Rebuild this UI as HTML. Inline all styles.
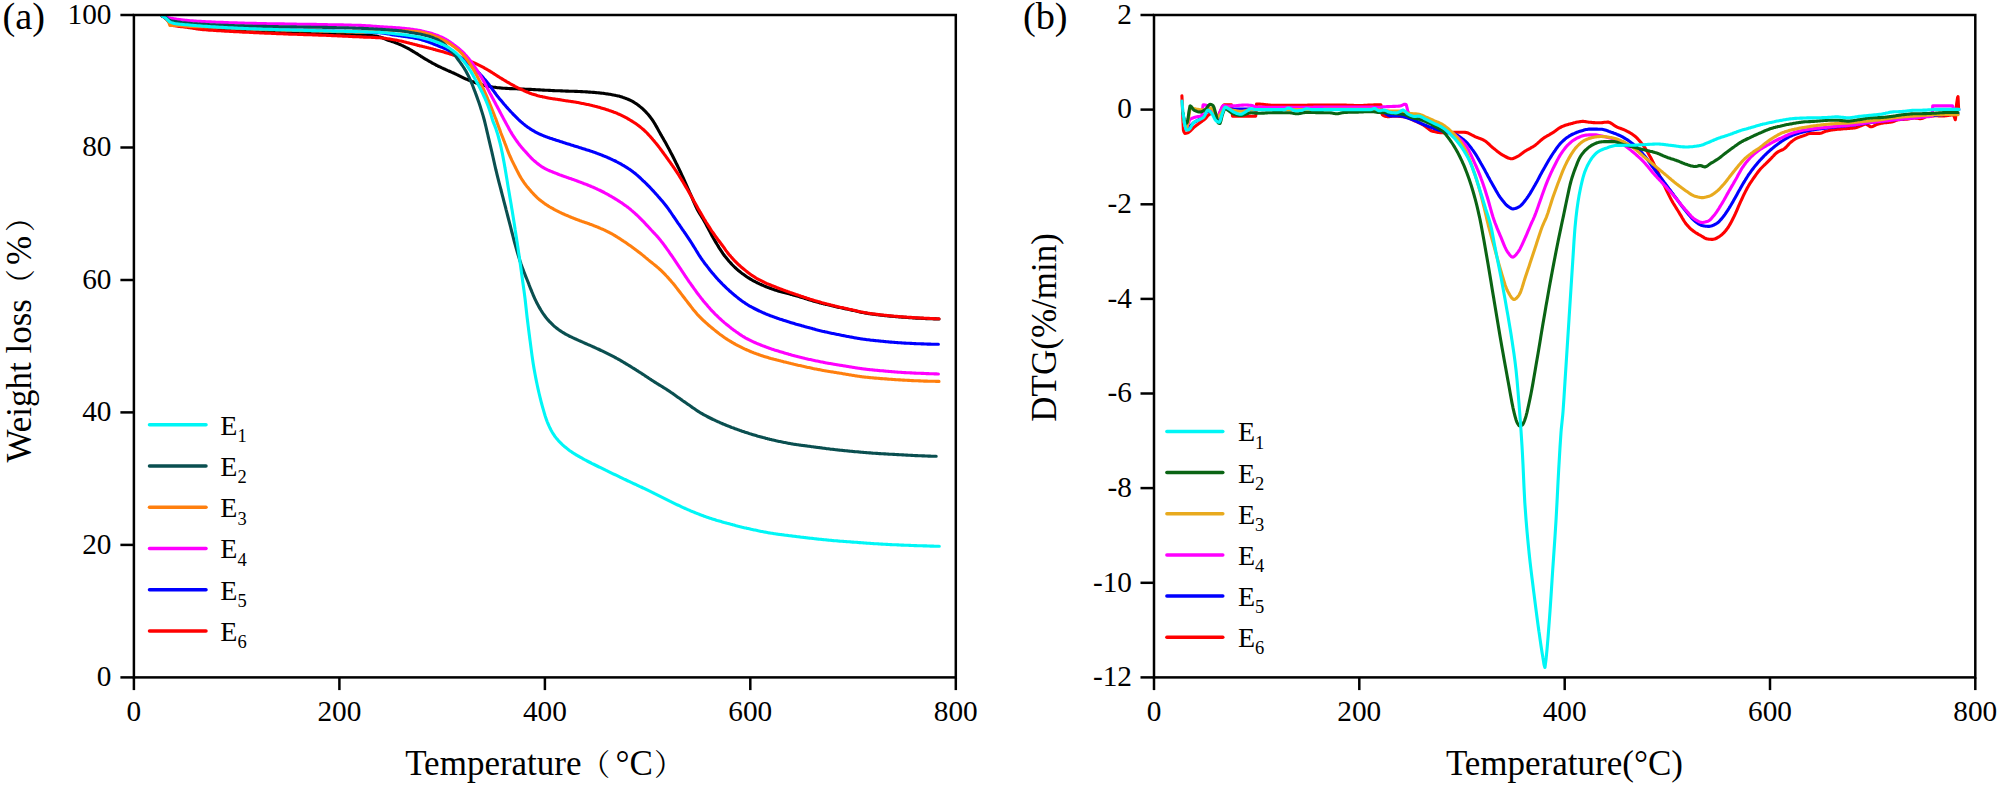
<!DOCTYPE html>
<html><head><meta charset="utf-8"><title>TG and DTG curves</title>
<style>
html,body{margin:0;padding:0;background:#fff;}
body{width:2000px;height:788px;overflow:hidden;}
svg{display:block}
text{font-family:"Liberation Serif","Noto Serif CJK SC",serif;fill:#000;}
.tk{font-size:29.3px}
.ax{font-size:35px}
.pl{font-size:38.3px}
.fw{font-size:30px}
.lg{font-size:28px}
.sub{font-size:18.5px}
</style></head><body>
<svg width="2000" height="788" viewBox="0 0 2000 788">
<rect width="2000" height="788" fill="#fff"/>
<g id="panel-a">
<path d="M161.9 15.8 L162.9 16.4 L163.9 17.0 L164.9 17.7 L165.9 18.5 L166.3 18.8 L166.9 19.4 L167.9 20.5 L168.9 21.6 L169.9 22.4 L170.0 22.5 L170.9 23.0 L171.9 23.5 L172.9 23.9 L173.9 24.3 L174.9 24.6 L175.0 24.6 L175.9 24.8 L176.9 25.0 L177.9 25.2 L178.9 25.4 L179.9 25.6 L180.9 25.7 L181.9 25.9 L182.9 26.0 L183.9 26.2 L184.9 26.3 L185.9 26.4 L186.9 26.5 L187.5 26.6 L187.9 26.6 L188.9 26.8 L189.9 26.9 L190.9 27.0 L191.9 27.1 L192.9 27.2 L193.9 27.3 L194.9 27.5 L195.9 27.6 L196.9 27.7 L197.9 27.8 L198.9 27.9 L199.9 28.0 L200.9 28.1 L201.9 28.1 L202.9 28.2 L203.9 28.3 L204.9 28.4 L205.9 28.5 L206.9 28.6 L207.9 28.7 L208.9 28.7 L209.9 28.8 L210.9 28.9 L211.9 29.0 L212.5 29.0 L212.9 29.0 L213.9 29.1 L214.9 29.2 L215.9 29.2 L216.9 29.3 L217.9 29.4 L218.9 29.4 L219.9 29.5 L220.9 29.5 L221.9 29.6 L222.9 29.7 L223.9 29.7 L224.9 29.8 L225.9 29.8 L226.9 29.9 L227.9 29.9 L228.9 30.0 L229.9 30.0 L230.9 30.1 L231.9 30.1 L232.9 30.2 L233.9 30.2 L234.9 30.3 L235.9 30.3 L236.9 30.4 L237.9 30.4 L238.9 30.5 L239.9 30.5 L240.9 30.6 L241.9 30.6 L242.9 30.7 L243.9 30.7 L244.9 30.8 L245.9 30.8 L246.9 30.9 L247.9 30.9 L248.9 31.0 L249.9 31.0 L250.0 31.0 L250.9 31.0 L251.9 31.1 L252.9 31.1 L253.9 31.2 L254.9 31.2 L255.9 31.3 L256.9 31.3 L257.9 31.4 L258.9 31.4 L259.9 31.4 L260.9 31.5 L261.9 31.5 L262.9 31.6 L263.9 31.6 L264.9 31.6 L265.9 31.7 L266.9 31.7 L267.9 31.8 L268.9 31.8 L269.9 31.9 L270.9 31.9 L271.9 31.9 L272.9 32.0 L273.9 32.0 L274.9 32.0 L275.9 32.1 L276.9 32.1 L277.9 32.2 L278.9 32.2 L279.9 32.2 L280.9 32.3 L281.9 32.3 L282.9 32.3 L283.9 32.4 L284.9 32.4 L285.9 32.4 L286.9 32.5 L287.5 32.5 L287.9 32.5 L288.9 32.5 L289.9 32.6 L290.9 32.6 L291.9 32.6 L292.9 32.7 L293.9 32.7 L294.9 32.7 L295.9 32.8 L296.9 32.8 L297.9 32.8 L298.9 32.9 L299.9 32.9 L300.9 32.9 L301.9 33.0 L302.9 33.0 L303.9 33.0 L304.9 33.0 L305.9 33.1 L306.9 33.1 L307.9 33.1 L308.9 33.1 L309.9 33.2 L310.9 33.2 L311.9 33.2 L312.9 33.3 L313.9 33.3 L314.9 33.3 L315.9 33.3 L316.9 33.4 L317.9 33.4 L318.9 33.4 L319.9 33.5 L320.9 33.5 L321.9 33.5 L322.9 33.5 L323.9 33.6 L324.9 33.6 L325.0 33.6 L325.9 33.6 L326.9 33.7 L327.9 33.7 L328.9 33.7 L329.9 33.7 L330.9 33.8 L331.9 33.8 L332.9 33.8 L333.9 33.8 L334.9 33.9 L335.9 33.9 L336.9 33.9 L337.9 33.9 L338.9 34.0 L339.9 34.0 L340.9 34.0 L341.9 34.0 L342.9 34.1 L343.9 34.1 L344.9 34.1 L345.9 34.2 L346.9 34.2 L347.9 34.2 L348.9 34.3 L349.9 34.3 L350.0 34.3 L350.9 34.3 L351.9 34.4 L352.9 34.4 L353.9 34.4 L354.9 34.5 L355.9 34.5 L356.9 34.6 L357.9 34.6 L358.9 34.6 L359.9 34.7 L360.9 34.7 L361.9 34.8 L362.9 34.8 L363.9 34.9 L364.9 34.9 L365.9 35.0 L366.9 35.1 L367.9 35.1 L368.8 35.2 L368.9 35.2 L369.9 35.3 L370.9 35.4 L371.9 35.5 L372.9 35.7 L373.9 35.8 L374.9 36.0 L375.9 36.1 L376.9 36.3 L377.9 36.5 L378.9 36.8 L379.9 37.0 L380.0 37.0 L380.9 37.3 L381.9 37.6 L382.9 38.0 L383.9 38.5 L384.9 38.9 L385.9 39.4 L386.9 39.8 L387.5 40.0 L387.9 40.2 L388.9 40.5 L389.9 40.8 L390.9 41.1 L391.9 41.5 L392.9 41.8 L393.9 42.1 L394.9 42.5 L395.0 42.5 L395.9 42.9 L396.9 43.2 L397.9 43.6 L398.9 44.1 L399.9 44.5 L400.9 44.9 L401.9 45.4 L402.9 45.8 L403.9 46.3 L404.9 46.8 L405.0 46.8 L405.9 47.3 L406.9 47.8 L407.9 48.3 L408.9 48.9 L409.9 49.5 L410.9 50.1 L411.9 50.7 L412.9 51.3 L413.9 51.9 L414.9 52.5 L415.0 52.5 L415.9 53.1 L416.9 53.7 L417.9 54.3 L418.9 55.0 L419.9 55.6 L420.9 56.3 L421.9 56.9 L422.9 57.5 L423.9 58.2 L424.9 58.8 L425.0 58.8 L425.9 59.4 L426.9 59.9 L427.9 60.5 L428.9 61.1 L429.9 61.7 L430.9 62.2 L431.9 62.8 L432.9 63.4 L433.9 63.9 L434.9 64.4 L435.9 65.0 L436.9 65.5 L437.0 65.5 L437.9 66.0 L438.9 66.5 L439.9 66.9 L440.9 67.4 L441.9 67.9 L442.9 68.3 L443.9 68.8 L444.9 69.2 L445.9 69.7 L446.9 70.1 L447.9 70.6 L448.9 71.0 L449.9 71.5 L450.0 71.5 L450.9 71.9 L451.9 72.4 L452.9 72.8 L453.9 73.2 L454.9 73.7 L455.9 74.1 L456.9 74.6 L457.6 74.9 L457.9 75.1 L458.9 75.6 L459.9 76.1 L460.9 76.6 L461.9 77.1 L462.9 77.6 L463.9 78.1 L464.9 78.6 L465.2 78.7 L465.9 79.0 L466.9 79.4 L467.9 79.8 L468.9 80.2 L469.9 80.6 L470.9 81.0 L471.9 81.4 L472.8 81.7 L472.9 81.8 L473.9 82.1 L474.9 82.5 L475.9 82.9 L476.9 83.2 L477.9 83.6 L478.9 83.9 L479.9 84.2 L480.5 84.4 L480.9 84.5 L481.9 84.8 L482.9 85.1 L483.9 85.4 L484.9 85.6 L485.9 85.9 L486.9 86.1 L487.9 86.3 L488.1 86.3 L488.9 86.4 L489.9 86.6 L490.9 86.8 L491.9 86.9 L492.9 87.1 L493.9 87.2 L494.9 87.3 L495.7 87.4 L495.9 87.4 L496.9 87.6 L497.9 87.7 L498.9 87.8 L499.9 87.9 L500.9 88.0 L501.9 88.1 L502.9 88.2 L503.3 88.2 L503.9 88.2 L504.9 88.3 L505.9 88.4 L506.9 88.4 L507.9 88.5 L508.9 88.5 L509.9 88.6 L510.9 88.6 L510.9 88.6 L511.9 88.6 L512.9 88.7 L513.9 88.7 L514.9 88.8 L515.9 88.8 L516.9 88.8 L517.9 88.9 L518.5 88.9 L518.9 88.9 L519.9 89.0 L520.9 89.0 L521.9 89.0 L522.9 89.1 L523.9 89.1 L524.9 89.2 L525.9 89.2 L526.9 89.3 L527.9 89.3 L528.9 89.4 L529.9 89.4 L530.0 89.4 L530.9 89.4 L531.9 89.5 L532.9 89.5 L533.9 89.6 L534.9 89.6 L535.9 89.7 L536.9 89.8 L537.9 89.8 L538.9 89.9 L539.9 89.9 L540.9 90.0 L541.9 90.0 L542.9 90.1 L543.9 90.1 L544.9 90.2 L545.9 90.2 L546.9 90.3 L547.9 90.3 L548.9 90.4 L549.9 90.4 L551.0 90.5 L551.3 90.5 L552.0 90.5 L553.0 90.6 L554.0 90.6 L555.0 90.7 L556.0 90.7 L557.0 90.7 L558.0 90.8 L559.0 90.8 L560.0 90.8 L561.0 90.9 L562.0 90.9 L563.0 91.0 L564.0 91.0 L565.0 91.0 L566.0 91.1 L567.0 91.1 L568.0 91.1 L569.0 91.2 L570.0 91.2 L570.0 91.2 L571.0 91.2 L572.0 91.3 L573.0 91.3 L574.0 91.3 L575.0 91.4 L576.0 91.4 L577.0 91.4 L578.0 91.5 L579.0 91.5 L579.0 91.5 L580.0 91.5 L581.0 91.6 L582.0 91.6 L583.0 91.7 L584.0 91.7 L585.0 91.8 L586.0 91.9 L587.0 91.9 L588.0 92.0 L589.0 92.1 L590.0 92.1 L591.0 92.2 L592.0 92.3 L593.0 92.4 L594.0 92.4 L595.0 92.5 L596.0 92.6 L597.0 92.7 L598.0 92.8 L598.1 92.8 L599.0 92.9 L600.0 93.0 L601.0 93.1 L602.0 93.2 L603.0 93.3 L604.0 93.4 L605.0 93.6 L606.0 93.7 L607.0 93.9 L608.0 94.0 L609.0 94.2 L610.0 94.3 L611.0 94.5 L612.0 94.7 L613.0 94.9 L614.0 95.1 L615.0 95.2 L616.0 95.5 L617.0 95.7 L617.1 95.7 L618.0 95.9 L619.0 96.1 L620.0 96.4 L621.0 96.7 L622.0 97.0 L623.0 97.4 L624.0 97.7 L625.0 98.1 L626.0 98.5 L627.0 98.9 L628.0 99.3 L629.0 99.7 L630.0 100.2 L630.4 100.4 L631.0 100.7 L632.0 101.2 L633.0 101.7 L634.0 102.3 L635.0 103.0 L636.0 103.6 L637.0 104.3 L638.0 105.0 L639.0 105.8 L640.0 106.6 L641.0 107.4 L641.8 108.1 L642.0 108.2 L643.0 109.1 L644.0 110.1 L645.0 111.0 L646.0 112.1 L647.0 113.2 L648.0 114.3 L649.0 115.5 L650.0 116.8 L651.0 118.1 L651.3 118.5 L652.0 119.4 L653.0 120.9 L654.0 122.5 L655.0 124.1 L656.0 125.9 L657.0 127.6 L658.0 129.4 L659.0 131.3 L660.0 133.0 L660.9 134.7 L661.0 134.8 L662.0 136.6 L663.0 138.3 L664.0 140.1 L665.0 141.8 L666.0 143.6 L667.0 145.4 L668.0 147.3 L669.0 149.1 L670.0 151.0 L670.4 151.8 L671.0 152.9 L672.0 154.8 L673.0 156.8 L674.0 158.7 L675.0 160.7 L676.0 162.8 L677.0 164.8 L678.0 166.9 L679.0 168.9 L679.9 170.9 L680.0 171.0 L681.0 173.2 L682.0 175.3 L683.0 177.5 L684.0 179.7 L685.0 181.9 L686.0 184.1 L687.0 186.4 L688.0 188.6 L689.0 190.8 L689.4 191.8 L690.0 193.1 L691.0 195.4 L692.0 197.7 L693.0 200.1 L694.0 202.4 L695.0 204.7 L696.0 206.8 L697.0 208.8 L697.0 208.9 L698.0 210.7 L699.0 212.5 L700.0 214.2 L701.0 215.8 L702.0 217.4 L703.0 219.0 L704.0 220.7 L704.7 222.0 L705.0 222.5 L706.0 224.3 L707.0 226.2 L708.0 228.1 L709.0 230.0 L710.0 231.9 L711.0 233.8 L712.0 235.7 L713.0 237.4 L713.3 238.0 L714.0 239.2 L715.0 240.9 L716.0 242.6 L717.0 244.3 L718.0 245.9 L719.0 247.6 L720.0 249.2 L721.0 250.7 L722.0 252.2 L723.0 253.7 L724.0 255.0 L724.7 256.0 L725.0 256.3 L726.0 257.6 L727.0 258.8 L728.0 260.0 L729.0 261.2 L730.0 262.3 L731.0 263.4 L732.0 264.5 L733.0 265.5 L734.0 266.5 L735.0 267.5 L736.0 268.4 L737.0 269.3 L738.0 270.2 L738.0 270.2 L739.0 271.0 L740.0 271.8 L741.0 272.6 L742.0 273.4 L743.0 274.1 L744.0 274.8 L745.0 275.5 L746.0 276.2 L747.0 276.9 L748.0 277.6 L749.0 278.2 L750.0 278.8 L751.0 279.4 L752.0 280.0 L753.0 280.6 L754.0 281.1 L755.0 281.6 L755.1 281.7 L756.0 282.1 L757.0 282.7 L758.0 283.1 L759.0 283.6 L760.0 284.1 L761.0 284.5 L762.0 285.0 L763.0 285.4 L764.0 285.9 L765.0 286.3 L766.0 286.7 L767.0 287.1 L768.0 287.5 L769.0 287.8 L770.0 288.2 L771.0 288.6 L772.0 288.9 L773.0 289.3 L774.0 289.6 L774.2 289.7 L775.0 290.0 L776.0 290.3 L777.0 290.6 L778.0 290.9 L779.0 291.2 L780.0 291.5 L781.0 291.7 L782.0 292.0 L783.0 292.3 L784.0 292.6 L785.0 292.8 L786.0 293.1 L787.0 293.3 L788.0 293.6 L789.0 293.8 L790.0 294.1 L791.0 294.4 L792.0 294.6 L793.0 294.9 L794.0 295.2 L795.0 295.4 L796.0 295.7 L797.0 296.0 L797.0 296.0 L798.0 296.3 L799.0 296.6 L800.0 296.9 L801.0 297.2 L802.0 297.5 L803.0 297.8 L804.0 298.1 L805.0 298.5 L806.0 298.8 L807.0 299.1 L808.0 299.4 L809.0 299.7 L810.0 300.0 L811.0 300.3 L812.0 300.6 L813.0 300.9 L814.0 301.2 L815.0 301.5 L816.0 301.8 L816.0 301.8 L817.0 302.1 L818.0 302.3 L819.0 302.6 L820.0 302.9 L821.0 303.1 L822.0 303.4 L823.0 303.6 L824.0 303.9 L825.0 304.1 L826.0 304.4 L827.0 304.6 L828.0 304.8 L829.0 305.1 L830.0 305.3 L831.0 305.5 L832.0 305.8 L833.0 306.0 L834.0 306.2 L835.0 306.5 L835.1 306.5 L836.0 306.7 L837.0 306.9 L838.0 307.2 L839.0 307.4 L840.0 307.6 L841.0 307.8 L842.0 308.0 L843.0 308.2 L844.0 308.5 L845.0 308.7 L846.0 308.9 L847.0 309.1 L848.0 309.3 L849.0 309.5 L850.0 309.7 L851.0 309.9 L852.0 310.2 L853.0 310.4 L854.0 310.6 L855.0 310.8 L855.0 310.8 L856.0 311.0 L857.0 311.2 L858.0 311.5 L859.0 311.7 L860.0 311.9 L861.0 312.2 L862.0 312.4 L863.0 312.6 L864.0 312.8 L865.0 313.0 L865.1 313.0 L866.0 313.1 L867.0 313.3 L868.0 313.5 L869.0 313.6 L870.0 313.8 L871.0 313.9 L872.0 314.0 L873.0 314.2 L874.0 314.3 L875.0 314.4 L876.0 314.6 L877.0 314.7 L878.0 314.8 L879.0 314.9 L880.0 315.0 L881.0 315.2 L882.0 315.3 L883.0 315.4 L884.0 315.5 L884.2 315.5 L885.0 315.6 L886.0 315.7 L887.0 315.8 L888.0 315.9 L889.0 316.0 L890.0 316.1 L891.0 316.2 L892.0 316.3 L893.0 316.4 L894.0 316.5 L895.0 316.5 L896.0 316.6 L897.0 316.7 L898.0 316.8 L899.0 316.9 L900.0 317.0 L901.0 317.0 L902.0 317.1 L903.0 317.2 L903.2 317.2 L904.0 317.3 L905.0 317.3 L906.0 317.4 L907.0 317.5 L908.0 317.5 L909.0 317.6 L910.0 317.7 L911.0 317.8 L912.0 317.8 L913.0 317.9 L914.0 318.0 L915.0 318.0 L916.0 318.1 L917.0 318.1 L918.0 318.2 L919.0 318.2 L920.0 318.3 L921.0 318.3 L922.0 318.4 L922.2 318.4 L923.0 318.4 L924.0 318.5 L925.0 318.5 L926.0 318.6 L927.0 318.6 L928.0 318.6 L929.0 318.7 L930.0 318.7 L931.0 318.8 L932.0 318.8 L933.0 318.8 L934.0 318.9 L935.0 318.9 L936.0 318.9 L937.0 319.0 L938.0 319.0 L939.0 319.0" fill="none" stroke="#000000" stroke-width="3.1" stroke-linejoin="round" stroke-linecap="round"/>
<path d="M161.9 15.8 L162.9 16.3 L163.9 16.9 L164.9 17.6 L165.9 18.5 L166.3 18.8 L166.9 19.4 L167.9 20.5 L168.9 21.8 L169.3 22.3 L169.9 23.4 L170.9 24.9 L171.0 25.0 L171.9 25.3 L172.9 25.5 L173.9 25.6 L174.9 25.8 L175.0 25.8 L175.9 25.9 L176.9 26.1 L177.9 26.2 L178.9 26.4 L179.9 26.5 L180.9 26.6 L181.9 26.7 L182.9 26.8 L183.9 26.9 L184.9 27.1 L185.9 27.2 L186.9 27.3 L187.5 27.4 L187.9 27.5 L188.9 27.6 L189.9 27.8 L190.9 27.9 L191.9 28.1 L192.9 28.3 L193.9 28.4 L194.9 28.6 L195.9 28.8 L196.9 28.9 L197.9 29.0 L198.9 29.2 L199.9 29.3 L200.0 29.3 L200.9 29.4 L201.9 29.5 L202.9 29.6 L203.9 29.7 L204.9 29.8 L205.9 29.8 L206.9 29.9 L207.9 30.0 L208.9 30.1 L209.9 30.1 L210.9 30.2 L211.9 30.3 L212.5 30.3 L212.9 30.3 L213.9 30.4 L214.9 30.5 L215.9 30.5 L216.9 30.6 L217.9 30.7 L218.9 30.7 L219.9 30.8 L220.9 30.8 L221.9 30.9 L222.9 31.0 L223.9 31.0 L224.9 31.1 L225.9 31.1 L226.9 31.2 L227.9 31.3 L228.9 31.3 L229.9 31.4 L230.9 31.4 L231.9 31.5 L232.9 31.5 L233.9 31.6 L234.9 31.6 L235.9 31.7 L236.9 31.7 L237.9 31.8 L238.9 31.8 L239.9 31.9 L240.9 32.0 L241.9 32.0 L242.9 32.1 L243.9 32.1 L244.9 32.2 L245.9 32.2 L246.9 32.2 L247.9 32.3 L248.9 32.3 L249.9 32.4 L250.0 32.4 L250.9 32.4 L251.9 32.5 L252.9 32.5 L253.9 32.6 L254.9 32.6 L255.9 32.7 L256.9 32.7 L257.9 32.8 L258.9 32.8 L259.9 32.9 L260.9 32.9 L261.9 33.0 L262.9 33.0 L263.9 33.0 L264.9 33.1 L265.9 33.1 L266.9 33.2 L267.9 33.2 L268.9 33.3 L269.9 33.3 L270.9 33.3 L271.9 33.4 L272.9 33.4 L273.9 33.5 L274.9 33.5 L275.9 33.5 L276.9 33.6 L277.9 33.6 L278.9 33.7 L279.9 33.7 L280.9 33.7 L281.9 33.8 L282.9 33.8 L283.9 33.9 L284.9 33.9 L285.9 33.9 L286.9 34.0 L287.5 34.0 L287.9 34.0 L288.9 34.1 L289.9 34.1 L290.9 34.1 L291.9 34.2 L292.9 34.2 L293.9 34.2 L294.9 34.3 L295.9 34.3 L296.9 34.3 L297.9 34.4 L298.9 34.4 L299.9 34.4 L300.9 34.5 L301.9 34.5 L302.9 34.5 L303.9 34.6 L304.9 34.6 L305.9 34.6 L306.9 34.7 L307.9 34.7 L308.9 34.7 L309.9 34.8 L310.9 34.8 L311.9 34.8 L312.9 34.9 L313.9 34.9 L314.9 34.9 L315.9 35.0 L316.9 35.0 L317.9 35.0 L318.9 35.1 L319.9 35.1 L320.9 35.1 L321.9 35.2 L322.9 35.2 L323.9 35.3 L324.9 35.3 L325.0 35.3 L325.9 35.3 L326.9 35.4 L327.9 35.4 L328.9 35.5 L329.9 35.5 L330.9 35.5 L331.9 35.6 L332.9 35.6 L333.9 35.7 L334.9 35.7 L335.9 35.8 L336.9 35.8 L337.9 35.9 L338.9 35.9 L339.9 35.9 L340.9 36.0 L341.9 36.0 L342.9 36.1 L343.9 36.1 L344.9 36.2 L345.9 36.2 L346.9 36.3 L347.9 36.3 L348.9 36.4 L349.9 36.4 L350.9 36.5 L351.9 36.5 L352.9 36.6 L353.9 36.6 L354.9 36.6 L355.9 36.7 L356.9 36.7 L357.9 36.8 L358.9 36.8 L359.9 36.9 L360.9 36.9 L361.9 37.0 L362.5 37.0 L362.9 37.0 L363.9 37.1 L364.9 37.1 L365.9 37.1 L366.9 37.2 L367.9 37.2 L368.9 37.3 L369.9 37.3 L370.9 37.3 L371.9 37.4 L372.9 37.4 L373.9 37.5 L374.9 37.5 L375.9 37.6 L376.9 37.6 L377.9 37.7 L378.9 37.7 L379.9 37.8 L380.0 37.8 L380.9 37.9 L381.9 38.0 L382.9 38.1 L383.9 38.2 L384.9 38.3 L385.9 38.4 L386.9 38.6 L387.9 38.7 L388.9 38.9 L389.9 39.0 L390.9 39.2 L391.9 39.4 L392.9 39.6 L393.9 39.7 L394.9 39.9 L395.9 40.1 L396.9 40.3 L397.9 40.5 L398.9 40.7 L399.0 40.7 L399.9 40.9 L400.9 41.1 L401.9 41.3 L402.9 41.5 L403.9 41.8 L404.9 42.0 L405.9 42.2 L406.9 42.5 L407.9 42.7 L408.9 43.0 L409.9 43.3 L410.9 43.5 L411.9 43.8 L412.9 44.1 L413.9 44.3 L414.9 44.6 L415.9 44.8 L416.9 45.1 L417.9 45.4 L418.1 45.4 L418.9 45.6 L419.9 45.9 L420.9 46.1 L421.9 46.3 L422.9 46.6 L423.9 46.8 L424.9 47.1 L425.9 47.3 L426.9 47.6 L427.9 47.8 L428.9 48.1 L429.9 48.3 L430.9 48.6 L431.9 48.8 L432.9 49.1 L433.9 49.4 L434.9 49.6 L435.9 49.9 L436.9 50.2 L437.1 50.2 L437.9 50.4 L438.9 50.7 L439.9 51.0 L440.9 51.3 L441.9 51.5 L442.9 51.8 L443.9 52.1 L444.9 52.4 L445.9 52.7 L446.9 53.0 L447.9 53.3 L448.9 53.6 L449.9 53.9 L450.9 54.2 L451.9 54.5 L452.9 54.9 L453.9 55.2 L454.9 55.5 L455.9 55.8 L456.1 55.9 L456.9 56.2 L457.9 56.5 L458.9 56.9 L459.9 57.2 L460.9 57.6 L461.9 57.9 L462.9 58.3 L463.9 58.7 L464.9 59.0 L465.9 59.4 L466.9 59.8 L467.9 60.2 L468.9 60.6 L469.9 61.0 L470.9 61.4 L471.3 61.6 L471.9 61.9 L472.9 62.3 L473.9 62.8 L474.9 63.2 L475.9 63.7 L476.9 64.2 L477.9 64.7 L478.9 65.2 L479.9 65.7 L480.9 66.2 L481.9 66.7 L482.9 67.2 L483.9 67.7 L484.9 68.3 L485.9 68.8 L486.6 69.2 L486.9 69.4 L487.9 70.0 L488.9 70.6 L489.9 71.2 L490.9 71.8 L491.9 72.4 L492.9 73.1 L493.9 73.7 L494.9 74.4 L495.9 75.0 L496.9 75.7 L497.9 76.3 L498.9 76.9 L499.9 77.6 L500.9 78.2 L501.8 78.7 L501.9 78.8 L502.9 79.4 L503.9 80.0 L504.9 80.6 L505.9 81.2 L506.9 81.8 L507.9 82.3 L508.9 82.9 L509.9 83.5 L510.9 84.1 L511.9 84.6 L512.9 85.2 L513.9 85.7 L514.9 86.3 L515.9 86.8 L516.9 87.3 L517.0 87.3 L517.9 87.8 L518.9 88.3 L519.9 88.8 L520.9 89.3 L521.9 89.7 L522.9 90.2 L523.9 90.7 L524.9 91.1 L525.9 91.6 L526.9 92.0 L527.9 92.4 L528.9 92.8 L529.9 93.2 L530.9 93.6 L531.9 93.9 L532.2 94.0 L532.9 94.2 L533.9 94.5 L534.9 94.8 L535.9 95.1 L536.9 95.4 L537.9 95.7 L538.9 95.9 L539.9 96.2 L540.9 96.4 L541.9 96.6 L542.9 96.9 L543.9 97.1 L544.9 97.3 L545.9 97.5 L546.9 97.7 L547.5 97.8 L547.9 97.9 L548.9 98.1 L549.9 98.2 L551.0 98.4 L552.0 98.6 L553.0 98.7 L554.0 98.9 L555.0 99.0 L556.0 99.2 L557.0 99.3 L558.0 99.5 L559.0 99.6 L560.0 99.8 L561.0 99.9 L562.0 100.1 L562.7 100.2 L563.0 100.2 L564.0 100.4 L565.0 100.6 L566.0 100.7 L567.0 100.9 L568.0 101.0 L569.0 101.2 L570.0 101.3 L571.0 101.5 L572.0 101.6 L573.0 101.8 L574.0 101.9 L575.0 102.1 L576.0 102.3 L577.0 102.4 L578.0 102.6 L579.0 102.8 L579.0 102.8 L580.0 103.0 L581.0 103.2 L582.0 103.4 L583.0 103.6 L584.0 103.8 L585.0 104.0 L586.0 104.2 L587.0 104.4 L588.0 104.6 L589.0 104.8 L590.0 105.1 L591.0 105.3 L592.0 105.5 L593.0 105.8 L594.0 106.0 L595.0 106.3 L596.0 106.5 L597.0 106.8 L598.0 107.1 L598.1 107.1 L599.0 107.3 L600.0 107.6 L601.0 107.9 L602.0 108.2 L603.0 108.5 L604.0 108.8 L605.0 109.1 L606.0 109.4 L607.0 109.7 L608.0 110.0 L609.0 110.4 L610.0 110.7 L611.0 111.1 L612.0 111.4 L613.0 111.8 L614.0 112.2 L615.0 112.5 L616.0 112.9 L617.0 113.3 L617.1 113.4 L618.0 113.8 L619.0 114.2 L620.0 114.6 L621.0 115.1 L622.0 115.6 L623.0 116.1 L624.0 116.6 L625.0 117.1 L626.0 117.7 L627.0 118.2 L628.0 118.8 L629.0 119.4 L630.0 120.0 L631.0 120.6 L632.0 121.2 L632.3 121.4 L633.0 121.8 L634.0 122.5 L635.0 123.1 L636.0 123.8 L637.0 124.5 L638.0 125.2 L639.0 126.0 L640.0 126.8 L641.0 127.6 L642.0 128.4 L643.0 129.3 L643.7 129.9 L644.0 130.1 L645.0 131.1 L646.0 132.0 L647.0 133.0 L648.0 134.1 L649.0 135.2 L650.0 136.3 L651.0 137.4 L652.0 138.6 L653.0 139.8 L654.0 140.9 L655.0 142.1 L655.1 142.3 L656.0 143.3 L657.0 144.6 L658.0 145.8 L659.0 147.1 L660.0 148.4 L661.0 149.8 L662.0 151.1 L663.0 152.5 L664.0 153.9 L665.0 155.2 L666.0 156.6 L666.6 157.5 L667.0 158.0 L668.0 159.4 L669.0 160.8 L670.0 162.2 L671.0 163.6 L672.0 165.0 L673.0 166.5 L674.0 167.9 L675.0 169.4 L676.0 170.9 L677.0 172.4 L678.0 173.9 L678.0 174.0 L679.0 175.5 L680.0 177.1 L681.0 178.7 L682.0 180.4 L683.0 182.0 L684.0 183.7 L685.0 185.4 L686.0 187.1 L687.0 188.8 L688.0 190.5 L689.0 192.3 L689.4 193.0 L690.0 194.0 L691.0 195.8 L692.0 197.5 L693.0 199.3 L694.0 201.2 L695.0 203.0 L696.0 204.8 L697.0 206.6 L698.0 208.4 L698.9 210.0 L699.0 210.1 L700.0 211.9 L701.0 213.6 L702.0 215.3 L703.0 217.0 L704.0 218.7 L705.0 220.3 L706.0 222.0 L706.0 222.0 L707.0 223.5 L708.0 225.1 L709.0 226.7 L710.0 228.2 L711.0 229.8 L712.0 231.3 L713.0 232.7 L714.0 234.2 L714.2 234.5 L715.0 235.6 L716.0 237.0 L717.0 238.3 L718.0 239.7 L719.0 241.0 L720.0 242.3 L721.0 243.6 L722.0 245.0 L722.0 245.0 L723.0 246.3 L724.0 247.7 L725.0 249.2 L726.0 250.6 L727.0 251.9 L728.0 253.2 L729.0 254.5 L729.0 254.5 L730.0 255.6 L731.0 256.8 L732.0 257.9 L733.0 259.0 L734.0 260.1 L735.0 261.1 L736.0 262.1 L737.0 263.1 L738.0 264.1 L739.0 265.0 L740.0 265.9 L741.0 266.8 L741.8 267.5 L742.0 267.6 L743.0 268.5 L744.0 269.3 L745.0 270.1 L746.0 270.9 L747.0 271.7 L748.0 272.5 L749.0 273.2 L750.0 273.9 L751.0 274.7 L752.0 275.4 L753.0 276.0 L754.0 276.7 L755.0 277.3 L756.0 278.0 L757.0 278.6 L758.0 279.1 L759.0 279.7 L759.0 279.7 L760.0 280.2 L761.0 280.7 L762.0 281.2 L763.0 281.7 L764.0 282.2 L765.0 282.7 L766.0 283.1 L767.0 283.6 L768.0 284.0 L769.0 284.4 L770.0 284.8 L771.0 285.2 L772.0 285.6 L773.0 286.0 L774.0 286.4 L775.0 286.8 L776.0 287.2 L777.0 287.6 L778.0 288.0 L778.0 288.0 L779.0 288.4 L780.0 288.8 L781.0 289.1 L782.0 289.5 L783.0 289.9 L784.0 290.3 L785.0 290.6 L786.0 291.0 L787.0 291.3 L788.0 291.7 L789.0 292.0 L790.0 292.4 L791.0 292.7 L792.0 293.1 L793.0 293.4 L794.0 293.8 L795.0 294.1 L796.0 294.5 L797.0 294.8 L797.0 294.8 L798.0 295.1 L799.0 295.5 L800.0 295.8 L801.0 296.2 L802.0 296.5 L803.0 296.8 L804.0 297.2 L805.0 297.5 L806.0 297.8 L807.0 298.2 L808.0 298.5 L809.0 298.8 L810.0 299.2 L811.0 299.5 L812.0 299.8 L813.0 300.1 L814.0 300.4 L815.0 300.7 L816.0 301.0 L816.0 301.0 L817.0 301.3 L818.0 301.6 L819.0 301.8 L820.0 302.1 L821.0 302.4 L822.0 302.7 L823.0 302.9 L824.0 303.2 L825.0 303.5 L826.0 303.7 L827.0 304.0 L828.0 304.2 L829.0 304.5 L830.0 304.7 L831.0 305.0 L832.0 305.2 L833.0 305.5 L834.0 305.7 L835.0 306.0 L835.1 306.0 L836.0 306.2 L837.0 306.5 L838.0 306.7 L839.0 306.9 L840.0 307.2 L841.0 307.4 L842.0 307.6 L843.0 307.8 L844.0 308.1 L845.0 308.3 L846.0 308.5 L847.0 308.7 L848.0 309.0 L849.0 309.2 L850.0 309.4 L851.0 309.6 L852.0 309.8 L853.0 310.1 L854.0 310.3 L855.0 310.5 L855.0 310.5 L856.0 310.7 L857.0 311.0 L858.0 311.2 L859.0 311.4 L860.0 311.7 L861.0 311.9 L862.0 312.1 L863.0 312.3 L864.0 312.5 L865.0 312.7 L865.1 312.7 L866.0 312.8 L867.0 313.0 L868.0 313.2 L869.0 313.3 L870.0 313.5 L871.0 313.6 L872.0 313.7 L873.0 313.9 L874.0 314.0 L875.0 314.1 L876.0 314.3 L877.0 314.4 L878.0 314.5 L879.0 314.6 L880.0 314.7 L881.0 314.9 L882.0 315.0 L883.0 315.1 L884.0 315.2 L884.2 315.2 L885.0 315.3 L886.0 315.4 L887.0 315.5 L888.0 315.6 L889.0 315.7 L890.0 315.8 L891.0 315.9 L892.0 316.0 L893.0 316.1 L894.0 316.2 L895.0 316.2 L896.0 316.3 L897.0 316.4 L898.0 316.5 L899.0 316.6 L900.0 316.7 L901.0 316.7 L902.0 316.8 L903.0 316.9 L903.2 316.9 L904.0 317.0 L905.0 317.0 L906.0 317.1 L907.0 317.2 L908.0 317.2 L909.0 317.3 L910.0 317.4 L911.0 317.4 L912.0 317.5 L913.0 317.6 L914.0 317.6 L915.0 317.7 L916.0 317.8 L917.0 317.8 L918.0 317.9 L919.0 317.9 L920.0 318.0 L921.0 318.0 L922.0 318.1 L922.2 318.1 L923.0 318.1 L924.0 318.2 L925.0 318.2 L926.0 318.3 L927.0 318.3 L928.0 318.4 L929.0 318.4 L930.0 318.5 L931.0 318.5 L932.0 318.5 L933.0 318.6 L934.0 318.6 L935.0 318.7 L936.0 318.7 L937.0 318.7 L938.0 318.8 L939.0 318.8" fill="none" stroke="#ff0000" stroke-width="3.1" stroke-linejoin="round" stroke-linecap="round"/>
<path d="M161.9 15.8 L162.9 16.3 L163.9 16.9 L164.9 17.6 L165.9 18.3 L166.3 18.6 L166.9 19.1 L167.9 20.2 L168.9 21.2 L169.9 22.0 L170.0 22.0 L170.9 22.4 L171.9 22.8 L172.9 23.1 L173.9 23.4 L174.9 23.6 L175.0 23.6 L175.9 23.7 L176.9 23.9 L177.9 24.0 L178.9 24.1 L179.9 24.2 L180.9 24.3 L181.9 24.4 L182.9 24.5 L183.9 24.6 L184.9 24.7 L185.9 24.8 L186.9 24.8 L187.5 24.9 L187.9 24.9 L188.9 25.0 L189.9 25.1 L190.9 25.2 L191.9 25.3 L192.9 25.4 L193.9 25.5 L194.9 25.5 L195.9 25.6 L196.9 25.7 L197.9 25.8 L198.9 25.9 L199.9 25.9 L200.9 26.0 L201.9 26.1 L202.9 26.2 L203.9 26.2 L204.9 26.3 L205.9 26.4 L206.9 26.4 L207.9 26.5 L208.9 26.6 L209.9 26.6 L210.9 26.7 L211.9 26.8 L212.5 26.8 L212.9 26.8 L213.9 26.9 L214.9 26.9 L215.9 27.0 L216.9 27.1 L217.9 27.1 L218.9 27.2 L219.9 27.2 L220.9 27.3 L221.9 27.4 L222.9 27.4 L223.9 27.5 L224.9 27.5 L225.9 27.6 L226.9 27.6 L227.9 27.7 L228.9 27.7 L229.9 27.8 L230.9 27.8 L231.9 27.9 L232.9 27.9 L233.9 28.0 L234.9 28.0 L235.9 28.1 L236.9 28.1 L237.9 28.2 L238.9 28.2 L240.0 28.3 L241.0 28.3 L242.0 28.4 L243.0 28.4 L244.0 28.5 L245.0 28.5 L246.0 28.5 L247.0 28.6 L248.0 28.6 L249.0 28.7 L250.0 28.7 L250.0 28.7 L251.0 28.7 L252.0 28.8 L253.0 28.8 L254.0 28.9 L255.0 28.9 L256.0 28.9 L257.0 29.0 L258.0 29.0 L259.0 29.0 L260.0 29.1 L261.0 29.1 L262.0 29.1 L263.0 29.2 L264.0 29.2 L265.0 29.2 L266.0 29.3 L267.0 29.3 L268.0 29.3 L269.0 29.4 L270.0 29.4 L271.0 29.4 L272.0 29.4 L273.0 29.5 L274.0 29.5 L275.0 29.5 L276.0 29.6 L277.0 29.6 L278.0 29.6 L279.0 29.7 L280.0 29.7 L281.0 29.7 L282.0 29.7 L283.0 29.8 L284.0 29.8 L285.0 29.8 L286.0 29.9 L287.0 29.9 L287.5 29.9 L288.0 29.9 L289.0 29.9 L290.0 30.0 L291.0 30.0 L292.0 30.0 L293.0 30.1 L294.0 30.1 L295.0 30.1 L296.0 30.1 L297.0 30.2 L298.0 30.2 L299.0 30.2 L300.0 30.2 L301.0 30.3 L302.0 30.3 L303.0 30.3 L304.0 30.3 L305.0 30.4 L306.0 30.4 L307.0 30.4 L308.0 30.5 L309.0 30.5 L310.0 30.5 L311.0 30.5 L312.0 30.6 L313.0 30.6 L314.0 30.6 L315.0 30.6 L316.0 30.7 L317.0 30.7 L318.0 30.7 L319.0 30.7 L320.0 30.8 L321.0 30.8 L322.0 30.8 L323.0 30.8 L324.0 30.9 L325.0 30.9 L325.0 30.9 L326.0 30.9 L327.0 31.0 L328.0 31.0 L329.0 31.0 L330.0 31.0 L331.0 31.1 L332.0 31.1 L333.0 31.1 L334.0 31.1 L335.0 31.2 L336.0 31.2 L337.0 31.2 L338.0 31.3 L339.0 31.3 L340.0 31.3 L341.0 31.3 L342.0 31.4 L343.0 31.4 L344.0 31.4 L345.0 31.4 L346.0 31.5 L347.0 31.5 L348.0 31.5 L349.0 31.6 L350.0 31.6 L351.0 31.6 L352.0 31.6 L353.0 31.7 L354.0 31.7 L355.0 31.7 L356.0 31.8 L357.0 31.8 L358.0 31.8 L359.0 31.9 L360.0 31.9 L361.0 31.9 L362.0 32.0 L362.5 32.0 L363.0 32.0 L364.0 32.1 L365.0 32.1 L366.0 32.1 L367.0 32.2 L368.0 32.2 L369.0 32.2 L370.0 32.3 L371.0 32.3 L372.0 32.4 L373.0 32.4 L374.0 32.5 L375.0 32.5 L376.0 32.6 L377.0 32.6 L378.0 32.7 L379.0 32.7 L380.0 32.8 L381.0 32.9 L381.3 32.9 L382.0 33.0 L383.0 33.1 L384.0 33.2 L385.0 33.4 L386.0 33.6 L387.0 33.7 L388.0 33.9 L389.0 34.1 L390.0 34.3 L391.0 34.5 L392.0 34.7 L393.0 34.9 L393.8 35.0 L394.0 35.0 L395.1 35.2 L396.1 35.3 L397.1 35.4 L398.1 35.6 L399.1 35.7 L400.1 35.8 L401.1 36.0 L402.1 36.1 L403.1 36.2 L404.1 36.4 L405.0 36.5 L405.1 36.5 L406.1 36.7 L407.1 36.8 L408.1 37.0 L409.1 37.1 L410.1 37.3 L411.1 37.4 L412.1 37.6 L413.1 37.8 L414.1 38.0 L415.1 38.2 L416.1 38.4 L417.1 38.6 L418.1 38.8 L418.1 38.8 L419.1 39.0 L420.1 39.3 L421.1 39.6 L422.1 39.9 L423.1 40.2 L424.1 40.5 L425.1 40.8 L426.1 41.2 L427.1 41.5 L428.1 41.9 L429.1 42.3 L430.1 42.6 L431.1 43.0 L432.1 43.4 L433.1 43.8 L434.1 44.2 L435.1 44.6 L436.1 45.0 L437.1 45.4 L437.1 45.4 L438.1 45.8 L439.1 46.2 L440.1 46.6 L441.1 47.0 L442.1 47.4 L443.1 47.8 L444.1 48.2 L445.1 48.6 L446.1 49.1 L447.1 49.5 L448.1 50.0 L449.1 50.5 L450.1 51.0 L451.1 51.5 L452.1 52.0 L452.3 52.1 L453.1 52.5 L454.1 53.1 L455.1 53.7 L456.1 54.3 L457.1 55.0 L458.1 55.7 L459.1 56.4 L460.1 57.1 L461.1 57.8 L462.1 58.5 L463.1 59.3 L463.7 59.7 L464.1 60.0 L465.1 60.7 L466.1 61.5 L467.1 62.3 L468.1 63.1 L469.1 63.9 L470.1 64.8 L471.1 65.6 L472.1 66.5 L473.1 67.4 L474.1 68.3 L475.1 69.2 L475.1 69.2 L476.1 70.2 L477.1 71.1 L478.1 72.1 L479.1 73.2 L480.1 74.2 L481.1 75.3 L482.1 76.4 L483.1 77.5 L484.1 78.7 L485.1 79.8 L486.1 81.0 L486.6 81.6 L487.1 82.2 L488.1 83.5 L489.1 84.8 L490.1 86.1 L491.1 87.5 L492.1 88.9 L493.1 90.3 L494.1 91.6 L495.1 93.0 L496.1 94.4 L497.1 95.7 L498.0 96.8 L498.1 96.9 L499.1 98.2 L500.1 99.4 L501.1 100.6 L502.1 101.8 L503.1 103.0 L504.1 104.2 L505.1 105.3 L506.1 106.5 L507.1 107.6 L508.1 108.7 L509.1 109.8 L509.4 110.1 L510.1 110.9 L511.1 112.0 L512.1 113.0 L513.1 114.1 L514.1 115.2 L515.1 116.2 L516.1 117.2 L517.1 118.2 L518.1 119.2 L519.1 120.1 L520.1 121.0 L520.8 121.6 L521.1 121.9 L522.1 122.7 L523.1 123.6 L524.1 124.4 L525.1 125.2 L526.1 125.9 L527.1 126.7 L528.1 127.4 L529.1 128.1 L530.1 128.8 L531.1 129.4 L532.1 130.1 L532.2 130.1 L533.1 130.7 L534.1 131.2 L535.1 131.8 L536.1 132.3 L537.1 132.8 L538.1 133.3 L539.1 133.8 L540.1 134.3 L541.1 134.7 L542.1 135.1 L543.1 135.6 L543.7 135.8 L544.1 136.0 L545.1 136.4 L546.1 136.8 L547.1 137.1 L548.1 137.5 L549.1 137.8 L550.1 138.2 L551.2 138.5 L552.2 138.8 L553.2 139.2 L554.2 139.5 L555.1 139.8 L555.2 139.8 L556.2 140.2 L557.2 140.5 L558.2 140.8 L559.2 141.1 L560.2 141.5 L561.2 141.8 L562.2 142.1 L563.2 142.4 L564.2 142.8 L565.2 143.1 L566.2 143.4 L566.5 143.5 L567.2 143.7 L568.2 144.0 L569.2 144.3 L570.2 144.6 L571.2 145.0 L572.2 145.3 L573.2 145.6 L574.2 145.9 L575.2 146.2 L576.2 146.5 L577.2 146.8 L578.2 147.1 L579.0 147.4 L579.2 147.5 L580.2 147.8 L581.2 148.1 L582.2 148.4 L583.2 148.7 L584.2 149.0 L585.2 149.3 L586.2 149.7 L587.2 150.0 L588.2 150.3 L589.2 150.6 L590.2 150.9 L591.2 151.3 L592.2 151.6 L593.2 151.9 L594.2 152.3 L595.2 152.6 L596.2 153.0 L597.2 153.4 L598.1 153.7 L598.2 153.7 L599.2 154.1 L600.2 154.5 L601.2 154.9 L602.2 155.3 L603.2 155.7 L604.2 156.1 L605.2 156.5 L606.2 156.9 L607.2 157.3 L608.2 157.8 L609.2 158.2 L610.2 158.7 L611.2 159.1 L612.2 159.6 L613.2 160.1 L614.2 160.5 L615.2 161.0 L616.2 161.5 L617.1 162.0 L617.2 162.0 L618.2 162.6 L619.2 163.1 L620.2 163.6 L621.2 164.2 L622.2 164.8 L623.2 165.3 L624.2 165.9 L625.2 166.6 L626.2 167.2 L627.2 167.8 L628.2 168.5 L629.2 169.1 L630.2 169.8 L631.2 170.5 L632.2 171.2 L632.3 171.3 L633.2 172.0 L634.2 172.7 L635.2 173.5 L636.2 174.4 L637.2 175.2 L638.2 176.1 L639.2 177.0 L640.2 177.9 L641.2 178.9 L642.2 179.8 L643.2 180.8 L644.0 181.5 L644.2 181.7 L645.2 182.7 L646.2 183.6 L647.2 184.6 L648.2 185.7 L649.2 186.7 L650.2 187.7 L651.2 188.8 L652.2 189.9 L653.2 190.9 L654.2 192.0 L655.1 193.0 L655.2 193.1 L656.2 194.2 L657.2 195.3 L658.2 196.5 L659.2 197.6 L660.2 198.7 L661.2 199.9 L662.2 201.1 L663.2 202.3 L664.2 203.5 L665.2 204.7 L666.2 206.0 L666.6 206.5 L667.2 207.3 L668.2 208.7 L669.2 210.1 L670.2 211.5 L671.2 213.0 L672.2 214.5 L673.2 216.0 L674.2 217.4 L675.2 218.9 L676.1 220.2 L676.2 220.4 L677.2 221.8 L678.2 223.3 L679.2 224.7 L680.2 226.2 L681.2 227.6 L682.2 229.1 L683.2 230.5 L684.2 232.0 L685.2 233.4 L686.2 234.9 L687.2 236.4 L688.2 237.9 L689.2 239.4 L690.2 240.9 L691.2 242.4 L691.3 242.5 L692.2 244.0 L693.2 245.6 L694.2 247.2 L695.2 248.8 L696.2 250.5 L697.2 252.1 L698.2 253.8 L699.2 255.4 L700.2 256.9 L701.2 258.4 L702.0 259.5 L702.2 259.8 L703.2 261.2 L704.2 262.6 L705.2 264.0 L706.3 265.3 L707.3 266.6 L708.3 267.9 L709.3 269.2 L710.3 270.5 L711.3 271.7 L712.3 272.9 L713.3 274.1 L714.3 275.3 L715.3 276.4 L716.3 277.6 L717.1 278.5 L717.3 278.7 L718.3 279.8 L719.3 280.8 L720.3 281.9 L721.3 282.9 L722.3 284.0 L723.3 285.0 L724.3 285.9 L725.3 286.9 L726.3 287.9 L727.3 288.8 L728.3 289.7 L729.3 290.7 L730.3 291.5 L731.3 292.4 L732.3 293.3 L732.3 293.3 L733.3 294.1 L734.3 295.0 L735.3 295.8 L736.3 296.6 L737.3 297.4 L738.3 298.2 L739.3 299.0 L740.3 299.7 L741.3 300.5 L742.3 301.2 L743.3 301.9 L744.3 302.6 L745.3 303.3 L746.3 303.9 L747.3 304.6 L747.5 304.7 L748.3 305.2 L749.3 305.8 L750.3 306.3 L751.3 306.9 L752.3 307.4 L753.3 308.0 L754.3 308.5 L755.3 309.0 L756.3 309.5 L757.3 310.0 L758.3 310.5 L759.3 311.0 L760.3 311.4 L761.3 311.9 L762.3 312.4 L763.3 312.8 L764.3 313.2 L765.3 313.7 L766.3 314.1 L766.6 314.2 L767.3 314.5 L768.3 314.9 L769.3 315.3 L770.3 315.7 L771.3 316.0 L772.3 316.4 L773.3 316.8 L774.3 317.1 L775.3 317.5 L776.3 317.8 L777.3 318.2 L778.3 318.5 L779.3 318.9 L780.3 319.2 L781.3 319.5 L782.3 319.8 L783.3 320.2 L784.3 320.5 L785.3 320.8 L785.6 320.9 L786.3 321.1 L787.3 321.4 L788.3 321.8 L789.3 322.1 L790.3 322.4 L791.3 322.7 L792.3 323.0 L793.3 323.3 L794.3 323.6 L795.3 323.9 L796.3 324.2 L797.3 324.4 L798.3 324.7 L799.3 325.0 L800.3 325.3 L801.3 325.6 L802.3 325.9 L803.3 326.1 L804.3 326.4 L804.6 326.5 L805.3 326.7 L806.3 327.0 L807.3 327.3 L808.3 327.5 L809.3 327.8 L810.3 328.1 L811.3 328.3 L812.3 328.6 L813.3 328.9 L814.3 329.1 L815.3 329.4 L816.3 329.7 L817.3 329.9 L818.3 330.2 L819.3 330.4 L820.3 330.7 L821.3 330.9 L822.3 331.2 L823.3 331.4 L823.7 331.5 L824.3 331.6 L825.3 331.9 L826.3 332.1 L827.3 332.3 L828.3 332.6 L829.3 332.8 L830.3 333.0 L831.3 333.2 L832.3 333.4 L833.3 333.6 L834.3 333.8 L835.3 334.0 L836.3 334.2 L837.3 334.4 L838.3 334.6 L839.3 334.8 L840.3 335.0 L841.3 335.2 L842.3 335.4 L842.7 335.5 L843.3 335.6 L844.3 335.8 L845.3 336.0 L846.3 336.2 L847.3 336.4 L848.3 336.6 L849.3 336.8 L850.3 337.0 L851.3 337.1 L852.3 337.3 L853.3 337.5 L854.3 337.7 L855.3 337.9 L856.3 338.0 L857.3 338.2 L858.3 338.4 L859.3 338.5 L860.3 338.7 L861.4 338.9 L862.4 339.0 L863.4 339.2 L864.4 339.3 L865.1 339.4 L865.4 339.4 L866.4 339.6 L867.4 339.7 L868.4 339.8 L869.4 339.9 L870.4 340.1 L871.4 340.2 L872.4 340.3 L873.4 340.4 L874.4 340.5 L875.4 340.6 L876.4 340.7 L877.4 340.8 L878.4 340.9 L879.4 341.0 L880.4 341.1 L881.4 341.2 L882.4 341.3 L883.4 341.4 L884.2 341.5 L884.4 341.5 L885.4 341.6 L886.4 341.7 L887.4 341.8 L888.4 341.9 L889.4 342.0 L890.4 342.1 L891.4 342.1 L892.4 342.2 L893.4 342.3 L894.4 342.4 L895.4 342.5 L896.4 342.5 L897.4 342.6 L898.4 342.7 L899.4 342.8 L900.4 342.8 L901.4 342.9 L902.4 343.0 L903.2 343.0 L903.4 343.0 L904.4 343.1 L905.4 343.1 L906.4 343.2 L907.4 343.2 L908.4 343.3 L909.4 343.3 L910.4 343.4 L911.4 343.4 L912.4 343.5 L913.4 343.5 L914.4 343.6 L915.4 343.6 L916.4 343.7 L917.4 343.7 L918.4 343.8 L919.4 343.8 L920.4 343.8 L921.4 343.9 L922.2 343.9 L922.4 343.9 L923.4 343.9 L924.4 344.0 L925.4 344.0 L926.4 344.0 L927.4 344.1 L928.4 344.1 L929.4 344.1 L930.4 344.1 L931.4 344.2 L932.4 344.2 L933.4 344.2 L934.4 344.2 L935.4 344.3 L936.4 344.3 L937.4 344.3 L938.4 344.3" fill="none" stroke="#0000ff" stroke-width="3.1" stroke-linejoin="round" stroke-linecap="round"/>
<path d="M161.9 15.8 L162.9 16.1 L163.9 16.4 L164.9 16.7 L165.9 17.0 L166.0 17.0 L166.9 17.2 L167.9 17.5 L168.9 17.8 L169.9 18.0 L170.0 18.0 L170.9 18.2 L171.9 18.4 L172.9 18.5 L173.9 18.7 L174.9 18.9 L175.9 19.0 L176.9 19.2 L177.9 19.4 L178.9 19.5 L179.9 19.6 L180.9 19.8 L181.9 19.9 L182.9 20.0 L183.9 20.1 L184.9 20.3 L185.9 20.4 L186.9 20.4 L187.5 20.5 L187.9 20.5 L188.9 20.6 L189.9 20.7 L190.9 20.8 L191.9 20.9 L192.9 20.9 L193.9 21.0 L194.9 21.1 L195.9 21.1 L196.9 21.2 L197.9 21.3 L198.9 21.3 L199.9 21.4 L200.9 21.4 L201.9 21.5 L202.9 21.5 L203.9 21.6 L204.9 21.6 L205.9 21.7 L206.9 21.7 L207.9 21.8 L208.9 21.8 L209.9 21.9 L210.9 21.9 L211.9 22.0 L212.5 22.0 L212.9 22.0 L213.9 22.1 L214.9 22.1 L215.9 22.2 L216.9 22.2 L217.9 22.2 L218.9 22.3 L219.9 22.3 L220.9 22.4 L221.9 22.4 L222.9 22.4 L223.9 22.5 L224.9 22.5 L225.9 22.6 L226.9 22.6 L227.9 22.6 L228.9 22.7 L229.9 22.7 L230.9 22.7 L231.9 22.8 L232.9 22.8 L233.9 22.8 L234.9 22.9 L235.9 22.9 L236.9 22.9 L237.9 23.0 L238.9 23.0 L240.0 23.0 L241.0 23.1 L242.0 23.1 L243.0 23.1 L244.0 23.1 L245.0 23.2 L246.0 23.2 L247.0 23.2 L248.0 23.2 L249.0 23.3 L250.0 23.3 L250.0 23.3 L251.0 23.3 L252.0 23.3 L253.0 23.4 L254.0 23.4 L255.0 23.4 L256.0 23.4 L257.0 23.5 L258.0 23.5 L259.0 23.5 L260.0 23.5 L261.0 23.5 L262.0 23.6 L263.0 23.6 L264.0 23.6 L265.0 23.6 L266.0 23.6 L267.0 23.7 L268.0 23.7 L269.0 23.7 L270.0 23.7 L271.0 23.7 L272.0 23.7 L273.0 23.8 L274.0 23.8 L275.0 23.8 L276.0 23.8 L277.0 23.8 L278.0 23.8 L279.0 23.9 L280.0 23.9 L281.0 23.9 L282.0 23.9 L283.0 23.9 L284.0 23.9 L285.0 24.0 L286.0 24.0 L287.0 24.0 L287.5 24.0 L288.0 24.0 L289.0 24.0 L290.0 24.0 L291.0 24.1 L292.0 24.1 L293.0 24.1 L294.0 24.1 L295.0 24.1 L296.0 24.1 L297.0 24.2 L298.0 24.2 L299.0 24.2 L300.0 24.2 L301.0 24.2 L302.0 24.2 L303.0 24.2 L304.0 24.3 L305.0 24.3 L306.0 24.3 L307.0 24.3 L308.0 24.3 L309.0 24.3 L310.0 24.3 L311.0 24.4 L312.0 24.4 L313.0 24.4 L314.0 24.4 L315.0 24.4 L316.0 24.4 L317.0 24.5 L318.0 24.5 L319.0 24.5 L320.0 24.5 L321.0 24.5 L322.0 24.5 L323.0 24.6 L324.0 24.6 L325.0 24.6 L325.0 24.6 L326.0 24.6 L327.0 24.6 L328.0 24.7 L329.0 24.7 L330.0 24.7 L331.0 24.7 L332.0 24.7 L333.0 24.8 L334.0 24.8 L335.0 24.8 L336.0 24.8 L337.0 24.8 L338.0 24.8 L339.0 24.9 L340.0 24.9 L341.0 24.9 L342.0 24.9 L343.0 24.9 L344.0 25.0 L345.0 25.0 L346.0 25.0 L347.0 25.0 L348.0 25.1 L349.0 25.1 L350.0 25.1 L351.0 25.1 L352.0 25.2 L353.0 25.2 L354.0 25.2 L355.0 25.2 L356.0 25.3 L357.0 25.3 L358.0 25.3 L359.0 25.4 L360.0 25.4 L361.0 25.4 L362.0 25.5 L362.5 25.5 L363.0 25.5 L364.0 25.6 L365.0 25.6 L366.0 25.7 L367.0 25.7 L368.0 25.8 L369.0 25.9 L370.0 25.9 L371.0 26.0 L372.0 26.1 L373.0 26.2 L374.0 26.3 L375.0 26.3 L376.0 26.4 L377.0 26.5 L378.0 26.6 L379.0 26.6 L380.0 26.7 L381.0 26.8 L381.3 26.8 L382.0 26.8 L383.0 26.9 L384.0 27.0 L385.0 27.0 L386.0 27.1 L387.0 27.1 L388.0 27.2 L389.0 27.3 L390.0 27.3 L391.0 27.4 L392.0 27.4 L393.0 27.5 L394.0 27.5 L395.1 27.6 L396.1 27.7 L397.1 27.7 L398.1 27.8 L399.0 27.9 L399.1 27.9 L400.1 28.0 L401.1 28.1 L402.1 28.2 L403.1 28.3 L404.1 28.4 L405.1 28.5 L406.1 28.6 L407.1 28.7 L408.1 28.8 L409.1 28.9 L410.1 29.0 L411.1 29.2 L412.1 29.3 L413.1 29.4 L414.1 29.6 L415.1 29.7 L416.1 29.9 L417.1 30.0 L418.1 30.2 L418.1 30.2 L419.1 30.4 L420.1 30.5 L421.1 30.7 L422.1 31.0 L423.1 31.2 L424.1 31.4 L425.1 31.7 L426.1 31.9 L427.1 32.2 L428.1 32.4 L429.1 32.7 L430.1 33.0 L431.1 33.3 L432.1 33.6 L433.1 33.9 L433.3 34.0 L434.1 34.3 L435.1 34.6 L436.1 35.0 L437.1 35.3 L438.1 35.7 L439.1 36.2 L440.1 36.6 L441.1 37.0 L442.1 37.5 L443.1 38.0 L444.1 38.5 L444.7 38.8 L445.1 39.0 L446.1 39.5 L447.1 40.1 L448.1 40.7 L449.1 41.4 L450.1 42.0 L451.1 42.7 L452.1 43.4 L453.1 44.1 L454.1 44.9 L455.1 45.6 L456.1 46.4 L456.1 46.4 L457.1 47.2 L458.1 48.0 L459.1 48.8 L460.1 49.7 L461.1 50.6 L462.1 51.5 L463.1 52.4 L464.1 53.4 L465.1 54.5 L465.6 55.0 L466.1 55.5 L467.1 56.7 L468.1 57.9 L469.1 59.1 L470.1 60.4 L471.1 61.7 L472.1 63.1 L473.1 64.5 L474.1 65.9 L475.1 67.3 L475.1 67.3 L476.1 68.8 L477.1 70.3 L478.1 71.9 L479.1 73.5 L480.1 75.1 L481.1 76.8 L482.1 78.5 L482.8 79.7 L483.1 80.2 L484.1 82.0 L485.1 83.9 L486.1 85.8 L487.1 87.7 L488.1 89.6 L489.1 91.6 L490.1 93.5 L490.4 94.0 L491.1 95.3 L492.1 97.2 L493.1 99.1 L494.1 100.9 L495.1 102.8 L496.1 104.7 L497.1 106.5 L498.0 108.2 L498.1 108.4 L499.1 110.3 L500.1 112.2 L501.1 114.1 L502.1 116.0 L503.1 117.9 L504.1 119.8 L505.1 121.6 L505.6 122.5 L506.1 123.4 L507.1 125.3 L508.1 127.1 L509.1 128.9 L510.1 130.7 L511.1 132.4 L512.1 134.1 L513.1 135.7 L513.2 135.8 L514.1 137.2 L515.1 138.7 L516.1 140.1 L517.1 141.5 L518.1 142.9 L519.1 144.2 L520.1 145.5 L520.8 146.3 L521.1 146.7 L522.1 147.9 L523.1 149.1 L524.1 150.2 L525.1 151.3 L526.1 152.4 L527.1 153.5 L528.1 154.6 L528.4 154.9 L529.1 155.7 L530.1 156.8 L531.1 157.9 L532.1 158.9 L532.3 159.0 L533.1 159.8 L534.1 160.7 L535.1 161.5 L536.1 162.4 L537.1 163.2 L538.1 164.0 L539.1 164.8 L540.1 165.5 L541.1 166.2 L542.1 166.9 L543.1 167.5 L543.7 167.8 L544.1 168.0 L545.1 168.6 L546.1 169.1 L547.1 169.6 L548.1 170.1 L549.1 170.5 L550.1 171.0 L551.2 171.4 L552.2 171.8 L553.2 172.2 L554.2 172.6 L555.2 173.0 L556.2 173.4 L557.2 173.8 L558.2 174.2 L559.0 174.5 L559.2 174.6 L560.2 175.0 L561.2 175.3 L562.2 175.7 L563.2 176.1 L564.2 176.4 L565.2 176.8 L566.2 177.1 L567.2 177.5 L568.2 177.8 L569.2 178.2 L570.2 178.5 L571.2 178.8 L572.2 179.2 L573.2 179.5 L574.2 179.9 L575.2 180.3 L576.2 180.6 L577.2 181.0 L578.0 181.3 L578.2 181.4 L579.2 181.7 L580.2 182.1 L581.2 182.5 L582.2 182.9 L583.2 183.3 L584.2 183.7 L585.2 184.0 L586.2 184.4 L587.2 184.8 L588.2 185.2 L589.2 185.6 L590.2 186.0 L591.2 186.5 L592.2 186.9 L593.2 187.3 L594.2 187.7 L595.2 188.2 L596.2 188.6 L597.0 189.0 L597.2 189.1 L598.2 189.6 L599.2 190.0 L600.2 190.5 L601.2 191.0 L602.2 191.5 L603.2 192.0 L604.2 192.5 L605.2 193.1 L606.2 193.6 L607.2 194.2 L608.2 194.7 L609.2 195.3 L610.2 195.8 L611.2 196.4 L612.2 197.0 L612.2 197.0 L613.2 197.6 L614.2 198.2 L615.2 198.8 L616.2 199.4 L617.2 200.0 L618.2 200.7 L619.2 201.3 L620.2 202.0 L621.2 202.6 L622.2 203.3 L623.2 204.0 L624.2 204.7 L625.2 205.4 L626.2 206.1 L627.2 206.9 L627.5 207.1 L628.2 207.6 L629.2 208.4 L630.2 209.2 L631.2 210.1 L632.2 210.9 L633.2 211.8 L634.2 212.7 L635.2 213.6 L636.2 214.5 L637.2 215.4 L638.2 216.3 L638.9 217.0 L639.2 217.3 L640.2 218.3 L641.2 219.3 L642.2 220.3 L643.2 221.3 L644.2 222.4 L645.2 223.5 L646.2 224.6 L647.2 225.7 L648.2 226.7 L649.2 227.8 L650.2 228.9 L650.3 229.0 L651.2 230.0 L652.2 231.0 L653.2 232.1 L654.2 233.1 L655.2 234.2 L656.2 235.3 L657.2 236.4 L658.2 237.5 L659.2 238.7 L659.8 239.4 L660.2 239.9 L661.2 241.2 L662.2 242.4 L663.2 243.8 L664.2 245.1 L665.2 246.5 L666.2 247.9 L667.2 249.3 L668.2 250.7 L669.2 252.1 L670.2 253.6 L671.2 255.0 L672.2 256.4 L673.2 257.9 L674.0 259.0 L674.2 259.3 L675.2 260.8 L676.2 262.3 L677.2 263.8 L678.2 265.3 L679.2 266.8 L680.2 268.3 L681.2 269.9 L682.2 271.4 L683.2 272.9 L684.2 274.4 L685.2 276.0 L686.2 277.4 L687.2 278.9 L688.0 280.0 L688.2 280.3 L689.2 281.8 L690.2 283.2 L691.2 284.6 L692.2 286.0 L693.2 287.4 L694.2 288.8 L695.2 290.2 L696.2 291.6 L697.2 293.0 L698.2 294.3 L699.2 295.6 L700.2 296.9 L701.2 298.2 L701.9 299.0 L702.2 299.4 L703.2 300.7 L704.2 301.9 L705.2 303.1 L706.3 304.3 L707.3 305.5 L708.3 306.7 L709.3 307.8 L710.3 309.0 L711.3 310.1 L712.3 311.2 L713.3 312.2 L714.3 313.2 L715.2 314.2 L715.3 314.3 L716.3 315.2 L717.3 316.2 L718.3 317.2 L719.3 318.1 L720.3 319.0 L721.3 319.9 L722.3 320.8 L723.3 321.7 L724.3 322.6 L725.3 323.4 L726.3 324.2 L727.3 325.0 L728.3 325.8 L729.3 326.6 L730.3 327.4 L730.4 327.5 L731.3 328.2 L732.3 328.9 L733.3 329.7 L734.3 330.4 L735.3 331.1 L736.3 331.9 L737.3 332.6 L738.3 333.3 L739.3 334.0 L740.3 334.7 L741.3 335.3 L742.3 336.0 L743.3 336.6 L744.3 337.2 L745.3 337.8 L746.3 338.3 L747.3 338.9 L747.5 339.0 L748.3 339.4 L749.3 339.9 L750.3 340.4 L751.3 340.9 L752.3 341.4 L753.3 341.8 L754.3 342.3 L755.3 342.7 L756.3 343.2 L757.3 343.6 L758.3 344.0 L759.3 344.4 L760.3 344.8 L761.3 345.2 L762.3 345.6 L763.3 346.0 L764.3 346.3 L765.3 346.7 L766.3 347.1 L766.6 347.2 L767.3 347.5 L768.3 347.8 L769.3 348.2 L770.3 348.5 L771.3 348.9 L772.3 349.2 L773.3 349.5 L774.3 349.9 L775.3 350.2 L776.3 350.5 L777.3 350.8 L778.3 351.1 L779.3 351.4 L780.3 351.7 L781.3 352.0 L782.3 352.3 L783.3 352.6 L784.3 352.9 L785.3 353.2 L785.6 353.3 L786.3 353.5 L787.3 353.8 L788.3 354.1 L789.3 354.4 L790.3 354.6 L791.3 354.9 L792.3 355.2 L793.3 355.4 L794.3 355.7 L795.3 356.0 L796.3 356.2 L797.3 356.5 L798.3 356.8 L799.3 357.0 L800.3 357.3 L801.3 357.5 L802.3 357.8 L803.3 358.0 L804.3 358.2 L804.6 358.3 L805.3 358.5 L806.3 358.7 L807.3 358.9 L808.3 359.2 L809.3 359.4 L810.3 359.6 L811.3 359.8 L812.3 360.1 L813.3 360.3 L814.3 360.5 L815.3 360.7 L816.3 360.9 L817.3 361.1 L818.3 361.3 L819.3 361.5 L820.3 361.7 L821.3 361.9 L822.3 362.1 L823.3 362.3 L823.7 362.4 L824.3 362.5 L825.3 362.7 L826.3 362.9 L827.3 363.1 L828.3 363.2 L829.3 363.4 L830.3 363.6 L831.3 363.8 L832.3 363.9 L833.3 364.1 L834.3 364.2 L835.3 364.4 L836.3 364.6 L837.3 364.7 L838.3 364.9 L839.3 365.1 L840.3 365.2 L841.3 365.4 L842.3 365.5 L842.7 365.6 L843.3 365.7 L844.3 365.9 L845.3 366.0 L846.3 366.2 L847.3 366.4 L848.3 366.5 L849.3 366.7 L850.3 366.9 L851.3 367.0 L852.3 367.2 L853.3 367.4 L854.3 367.5 L855.3 367.7 L856.3 367.9 L857.3 368.0 L858.3 368.2 L859.3 368.3 L860.3 368.5 L861.4 368.6 L862.4 368.7 L863.4 368.9 L864.4 369.0 L865.1 369.1 L865.4 369.1 L866.4 369.2 L867.4 369.4 L868.4 369.5 L869.4 369.6 L870.4 369.7 L871.4 369.8 L872.4 369.9 L873.4 370.0 L874.4 370.1 L875.4 370.2 L876.4 370.3 L877.4 370.4 L878.4 370.5 L879.4 370.6 L880.4 370.7 L881.4 370.7 L882.4 370.8 L883.4 370.9 L884.2 371.0 L884.4 371.0 L885.4 371.1 L886.4 371.2 L887.4 371.3 L888.4 371.4 L889.4 371.5 L890.4 371.5 L891.4 371.6 L892.4 371.7 L893.4 371.8 L894.4 371.9 L895.4 372.0 L896.4 372.0 L897.4 372.1 L898.4 372.2 L899.4 372.3 L900.4 372.3 L901.4 372.4 L902.4 372.5 L903.2 372.5 L903.4 372.5 L904.4 372.6 L905.4 372.6 L906.4 372.7 L907.4 372.7 L908.4 372.8 L909.4 372.8 L910.4 372.9 L911.4 372.9 L912.4 373.0 L913.4 373.0 L914.4 373.1 L915.4 373.1 L916.4 373.2 L917.4 373.2 L918.4 373.2 L919.4 373.3 L920.4 373.3 L921.4 373.4 L922.2 373.4 L922.4 373.4 L923.4 373.4 L924.4 373.5 L925.4 373.5 L926.4 373.6 L927.4 373.6 L928.4 373.6 L929.4 373.7 L930.4 373.7 L931.4 373.8 L932.4 373.8 L933.4 373.8 L934.4 373.9 L935.4 373.9 L936.4 373.9 L937.4 374.0 L938.4 374.0" fill="none" stroke="#ff00ff" stroke-width="3.1" stroke-linejoin="round" stroke-linecap="round"/>
<path d="M161.9 15.8 L162.9 16.1 L163.9 16.7 L164.9 17.5 L165.9 18.4 L166.3 18.8 L166.9 19.5 L167.9 20.9 L168.8 22.5 L168.9 22.7 L169.9 25.4 L170.0 25.4 L170.9 25.4 L171.9 25.4 L172.9 25.4 L173.9 25.4 L174.0 25.4 L174.9 25.4 L175.9 25.4 L176.9 25.4 L177.9 25.4 L178.0 25.4 L178.9 25.4 L179.9 25.5 L180.9 25.6 L181.9 25.7 L182.9 25.8 L183.9 25.9 L184.9 26.1 L185.9 26.2 L186.9 26.3 L187.5 26.3 L187.9 26.3 L188.9 26.4 L189.9 26.4 L190.9 26.5 L191.9 26.5 L192.9 26.5 L193.9 26.6 L194.9 26.6 L195.9 26.6 L196.9 26.7 L197.9 26.7 L198.9 26.7 L199.9 26.7 L200.9 26.8 L201.9 26.8 L202.9 26.8 L203.9 26.8 L204.9 26.9 L205.9 26.9 L206.9 26.9 L207.9 26.9 L208.9 27.0 L209.9 27.0 L210.9 27.0 L211.9 27.1 L212.5 27.1 L212.9 27.1 L213.9 27.2 L214.9 27.2 L215.9 27.2 L216.9 27.3 L217.9 27.3 L218.9 27.4 L219.9 27.4 L220.9 27.5 L221.9 27.5 L222.9 27.6 L223.9 27.6 L224.9 27.7 L225.9 27.8 L226.9 27.8 L227.9 27.9 L228.9 27.9 L229.9 28.0 L230.9 28.0 L231.9 28.1 L232.9 28.1 L233.9 28.2 L234.9 28.3 L235.9 28.3 L236.9 28.4 L237.9 28.4 L238.9 28.5 L239.9 28.5 L240.9 28.6 L241.9 28.6 L242.9 28.7 L243.9 28.7 L244.9 28.8 L245.9 28.8 L246.9 28.9 L247.9 28.9 L248.9 29.0 L249.9 29.0 L250.0 29.0 L250.9 29.0 L251.9 29.1 L252.9 29.1 L253.9 29.1 L254.9 29.2 L255.9 29.2 L256.9 29.3 L257.9 29.3 L258.9 29.3 L259.9 29.4 L260.9 29.4 L261.9 29.4 L262.9 29.5 L263.9 29.5 L264.9 29.5 L265.9 29.6 L266.9 29.6 L267.9 29.6 L268.9 29.7 L269.9 29.7 L270.9 29.7 L271.9 29.8 L272.9 29.8 L273.9 29.8 L274.9 29.8 L275.9 29.9 L276.9 29.9 L277.9 29.9 L278.9 30.0 L279.9 30.0 L280.9 30.0 L281.9 30.1 L282.9 30.1 L283.9 30.1 L284.9 30.1 L285.9 30.2 L286.9 30.2 L287.9 30.2 L288.9 30.3 L289.9 30.3 L290.9 30.3 L291.9 30.3 L292.9 30.4 L293.9 30.4 L294.9 30.4 L295.9 30.4 L296.9 30.5 L297.9 30.5 L298.9 30.5 L299.9 30.6 L300.9 30.6 L301.9 30.6 L302.9 30.6 L303.9 30.7 L304.9 30.7 L305.9 30.7 L306.9 30.7 L307.9 30.8 L308.9 30.8 L309.9 30.8 L310.9 30.8 L311.9 30.9 L312.9 30.9 L313.9 30.9 L314.9 30.9 L315.9 31.0 L316.9 31.0 L317.9 31.0 L318.9 31.0 L319.9 31.1 L320.9 31.1 L321.9 31.1 L322.9 31.1 L323.9 31.2 L324.9 31.2 L325.0 31.2 L325.9 31.2 L326.9 31.3 L327.9 31.3 L328.9 31.3 L329.9 31.3 L330.9 31.4 L331.9 31.4 L332.9 31.4 L333.9 31.5 L334.9 31.5 L335.9 31.5 L336.9 31.6 L337.9 31.6 L338.9 31.6 L339.9 31.7 L340.9 31.7 L341.9 31.7 L342.9 31.7 L343.9 31.8 L344.9 31.8 L345.9 31.8 L346.9 31.9 L347.9 31.9 L348.9 31.9 L349.9 31.9 L350.9 32.0 L351.9 32.0 L352.9 32.0 L353.9 32.0 L354.9 32.0 L355.9 32.1 L356.9 32.1 L357.9 32.1 L358.9 32.1 L359.9 32.1 L360.9 32.1 L361.9 32.1 L362.5 32.1 L362.9 32.1 L363.9 32.1 L364.9 32.0 L365.9 31.9 L366.9 31.8 L367.9 31.7 L368.9 31.6 L369.9 31.5 L370.9 31.3 L371.9 31.2 L372.9 31.1 L373.9 30.9 L374.9 30.8 L375.9 30.7 L376.9 30.5 L377.9 30.5 L378.9 30.4 L379.9 30.3 L380.9 30.3 L381.3 30.3 L381.9 30.3 L382.9 30.3 L383.9 30.3 L384.9 30.3 L385.9 30.3 L386.9 30.3 L387.9 30.4 L388.9 30.4 L389.9 30.4 L390.9 30.4 L391.9 30.4 L392.9 30.5 L393.9 30.5 L394.9 30.5 L395.9 30.5 L396.9 30.5 L397.9 30.6 L398.9 30.6 L399.0 30.6 L399.9 30.6 L400.9 30.7 L401.9 30.7 L402.9 30.7 L403.9 30.8 L404.9 30.8 L405.9 30.8 L406.9 30.9 L407.9 30.9 L408.9 31.0 L409.9 31.1 L410.9 31.1 L411.9 31.2 L412.9 31.3 L413.9 31.3 L414.9 31.4 L415.9 31.5 L416.9 31.6 L417.9 31.7 L418.1 31.7 L418.9 31.8 L419.9 31.9 L420.9 32.1 L421.9 32.3 L422.9 32.5 L423.9 32.7 L424.9 33.0 L425.9 33.3 L426.9 33.6 L427.9 33.9 L428.9 34.2 L429.9 34.5 L430.9 34.8 L431.9 35.1 L432.9 35.5 L433.3 35.6 L433.9 35.8 L434.9 36.2 L435.9 36.6 L436.9 37.0 L437.9 37.4 L438.9 37.8 L439.9 38.3 L440.9 38.8 L441.9 39.3 L442.9 39.8 L443.9 40.3 L444.7 40.7 L444.9 40.8 L445.9 41.4 L446.9 42.0 L447.9 42.5 L448.9 43.2 L449.9 43.8 L450.9 44.5 L451.9 45.2 L452.9 45.9 L453.9 46.6 L454.9 47.4 L455.9 48.2 L456.1 48.3 L456.9 49.0 L457.9 49.8 L458.9 50.7 L459.9 51.7 L460.9 52.7 L461.9 53.7 L462.9 54.7 L463.9 55.9 L464.9 57.0 L465.6 57.8 L465.9 58.2 L466.9 59.5 L467.9 60.9 L468.9 62.4 L469.9 63.9 L470.9 65.5 L471.9 67.1 L472.9 68.8 L473.2 69.2 L473.9 70.4 L474.9 72.2 L475.9 74.0 L476.9 75.8 L477.9 77.7 L478.9 79.6 L479.9 81.6 L480.9 83.5 L480.9 83.6 L481.9 85.7 L482.9 87.8 L483.9 90.0 L484.9 92.3 L485.9 94.6 L486.9 96.9 L487.9 99.3 L488.5 100.6 L488.9 101.7 L489.9 104.1 L490.9 106.5 L491.9 109.0 L492.9 111.5 L493.9 114.1 L494.9 116.7 L495.9 119.3 L496.1 119.7 L496.9 122.0 L497.9 124.8 L498.9 127.6 L499.9 130.3 L500.0 130.5 L500.9 133.0 L501.9 135.5 L502.9 138.0 L503.9 140.6 L504.5 142.0 L504.9 143.2 L505.9 145.8 L506.9 148.5 L507.9 151.2 L508.9 153.7 L509.5 155.0 L509.9 156.0 L510.9 158.2 L511.9 160.4 L512.9 162.4 L513.9 164.4 L514.9 166.4 L515.0 166.5 L515.9 168.4 L516.9 170.4 L517.9 172.3 L518.9 174.2 L519.9 176.1 L520.9 177.8 L521.9 179.4 L522.0 179.5 L522.9 180.9 L523.9 182.4 L524.9 183.8 L525.9 185.1 L526.9 186.4 L527.9 187.6 L528.9 188.8 L529.9 189.9 L530.0 190.0 L530.9 191.1 L531.9 192.2 L532.9 193.3 L533.9 194.4 L534.9 195.4 L535.9 196.4 L536.9 197.4 L537.9 198.3 L538.9 199.2 L539.9 200.0 L539.9 200.0 L540.9 200.8 L541.9 201.6 L542.9 202.3 L543.9 203.1 L544.9 203.8 L545.9 204.4 L546.9 205.1 L547.9 205.7 L548.9 206.4 L549.9 207.0 L551.0 207.6 L552.0 208.2 L553.0 208.7 L554.0 209.3 L555.0 209.8 L555.1 209.9 L556.0 210.4 L557.0 210.9 L558.0 211.4 L559.0 211.9 L560.0 212.4 L561.0 212.8 L562.0 213.3 L563.0 213.8 L564.0 214.2 L565.0 214.7 L566.0 215.1 L567.0 215.5 L568.0 215.9 L569.0 216.4 L570.0 216.8 L571.0 217.2 L572.0 217.6 L573.0 218.0 L574.0 218.4 L574.2 218.5 L575.0 218.8 L576.0 219.2 L577.0 219.6 L578.0 219.9 L579.0 220.3 L580.0 220.7 L581.0 221.0 L582.0 221.4 L583.0 221.7 L584.0 222.1 L585.0 222.4 L586.0 222.7 L587.0 223.1 L588.0 223.4 L589.0 223.8 L590.0 224.2 L591.0 224.5 L592.0 224.9 L593.0 225.3 L593.2 225.4 L594.0 225.7 L595.0 226.1 L596.0 226.5 L597.0 226.9 L598.0 227.3 L599.0 227.7 L600.0 228.1 L601.0 228.6 L602.0 229.0 L603.0 229.4 L604.0 229.9 L605.0 230.3 L606.0 230.8 L607.0 231.3 L608.0 231.8 L608.4 232.0 L609.0 232.3 L610.0 232.8 L611.0 233.4 L612.0 233.9 L613.0 234.5 L614.0 235.1 L615.0 235.7 L616.0 236.3 L617.0 236.9 L618.0 237.6 L619.0 238.2 L620.0 238.8 L621.0 239.5 L622.0 240.2 L623.0 240.8 L623.7 241.3 L624.0 241.5 L625.0 242.1 L626.0 242.8 L627.0 243.5 L628.0 244.2 L629.0 244.9 L630.0 245.6 L631.0 246.3 L632.0 247.0 L633.0 247.8 L634.0 248.5 L635.0 249.2 L636.0 250.0 L637.0 250.7 L638.0 251.5 L638.9 252.2 L639.0 252.2 L640.0 253.0 L641.0 253.8 L642.0 254.6 L643.0 255.4 L644.0 256.2 L645.0 257.1 L646.0 257.9 L647.0 258.7 L648.0 259.6 L649.0 260.4 L650.0 261.2 L650.3 261.5 L651.0 262.0 L652.0 262.8 L653.0 263.6 L654.0 264.4 L655.0 265.2 L656.0 266.0 L657.0 266.9 L658.0 267.7 L659.0 268.6 L660.0 269.5 L660.0 269.5 L661.0 270.4 L662.0 271.4 L663.0 272.4 L664.0 273.4 L665.0 274.4 L666.0 275.5 L667.0 276.5 L668.0 277.6 L669.0 278.7 L670.0 279.9 L671.0 281.0 L671.4 281.5 L672.0 282.2 L673.0 283.3 L674.0 284.6 L675.0 285.8 L676.0 287.1 L677.0 288.4 L678.0 289.7 L679.0 291.0 L680.0 292.3 L681.0 293.6 L682.0 294.9 L683.0 296.2 L684.0 297.5 L685.0 298.8 L685.5 299.5 L686.0 300.1 L687.0 301.4 L688.0 302.7 L689.0 304.0 L690.0 305.3 L691.0 306.6 L692.0 307.9 L693.0 309.2 L694.0 310.4 L695.0 311.6 L696.0 312.8 L697.0 314.0 L698.0 315.1 L698.1 315.2 L699.0 316.1 L700.0 317.1 L701.0 318.1 L702.0 319.1 L703.0 320.1 L704.0 321.0 L705.0 321.9 L706.0 322.8 L707.0 323.7 L708.0 324.6 L709.0 325.5 L710.0 326.3 L711.0 327.1 L711.4 327.5 L712.0 328.0 L713.0 328.8 L714.0 329.6 L715.0 330.4 L716.0 331.2 L717.0 332.0 L718.0 332.8 L719.0 333.6 L720.0 334.4 L721.0 335.1 L722.0 335.8 L723.0 336.5 L724.0 337.2 L725.0 337.9 L726.0 338.6 L726.6 339.0 L727.0 339.2 L728.0 339.9 L729.0 340.5 L730.0 341.1 L731.0 341.7 L732.0 342.3 L733.0 342.9 L734.0 343.5 L735.0 344.0 L736.0 344.6 L737.0 345.1 L738.0 345.7 L739.0 346.2 L740.0 346.7 L741.0 347.2 L742.0 347.7 L743.0 348.2 L743.7 348.5 L744.0 348.6 L745.0 349.1 L746.0 349.5 L747.0 350.0 L748.0 350.4 L749.0 350.8 L750.0 351.3 L751.0 351.7 L752.0 352.1 L753.0 352.5 L754.0 352.9 L755.0 353.2 L756.0 353.6 L757.0 354.0 L758.0 354.3 L759.0 354.7 L760.0 355.1 L761.0 355.4 L762.0 355.7 L762.8 356.0 L763.0 356.1 L764.0 356.4 L765.0 356.7 L766.0 357.0 L767.0 357.3 L768.0 357.6 L769.0 357.9 L770.0 358.2 L771.0 358.5 L772.0 358.7 L773.0 359.0 L774.0 359.3 L775.0 359.5 L776.0 359.8 L777.0 360.1 L778.0 360.3 L779.0 360.6 L780.0 360.8 L781.0 361.1 L781.8 361.3 L782.0 361.3 L783.0 361.6 L784.0 361.9 L785.0 362.1 L786.0 362.3 L787.0 362.6 L788.0 362.8 L789.0 363.1 L790.0 363.3 L791.0 363.6 L792.0 363.8 L793.0 364.0 L794.0 364.3 L795.0 364.5 L796.0 364.7 L797.0 364.9 L798.0 365.2 L799.0 365.4 L800.0 365.6 L800.8 365.8 L801.0 365.8 L802.0 366.1 L803.0 366.3 L804.0 366.5 L805.0 366.7 L806.0 366.9 L807.0 367.2 L808.0 367.4 L809.0 367.6 L810.0 367.8 L811.0 368.0 L812.0 368.2 L813.0 368.5 L814.0 368.7 L815.0 368.9 L816.0 369.1 L817.0 369.3 L818.0 369.5 L819.0 369.6 L819.8 369.8 L820.0 369.8 L821.0 370.0 L822.0 370.2 L823.0 370.4 L824.0 370.6 L825.0 370.7 L826.0 370.9 L827.0 371.1 L828.0 371.2 L829.0 371.4 L830.0 371.6 L831.0 371.7 L832.0 371.9 L833.0 372.0 L834.0 372.2 L835.0 372.4 L836.0 372.5 L837.0 372.7 L838.0 372.9 L838.9 373.0 L839.0 373.0 L840.0 373.2 L841.0 373.3 L842.0 373.5 L843.0 373.7 L844.0 373.9 L845.0 374.0 L846.0 374.2 L847.0 374.4 L848.0 374.5 L849.0 374.7 L850.0 374.9 L851.0 375.0 L852.0 375.2 L853.0 375.4 L854.0 375.5 L855.0 375.7 L856.0 375.9 L857.0 376.0 L858.0 376.2 L859.0 376.3 L860.0 376.5 L861.0 376.6 L862.0 376.7 L863.0 376.9 L864.0 377.0 L865.0 377.1 L865.1 377.1 L866.0 377.2 L867.0 377.3 L868.0 377.4 L869.0 377.5 L870.0 377.6 L871.0 377.7 L872.0 377.8 L873.0 377.9 L874.0 378.0 L875.0 378.1 L876.0 378.1 L877.0 378.2 L878.0 378.3 L879.0 378.4 L880.0 378.5 L881.0 378.6 L882.0 378.6 L883.0 378.7 L884.0 378.8 L884.2 378.8 L885.0 378.9 L886.0 378.9 L887.0 379.0 L888.0 379.1 L889.0 379.2 L890.0 379.2 L891.0 379.3 L892.0 379.4 L893.0 379.5 L894.0 379.5 L895.0 379.6 L896.0 379.7 L897.0 379.7 L898.0 379.8 L899.0 379.9 L900.0 379.9 L901.0 380.0 L902.0 380.0 L903.0 380.1 L903.2 380.1 L904.0 380.1 L905.0 380.2 L906.0 380.3 L907.0 380.3 L908.0 380.4 L909.0 380.4 L910.0 380.5 L911.0 380.5 L912.0 380.6 L913.0 380.6 L914.0 380.7 L915.0 380.7 L916.0 380.8 L917.0 380.8 L918.0 380.8 L919.0 380.9 L920.0 380.9 L921.0 381.0 L922.0 381.0 L922.2 381.0 L923.0 381.0 L924.0 381.1 L925.0 381.1 L926.0 381.1 L927.0 381.1 L928.0 381.2 L929.0 381.2 L930.0 381.2 L931.0 381.2 L932.0 381.3 L933.0 381.3 L934.0 381.3 L935.0 381.3 L936.0 381.4 L937.0 381.4 L938.0 381.4 L939.0 381.4" fill="none" stroke="#ff7f0e" stroke-width="3.1" stroke-linejoin="round" stroke-linecap="round"/>
<path d="M161.9 15.8 L162.9 16.2 L163.9 16.7 L164.9 17.2 L165.9 17.8 L166.3 18.0 L166.9 18.4 L167.9 19.2 L168.9 19.9 L169.9 20.5 L170.0 20.5 L170.9 20.8 L171.9 21.0 L172.9 21.2 L173.9 21.3 L174.9 21.5 L175.0 21.5 L175.9 21.6 L176.9 21.8 L177.9 22.0 L178.9 22.1 L179.9 22.3 L180.9 22.4 L181.9 22.6 L182.9 22.7 L183.9 22.8 L184.9 22.9 L185.9 23.0 L186.9 23.1 L187.5 23.2 L187.9 23.2 L188.9 23.3 L189.9 23.4 L190.9 23.5 L191.9 23.6 L192.9 23.7 L193.9 23.7 L194.9 23.8 L195.9 23.9 L196.9 23.9 L197.9 24.0 L198.9 24.1 L199.9 24.1 L200.9 24.2 L201.9 24.3 L202.9 24.3 L203.9 24.4 L204.9 24.4 L205.9 24.5 L206.9 24.5 L207.9 24.6 L208.9 24.6 L209.9 24.7 L210.9 24.7 L211.9 24.8 L212.5 24.8 L212.9 24.8 L213.9 24.9 L214.9 24.9 L215.9 25.0 L216.9 25.0 L217.9 25.0 L218.9 25.1 L219.9 25.1 L220.9 25.2 L221.9 25.2 L222.9 25.2 L223.9 25.3 L224.9 25.3 L225.9 25.4 L226.9 25.4 L227.9 25.4 L228.9 25.5 L229.9 25.5 L230.9 25.5 L231.9 25.6 L232.9 25.6 L233.9 25.6 L234.9 25.7 L235.9 25.7 L236.9 25.7 L237.9 25.8 L238.9 25.8 L239.9 25.8 L240.9 25.9 L241.9 25.9 L242.9 25.9 L243.9 25.9 L244.9 26.0 L245.9 26.0 L246.9 26.0 L247.9 26.0 L248.9 26.1 L249.9 26.1 L250.0 26.1 L250.9 26.1 L251.9 26.1 L252.9 26.2 L253.9 26.2 L254.9 26.2 L255.9 26.2 L256.9 26.3 L257.9 26.3 L258.9 26.3 L259.9 26.3 L260.9 26.3 L261.9 26.4 L262.9 26.4 L263.9 26.4 L264.9 26.4 L265.9 26.4 L266.9 26.5 L267.9 26.5 L268.9 26.5 L269.9 26.5 L270.9 26.5 L271.9 26.5 L272.9 26.6 L273.9 26.6 L274.9 26.6 L275.9 26.6 L276.9 26.6 L277.9 26.6 L278.9 26.7 L279.9 26.7 L280.9 26.7 L281.9 26.7 L282.9 26.7 L283.9 26.7 L284.9 26.8 L285.9 26.8 L286.9 26.8 L287.5 26.8 L287.9 26.8 L288.9 26.8 L289.9 26.8 L291.0 26.9 L292.0 26.9 L293.0 26.9 L294.0 26.9 L295.0 26.9 L296.0 26.9 L297.0 27.0 L298.0 27.0 L299.0 27.0 L300.0 27.0 L301.0 27.0 L302.0 27.0 L303.0 27.0 L304.0 27.1 L305.0 27.1 L306.0 27.1 L307.0 27.1 L308.0 27.1 L309.0 27.1 L310.0 27.1 L311.0 27.2 L312.0 27.2 L313.0 27.2 L314.0 27.2 L315.0 27.2 L316.0 27.2 L317.0 27.3 L318.0 27.3 L319.0 27.3 L320.0 27.3 L321.0 27.3 L322.0 27.3 L323.0 27.4 L324.0 27.4 L325.0 27.4 L325.0 27.4 L326.0 27.4 L327.0 27.4 L328.0 27.5 L329.0 27.5 L330.0 27.5 L331.0 27.5 L332.0 27.5 L333.0 27.6 L334.0 27.6 L335.0 27.6 L336.0 27.6 L337.0 27.7 L338.0 27.7 L339.0 27.7 L340.0 27.7 L341.0 27.8 L342.0 27.8 L343.0 27.8 L344.0 27.8 L345.0 27.9 L346.0 27.9 L347.0 27.9 L348.0 27.9 L349.0 28.0 L350.0 28.0 L351.0 28.0 L352.0 28.0 L353.0 28.1 L354.0 28.1 L355.0 28.1 L356.0 28.2 L357.0 28.2 L358.0 28.2 L359.0 28.3 L360.0 28.3 L361.0 28.3 L362.0 28.4 L362.5 28.4 L363.0 28.4 L364.0 28.5 L365.0 28.5 L366.0 28.5 L367.0 28.6 L368.0 28.6 L369.0 28.7 L370.0 28.7 L371.0 28.8 L372.0 28.8 L373.0 28.9 L374.0 29.0 L375.0 29.0 L376.0 29.1 L377.0 29.1 L378.0 29.2 L379.0 29.3 L380.0 29.3 L381.0 29.4 L381.3 29.4 L382.0 29.4 L383.0 29.5 L384.0 29.6 L385.0 29.6 L386.0 29.7 L387.0 29.8 L388.0 29.8 L389.0 29.9 L390.0 30.0 L391.0 30.0 L392.0 30.1 L393.0 30.2 L394.0 30.2 L395.0 30.3 L396.0 30.4 L397.0 30.5 L398.0 30.6 L399.0 30.7 L400.0 30.8 L400.0 30.8 L401.0 30.9 L402.0 31.0 L403.0 31.2 L404.0 31.3 L405.0 31.5 L406.0 31.7 L407.0 31.8 L408.0 32.0 L408.5 32.1 L409.0 32.2 L410.0 32.4 L411.0 32.5 L412.0 32.7 L413.0 32.9 L414.0 33.0 L415.0 33.2 L416.0 33.4 L417.0 33.5 L418.0 33.7 L419.0 33.9 L420.0 34.1 L421.0 34.3 L422.0 34.5 L423.0 34.8 L424.0 35.0 L425.0 35.2 L426.0 35.5 L427.0 35.7 L427.6 35.9 L428.0 36.0 L429.0 36.3 L430.0 36.6 L431.0 37.0 L432.0 37.3 L433.0 37.7 L434.0 38.1 L435.0 38.6 L436.0 39.0 L437.0 39.5 L438.0 40.0 L439.0 40.5 L440.0 41.1 L440.9 41.6 L441.0 41.7 L442.0 42.3 L443.0 43.0 L444.0 43.8 L445.0 44.6 L446.0 45.5 L447.0 46.5 L448.0 47.5 L449.0 48.5 L450.0 49.5 L451.0 50.6 L452.0 51.7 L452.3 52.0 L453.0 52.8 L454.0 54.0 L455.0 55.3 L456.0 56.7 L457.0 58.1 L458.0 59.5 L458.4 60.0 L459.0 60.8 L460.0 62.2 L461.0 63.6 L462.0 65.0 L463.0 66.5 L464.0 68.0 L465.0 69.6 L465.2 69.9 L466.0 71.3 L467.0 73.2 L468.0 75.1 L469.0 77.2 L470.0 79.3 L470.6 80.6 L471.0 81.6 L472.0 84.0 L473.0 86.5 L474.0 89.1 L475.0 91.8 L475.1 92.0 L476.0 94.4 L477.0 97.1 L478.0 99.9 L479.0 102.8 L479.5 104.2 L480.0 105.8 L481.0 108.9 L482.0 112.1 L483.0 115.4 L484.0 119.0 L484.3 120.0 L485.0 122.8 L486.0 127.0 L487.0 131.3 L488.0 135.5 L488.0 135.6 L489.0 139.8 L490.0 144.1 L491.0 148.3 L492.0 152.5 L492.0 152.6 L493.0 157.0 L494.0 161.5 L495.0 166.0 L496.0 170.3 L496.2 171.0 L497.0 174.4 L498.0 178.4 L499.0 182.3 L500.0 186.1 L500.9 189.5 L501.0 190.0 L502.0 193.9 L503.0 197.7 L504.0 201.6 L505.0 205.4 L505.7 208.0 L506.0 209.3 L507.0 213.1 L508.0 217.0 L509.0 220.9 L510.0 224.7 L510.5 226.5 L511.0 228.6 L512.0 232.5 L513.0 236.4 L514.0 240.3 L515.0 244.0 L515.2 244.6 L516.0 247.6 L517.0 251.1 L518.0 254.5 L519.0 257.8 L520.0 260.9 L520.9 263.5 L521.0 263.9 L522.0 266.7 L523.0 269.4 L524.0 272.0 L525.0 274.6 L526.0 277.1 L527.0 279.5 L528.0 282.0 L528.5 283.2 L529.0 284.6 L530.0 287.2 L531.0 289.7 L532.0 292.2 L533.0 294.5 L533.0 294.6 L534.0 296.9 L535.0 299.1 L536.0 301.2 L537.0 303.2 L537.1 303.3 L538.0 305.1 L539.0 306.9 L540.0 308.6 L541.0 310.3 L542.0 311.9 L543.0 313.4 L544.0 314.8 L544.7 315.7 L545.0 316.2 L546.0 317.5 L547.0 318.7 L548.0 319.9 L549.1 321.1 L550.1 322.2 L551.1 323.2 L552.1 324.2 L553.1 325.2 L554.1 326.1 L554.2 326.2 L555.1 326.9 L556.1 327.7 L557.1 328.5 L558.1 329.3 L559.1 330.0 L560.1 330.7 L561.1 331.3 L562.1 332.0 L563.1 332.6 L564.1 333.2 L565.1 333.8 L565.6 334.1 L566.1 334.4 L567.1 334.9 L568.1 335.4 L569.1 336.0 L570.1 336.5 L571.1 336.9 L572.1 337.4 L573.1 337.9 L574.1 338.3 L575.1 338.8 L576.1 339.2 L577.1 339.7 L578.1 340.1 L579.1 340.6 L580.1 341.0 L580.9 341.4 L581.1 341.5 L582.1 341.9 L583.1 342.4 L584.1 342.8 L585.1 343.3 L586.1 343.7 L587.1 344.1 L588.1 344.6 L589.1 345.0 L590.1 345.4 L591.1 345.9 L592.1 346.3 L593.1 346.8 L594.1 347.2 L595.1 347.7 L596.1 348.1 L597.1 348.6 L598.0 349.0 L598.1 349.0 L599.1 349.5 L600.1 350.0 L601.1 350.5 L602.1 350.9 L603.1 351.4 L604.1 351.9 L605.1 352.4 L606.1 352.9 L607.1 353.4 L608.1 353.9 L609.1 354.4 L610.1 354.9 L611.1 355.4 L612.1 355.9 L613.1 356.4 L614.1 356.9 L615.1 357.5 L616.1 358.0 L617.0 358.5 L617.1 358.5 L618.1 359.1 L619.1 359.7 L620.1 360.2 L621.1 360.8 L622.1 361.4 L623.1 362.0 L624.1 362.6 L625.1 363.2 L626.1 363.8 L627.1 364.4 L628.1 365.0 L629.1 365.6 L630.1 366.2 L631.1 366.8 L632.1 367.5 L633.1 368.1 L634.1 368.7 L635.1 369.3 L636.0 369.9 L636.1 370.0 L637.1 370.6 L638.1 371.2 L639.1 371.9 L640.1 372.5 L641.1 373.1 L642.1 373.8 L643.1 374.4 L644.1 375.1 L645.1 375.8 L646.1 376.4 L647.1 377.1 L648.1 377.7 L649.1 378.4 L650.1 379.1 L651.1 379.7 L652.1 380.4 L653.1 381.0 L654.1 381.7 L655.1 382.3 L655.1 382.3 L656.1 382.9 L657.1 383.6 L658.1 384.2 L659.1 384.8 L660.1 385.4 L661.1 386.0 L662.1 386.6 L663.1 387.3 L664.1 387.9 L665.1 388.5 L666.1 389.1 L667.1 389.8 L668.1 390.4 L668.2 390.5 L669.1 391.1 L670.1 391.8 L671.1 392.5 L672.1 393.1 L673.1 393.8 L674.1 394.6 L675.1 395.3 L676.1 396.0 L677.1 396.7 L678.1 397.4 L679.1 398.1 L680.1 398.8 L681.1 399.5 L682.1 400.3 L683.1 401.0 L684.1 401.6 L684.9 402.2 L685.1 402.3 L686.1 403.0 L687.1 403.7 L688.1 404.4 L689.1 405.1 L690.1 405.8 L691.1 406.5 L692.1 407.3 L693.1 407.9 L694.1 408.6 L695.1 409.3 L696.1 410.0 L697.1 410.7 L698.1 411.3 L699.1 411.9 L700.1 412.6 L701.1 413.2 L701.7 413.5 L702.1 413.7 L703.1 414.3 L704.1 414.9 L705.1 415.4 L706.1 415.9 L707.1 416.5 L708.1 417.0 L709.1 417.5 L710.1 418.0 L711.1 418.5 L712.1 419.0 L713.1 419.5 L714.1 419.9 L715.1 420.4 L716.1 420.9 L717.1 421.3 L718.1 421.8 L718.4 421.9 L719.1 422.2 L720.1 422.7 L721.1 423.1 L722.1 423.5 L723.1 424.0 L724.1 424.4 L725.1 424.8 L726.1 425.2 L727.1 425.6 L728.1 426.0 L729.1 426.4 L730.1 426.8 L731.1 427.2 L732.1 427.6 L733.0 427.9 L733.1 427.9 L734.1 428.3 L735.1 428.7 L736.1 429.0 L737.1 429.4 L738.1 429.8 L739.1 430.1 L740.1 430.5 L741.1 430.8 L742.1 431.2 L743.1 431.5 L744.1 431.8 L745.1 432.2 L746.1 432.5 L747.1 432.8 L748.1 433.1 L749.1 433.5 L750.1 433.8 L750.9 434.0 L751.1 434.1 L752.1 434.4 L753.1 434.7 L754.1 435.0 L755.1 435.3 L756.1 435.6 L757.1 435.9 L758.1 436.2 L759.1 436.4 L760.1 436.7 L761.1 437.0 L762.1 437.3 L763.1 437.6 L764.1 437.8 L765.1 438.1 L766.1 438.4 L767.1 438.6 L768.1 438.9 L769.1 439.1 L770.1 439.4 L771.1 439.6 L771.9 439.8 L772.1 439.9 L773.1 440.1 L774.1 440.3 L775.1 440.5 L776.1 440.8 L777.1 441.0 L778.1 441.2 L779.1 441.4 L780.1 441.6 L781.1 441.8 L782.1 442.0 L783.1 442.2 L784.1 442.4 L785.1 442.6 L786.1 442.8 L787.1 443.0 L788.1 443.2 L789.1 443.4 L790.1 443.5 L791.1 443.7 L792.1 443.9 L792.8 444.0 L793.1 444.1 L794.1 444.2 L795.1 444.4 L796.1 444.5 L797.1 444.7 L798.1 444.8 L799.1 445.0 L800.1 445.1 L801.1 445.2 L802.1 445.4 L803.1 445.5 L804.1 445.6 L805.1 445.8 L806.1 445.9 L807.1 446.0 L808.2 446.2 L809.2 446.3 L810.2 446.4 L811.2 446.6 L812.2 446.7 L813.2 446.8 L813.7 446.9 L814.2 447.0 L815.2 447.1 L816.2 447.2 L817.2 447.4 L818.2 447.5 L819.2 447.6 L820.2 447.8 L821.2 447.9 L822.2 448.0 L823.2 448.2 L824.2 448.3 L825.2 448.4 L826.2 448.6 L827.2 448.7 L828.2 448.8 L829.2 448.9 L830.2 449.1 L831.2 449.2 L832.2 449.3 L833.2 449.4 L834.2 449.5 L834.7 449.6 L835.2 449.7 L836.2 449.8 L837.2 449.9 L838.2 450.0 L839.2 450.1 L840.2 450.2 L841.2 450.3 L842.2 450.4 L843.2 450.5 L844.2 450.6 L845.2 450.7 L846.2 450.8 L847.2 450.9 L848.2 451.0 L849.2 451.1 L850.2 451.2 L851.2 451.3 L852.2 451.4 L853.2 451.5 L854.2 451.6 L855.2 451.7 L855.6 451.7 L856.2 451.8 L857.2 451.8 L858.2 451.9 L859.2 452.0 L860.2 452.1 L861.2 452.2 L862.2 452.3 L863.2 452.4 L864.2 452.5 L865.2 452.5 L866.2 452.6 L867.2 452.7 L868.2 452.8 L869.2 452.9 L870.2 452.9 L871.2 453.0 L872.2 453.1 L873.2 453.2 L874.2 453.2 L875.2 453.3 L876.2 453.4 L876.5 453.4 L877.2 453.4 L878.2 453.5 L879.2 453.6 L880.2 453.6 L881.2 453.7 L882.2 453.8 L883.2 453.8 L884.2 453.9 L885.2 453.9 L886.2 454.0 L887.2 454.0 L888.2 454.1 L889.2 454.2 L890.2 454.2 L891.2 454.3 L892.2 454.3 L893.2 454.4 L894.2 454.4 L895.2 454.5 L896.2 454.5 L897.2 454.6 L897.5 454.6 L898.2 454.6 L899.2 454.7 L900.2 454.7 L901.2 454.8 L902.2 454.9 L903.2 454.9 L904.2 455.0 L905.2 455.0 L906.2 455.1 L907.2 455.1 L908.2 455.2 L909.2 455.3 L910.2 455.3 L911.2 455.4 L912.2 455.4 L913.2 455.5 L914.2 455.5 L915.2 455.6 L916.2 455.6 L917.2 455.6 L918.2 455.7 L918.4 455.7 L919.2 455.7 L920.2 455.8 L921.2 455.8 L922.2 455.9 L923.2 455.9 L924.2 455.9 L925.2 456.0 L926.2 456.0 L927.2 456.0 L928.2 456.1 L929.2 456.1 L930.2 456.1 L931.2 456.2 L932.2 456.2 L933.2 456.2 L934.2 456.2 L935.2 456.3 L936.2 456.3" fill="none" stroke="#0a4f50" stroke-width="3.1" stroke-linejoin="round" stroke-linecap="round"/>
<path d="M161.9 15.8 L162.9 16.3 L163.9 16.9 L164.9 17.6 L165.9 18.3 L166.3 18.6 L166.9 19.1 L167.9 20.2 L168.9 21.2 L169.9 22.0 L170.0 22.0 L170.9 22.4 L171.9 22.8 L172.9 23.1 L173.9 23.4 L174.9 23.6 L175.0 23.6 L175.9 23.7 L176.9 23.9 L177.9 24.0 L178.9 24.1 L179.9 24.2 L180.9 24.3 L181.9 24.4 L182.9 24.5 L183.9 24.6 L184.9 24.7 L185.9 24.8 L186.9 24.8 L187.5 24.9 L187.9 24.9 L188.9 25.0 L189.9 25.1 L190.9 25.2 L191.9 25.3 L192.9 25.4 L193.9 25.5 L194.9 25.5 L195.9 25.6 L196.9 25.7 L197.9 25.8 L198.9 25.9 L199.9 25.9 L200.9 26.0 L201.9 26.1 L202.9 26.2 L203.9 26.2 L204.9 26.3 L205.9 26.4 L206.9 26.4 L207.9 26.5 L208.9 26.6 L209.9 26.6 L210.9 26.7 L211.9 26.8 L212.5 26.8 L212.9 26.8 L213.9 26.9 L214.9 26.9 L215.9 27.0 L216.9 27.1 L217.9 27.1 L218.9 27.2 L219.9 27.2 L220.9 27.3 L221.9 27.4 L222.9 27.4 L223.9 27.5 L224.9 27.5 L225.9 27.6 L226.9 27.6 L227.9 27.7 L228.9 27.7 L229.9 27.8 L230.9 27.8 L231.9 27.9 L232.9 27.9 L233.9 28.0 L234.9 28.0 L235.9 28.1 L236.9 28.1 L237.9 28.2 L238.9 28.2 L239.9 28.3 L240.9 28.3 L241.9 28.4 L242.9 28.4 L243.9 28.5 L244.9 28.5 L245.9 28.5 L246.9 28.6 L247.9 28.6 L248.9 28.7 L249.9 28.7 L250.0 28.7 L250.9 28.7 L251.9 28.8 L252.9 28.8 L253.9 28.9 L254.9 28.9 L255.9 28.9 L256.9 29.0 L257.9 29.0 L258.9 29.0 L260.0 29.1 L261.0 29.1 L262.0 29.1 L263.0 29.2 L264.0 29.2 L265.0 29.2 L266.0 29.3 L267.0 29.3 L268.0 29.3 L269.0 29.4 L270.0 29.4 L271.0 29.4 L272.0 29.4 L273.0 29.5 L274.0 29.5 L275.0 29.5 L276.0 29.6 L277.0 29.6 L278.0 29.6 L279.0 29.7 L280.0 29.7 L281.0 29.7 L282.0 29.7 L283.0 29.8 L284.0 29.8 L285.0 29.8 L286.0 29.9 L287.0 29.9 L287.5 29.9 L288.0 29.9 L289.0 29.9 L290.0 30.0 L291.0 30.0 L292.0 30.0 L293.0 30.1 L294.0 30.1 L295.0 30.1 L296.0 30.1 L297.0 30.2 L298.0 30.2 L299.0 30.2 L300.0 30.2 L301.0 30.3 L302.0 30.3 L303.0 30.3 L304.0 30.4 L305.0 30.4 L306.0 30.4 L307.0 30.4 L308.0 30.5 L309.0 30.5 L310.0 30.5 L311.0 30.5 L312.0 30.6 L313.0 30.6 L314.0 30.6 L315.0 30.6 L316.0 30.7 L317.0 30.7 L318.0 30.7 L319.0 30.7 L320.0 30.8 L321.0 30.8 L322.0 30.8 L323.0 30.8 L324.0 30.9 L325.0 30.9 L325.0 30.9 L326.0 30.9 L327.0 30.9 L328.0 31.0 L329.0 31.0 L330.0 31.0 L331.0 31.0 L332.0 31.1 L333.0 31.1 L334.0 31.1 L335.0 31.1 L336.0 31.2 L337.0 31.2 L338.0 31.2 L339.0 31.2 L340.0 31.2 L341.0 31.3 L342.0 31.3 L343.0 31.3 L344.0 31.3 L345.0 31.4 L346.0 31.4 L347.0 31.4 L348.0 31.4 L349.0 31.4 L350.0 31.5 L351.0 31.5 L352.0 31.5 L353.0 31.5 L354.0 31.6 L355.0 31.6 L356.0 31.6 L357.0 31.6 L358.0 31.7 L359.0 31.7 L360.0 31.7 L361.0 31.8 L362.0 31.8 L362.5 31.8 L363.0 31.8 L364.0 31.8 L365.0 31.9 L366.0 31.9 L367.0 31.9 L368.0 32.0 L369.0 32.0 L370.0 32.0 L371.0 32.1 L372.0 32.1 L373.0 32.1 L374.0 32.2 L375.0 32.2 L376.0 32.2 L377.0 32.3 L378.0 32.3 L379.0 32.4 L380.0 32.4 L381.0 32.5 L381.3 32.5 L382.0 32.5 L383.0 32.6 L384.0 32.7 L385.0 32.7 L386.0 32.8 L387.0 32.9 L388.0 33.0 L389.0 33.1 L390.0 33.2 L391.0 33.3 L392.0 33.4 L393.0 33.5 L394.0 33.6 L395.0 33.7 L396.0 33.9 L397.0 34.0 L398.0 34.1 L399.0 34.2 L399.0 34.2 L400.0 34.3 L401.0 34.4 L402.0 34.6 L403.0 34.7 L404.0 34.8 L405.0 34.9 L406.0 35.0 L407.0 35.2 L408.0 35.3 L409.0 35.4 L410.0 35.6 L411.0 35.7 L412.0 35.9 L413.0 36.0 L414.0 36.2 L415.0 36.4 L416.0 36.5 L417.0 36.7 L418.0 36.9 L418.1 36.9 L419.0 37.1 L420.0 37.3 L421.0 37.5 L422.0 37.7 L423.0 37.9 L424.0 38.2 L425.0 38.4 L426.0 38.7 L427.0 38.9 L428.0 39.2 L429.0 39.5 L430.0 39.8 L431.0 40.1 L432.0 40.4 L433.0 40.7 L433.3 40.8 L434.0 41.0 L435.0 41.4 L436.0 41.7 L437.0 42.1 L438.0 42.5 L439.0 42.9 L440.0 43.3 L441.0 43.8 L442.0 44.2 L443.0 44.7 L444.0 45.2 L444.7 45.5 L445.0 45.7 L446.0 46.2 L447.0 46.7 L448.0 47.3 L449.0 47.9 L450.0 48.5 L451.0 49.2 L452.0 49.9 L453.0 50.6 L454.1 51.4 L454.2 51.5 L455.1 52.2 L456.1 53.1 L457.1 54.0 L458.1 55.0 L459.1 56.0 L460.1 57.1 L461.1 58.2 L462.1 59.4 L462.6 60.0 L463.1 60.5 L464.1 61.8 L465.1 63.1 L466.1 64.4 L467.1 65.8 L468.1 67.3 L469.1 68.8 L469.8 69.9 L470.1 70.3 L471.1 71.9 L472.1 73.6 L473.1 75.4 L474.1 77.2 L475.1 79.1 L475.9 80.6 L476.1 80.9 L477.1 82.7 L478.1 84.5 L479.1 86.4 L480.1 88.3 L481.1 90.2 L481.2 90.5 L482.1 92.2 L483.1 94.3 L484.1 96.5 L485.1 98.7 L485.8 100.4 L486.1 101.0 L487.1 103.5 L488.1 106.0 L489.1 108.8 L489.6 110.3 L490.1 111.7 L491.1 115.1 L492.1 118.5 L492.7 120.5 L493.1 121.6 L494.1 124.2 L495.1 126.6 L496.1 129.3 L496.3 130.0 L497.1 132.4 L498.1 135.8 L499.1 139.5 L499.2 140.0 L500.1 143.4 L501.1 147.7 L501.8 151.0 L502.1 152.3 L503.1 157.4 L504.1 162.8 L505.0 168.0 L505.1 168.4 L506.1 174.4 L507.1 180.5 L508.1 186.7 L508.3 188.0 L509.1 192.6 L510.1 198.4 L511.1 204.3 L511.7 208.0 L512.1 210.3 L513.1 216.5 L514.1 222.8 L515.1 229.2 L515.2 230.0 L516.1 235.7 L517.1 242.2 L518.1 248.8 L518.7 253.0 L519.1 255.6 L520.1 262.6 L521.1 269.8 L522.1 277.0 L522.5 280.0 L523.1 284.2 L524.1 291.4 L525.1 299.1 L525.2 300.0 L526.1 308.1 L526.8 314.7 L527.1 317.2 L528.1 325.4 L529.1 333.3 L529.9 339.5 L530.1 340.9 L531.1 348.6 L532.1 356.1 L533.1 362.9 L533.3 364.2 L534.1 368.9 L535.1 374.5 L536.1 379.6 L537.1 384.5 L537.2 385.0 L538.1 389.1 L539.1 393.5 L540.1 397.7 L541.1 401.6 L541.6 403.5 L542.1 405.3 L543.1 408.9 L544.1 412.4 L545.1 415.7 L546.1 418.7 L547.1 421.5 L547.7 423.0 L548.1 423.9 L549.1 426.2 L550.1 428.3 L551.1 430.2 L552.1 432.0 L553.1 433.7 L554.1 435.2 L555.0 436.5 L555.1 436.6 L556.1 437.9 L557.1 439.1 L558.1 440.3 L559.1 441.4 L560.1 442.4 L561.1 443.4 L562.1 444.4 L563.1 445.3 L564.1 446.2 L565.1 447.0 L566.1 447.8 L567.1 448.6 L567.7 449.1 L568.1 449.4 L569.1 450.2 L570.1 450.9 L571.1 451.6 L572.1 452.3 L573.1 452.9 L574.1 453.6 L575.1 454.2 L576.1 454.8 L577.1 455.4 L578.1 456.0 L579.1 456.5 L580.1 457.1 L581.1 457.7 L582.1 458.2 L583.1 458.8 L584.1 459.3 L584.4 459.5 L585.1 459.9 L586.1 460.4 L587.1 461.0 L588.1 461.5 L589.1 462.0 L590.1 462.5 L591.1 463.0 L592.1 463.6 L593.1 464.0 L594.1 464.5 L595.1 465.0 L596.1 465.5 L597.1 466.0 L598.1 466.5 L599.1 467.0 L600.1 467.4 L601.1 467.9 L602.1 468.4 L603.1 468.9 L604.1 469.4 L605.1 469.9 L605.4 470.0 L606.1 470.4 L607.1 470.8 L608.1 471.3 L609.1 471.8 L610.1 472.3 L611.1 472.8 L612.1 473.3 L613.1 473.8 L614.1 474.3 L615.1 474.7 L616.1 475.2 L617.1 475.7 L618.1 476.2 L619.1 476.7 L620.1 477.2 L621.1 477.6 L622.1 478.1 L623.1 478.6 L624.1 479.1 L625.1 479.5 L626.1 480.0 L626.3 480.1 L627.1 480.5 L628.1 481.0 L629.1 481.4 L630.1 481.9 L631.1 482.4 L632.1 482.8 L633.1 483.3 L634.1 483.8 L635.1 484.2 L636.1 484.7 L637.1 485.2 L638.1 485.6 L639.1 486.1 L640.1 486.6 L641.1 487.0 L642.1 487.5 L643.1 488.0 L644.1 488.4 L645.1 488.9 L646.1 489.4 L647.1 489.9 L647.2 489.9 L648.2 490.4 L649.2 490.9 L650.2 491.3 L651.2 491.8 L652.2 492.3 L653.2 492.8 L654.2 493.4 L655.2 493.9 L656.2 494.4 L657.2 494.9 L658.2 495.4 L659.2 495.9 L660.2 496.4 L661.2 496.9 L662.2 497.4 L663.2 497.9 L664.2 498.4 L665.2 498.9 L666.2 499.4 L667.2 499.9 L668.2 500.4 L668.2 500.4 L669.2 500.9 L670.2 501.4 L671.2 501.8 L672.2 502.3 L673.2 502.8 L674.2 503.3 L675.2 503.8 L676.2 504.3 L677.2 504.8 L678.2 505.2 L679.2 505.7 L680.2 506.2 L681.2 506.7 L682.2 507.1 L683.2 507.6 L684.2 508.0 L685.2 508.5 L686.2 508.9 L687.2 509.4 L688.2 509.8 L689.1 510.2 L689.2 510.2 L690.2 510.7 L691.2 511.1 L692.2 511.5 L693.2 511.9 L694.2 512.3 L695.2 512.7 L696.2 513.1 L697.2 513.5 L698.2 513.9 L699.2 514.3 L700.2 514.7 L701.2 515.1 L702.2 515.4 L703.2 515.8 L704.2 516.2 L705.2 516.5 L706.2 516.9 L707.2 517.2 L708.2 517.6 L709.2 517.9 L710.0 518.2 L710.2 518.3 L711.2 518.6 L712.2 518.9 L713.2 519.2 L714.2 519.5 L715.2 519.8 L716.2 520.2 L717.2 520.5 L718.2 520.7 L719.2 521.0 L720.2 521.3 L721.2 521.6 L722.2 521.9 L723.2 522.2 L724.2 522.5 L725.2 522.7 L726.2 523.0 L727.2 523.3 L728.2 523.5 L729.2 523.8 L730.2 524.1 L731.0 524.3 L731.2 524.4 L732.2 524.6 L733.2 524.9 L734.2 525.1 L735.2 525.4 L736.2 525.7 L737.2 525.9 L738.2 526.2 L739.2 526.4 L740.2 526.7 L741.2 526.9 L742.2 527.2 L743.2 527.4 L744.2 527.7 L745.2 527.9 L746.2 528.1 L747.2 528.4 L748.2 528.6 L749.2 528.8 L750.2 529.0 L750.9 529.2 L751.2 529.3 L752.2 529.5 L753.2 529.7 L754.2 529.9 L755.2 530.1 L756.2 530.3 L757.2 530.5 L758.2 530.8 L759.2 531.0 L760.2 531.2 L761.2 531.4 L762.2 531.6 L763.2 531.8 L764.2 532.0 L765.2 532.1 L766.2 532.3 L767.2 532.5 L768.2 532.7 L769.2 532.9 L770.2 533.0 L771.2 533.2 L771.9 533.3 L772.2 533.3 L773.2 533.5 L774.2 533.7 L775.2 533.8 L776.2 534.0 L777.2 534.1 L778.2 534.2 L779.2 534.4 L780.2 534.5 L781.2 534.6 L782.2 534.8 L783.2 534.9 L784.2 535.0 L785.2 535.2 L786.2 535.3 L787.2 535.4 L788.2 535.5 L789.2 535.7 L790.2 535.8 L791.2 535.9 L792.2 536.0 L792.8 536.1 L793.2 536.2 L794.2 536.3 L795.2 536.4 L796.2 536.5 L797.2 536.7 L798.2 536.8 L799.2 536.9 L800.2 537.0 L801.2 537.2 L802.2 537.3 L803.2 537.4 L804.2 537.5 L805.2 537.6 L806.2 537.8 L807.2 537.9 L808.2 538.0 L809.2 538.1 L810.2 538.2 L811.2 538.3 L812.2 538.4 L813.2 538.5 L813.7 538.6 L814.2 538.7 L815.2 538.8 L816.2 538.9 L817.2 539.0 L818.2 539.1 L819.2 539.2 L820.2 539.3 L821.2 539.4 L822.2 539.5 L823.2 539.6 L824.2 539.7 L825.2 539.8 L826.2 539.9 L827.2 540.0 L828.2 540.1 L829.2 540.2 L830.2 540.3 L831.2 540.4 L832.2 540.5 L833.2 540.6 L834.2 540.7 L834.7 540.7 L835.2 540.7 L836.2 540.8 L837.2 540.9 L838.2 541.0 L839.2 541.1 L840.2 541.2 L841.2 541.2 L842.3 541.3 L843.3 541.4 L844.3 541.5 L845.3 541.5 L846.3 541.6 L847.3 541.7 L848.3 541.8 L849.3 541.8 L850.3 541.9 L851.3 542.0 L852.3 542.1 L853.3 542.1 L854.3 542.2 L855.3 542.3 L855.6 542.3 L856.3 542.3 L857.3 542.4 L858.3 542.5 L859.3 542.6 L860.3 542.6 L861.3 542.7 L862.3 542.8 L863.3 542.9 L864.3 543.0 L865.3 543.0 L866.3 543.1 L867.3 543.2 L868.3 543.2 L869.3 543.3 L870.3 543.4 L871.3 543.5 L872.3 543.5 L873.3 543.6 L874.3 543.7 L875.3 543.7 L876.3 543.8 L876.5 543.8 L877.3 543.8 L878.3 543.9 L879.3 544.0 L880.3 544.0 L881.3 544.1 L882.3 544.1 L883.3 544.2 L884.3 544.2 L885.3 544.3 L886.3 544.4 L887.3 544.4 L888.3 544.5 L889.3 544.5 L890.3 544.6 L891.3 544.6 L892.3 544.7 L893.3 544.7 L894.3 544.8 L895.3 544.8 L896.3 544.8 L897.3 544.9 L897.5 544.9 L898.3 544.9 L899.3 545.0 L900.3 545.0 L901.3 545.1 L902.3 545.1 L903.3 545.1 L904.3 545.2 L905.3 545.2 L906.3 545.3 L907.3 545.3 L908.3 545.3 L909.3 545.4 L910.3 545.4 L911.3 545.5 L912.3 545.5 L913.3 545.5 L914.3 545.6 L915.3 545.6 L916.3 545.6 L917.3 545.7 L918.3 545.7 L918.4 545.7 L919.3 545.7 L920.3 545.8 L921.3 545.8 L922.3 545.8 L923.3 545.9 L924.3 545.9 L925.3 545.9 L926.3 545.9 L927.3 546.0 L928.3 546.0 L929.3 546.0 L930.3 546.1 L931.3 546.1 L932.3 546.1 L933.3 546.1 L934.3 546.2 L935.3 546.2 L936.3 546.2 L937.3 546.3 L938.3 546.3 L939.3 546.3" fill="none" stroke="#00f6f6" stroke-width="3.1" stroke-linejoin="round" stroke-linecap="round"/>
<g stroke="#000" stroke-width="2.5" fill="none" stroke-linecap="butt">
<rect x="133.9" y="15.0" width="821.9" height="662.4"/>
<line x1="133.9" y1="677.4" x2="133.9" y2="690.1"/>
<line x1="339.4" y1="677.4" x2="339.4" y2="690.1"/>
<line x1="544.9" y1="677.4" x2="544.9" y2="690.1"/>
<line x1="750.3" y1="677.4" x2="750.3" y2="690.1"/>
<line x1="955.8" y1="677.4" x2="955.8" y2="690.1"/>
<line x1="120.4" y1="677.4" x2="133.9" y2="677.4"/>
<line x1="120.4" y1="544.9" x2="133.9" y2="544.9"/>
<line x1="120.4" y1="412.4" x2="133.9" y2="412.4"/>
<line x1="120.4" y1="280.0" x2="133.9" y2="280.0"/>
<line x1="120.4" y1="147.5" x2="133.9" y2="147.5"/>
<line x1="120.4" y1="15.0" x2="133.9" y2="15.0"/>
</g>
<text class="tk" x="133.9" y="721" text-anchor="middle">0</text>
<text class="tk" x="339.4" y="721" text-anchor="middle">200</text>
<text class="tk" x="544.9" y="721" text-anchor="middle">400</text>
<text class="tk" x="750.3" y="721" text-anchor="middle">600</text>
<text class="tk" x="955.8" y="721" text-anchor="middle">800</text>
<text class="tk" x="111.5" y="686.2" text-anchor="end">0</text>
<text class="tk" x="111.5" y="553.7" text-anchor="end">20</text>
<text class="tk" x="111.5" y="421.2" text-anchor="end">40</text>
<text class="tk" x="111.5" y="288.8" text-anchor="end">60</text>
<text class="tk" x="111.5" y="156.3" text-anchor="end">80</text>
<text class="tk" x="111.5" y="23.8" text-anchor="end">100</text>
<text class="pl" x="2.6" y="29.1">(a)</text>
<text class="ax" x="405.2" y="775">Temperature<tspan class="fw" dx="-1.2">（</tspan><tspan dx="5.2">°C</tspan><tspan class="fw" dx="1.2">）</tspan></text>
<text class="ax" transform="translate(30.7,462.5) rotate(-90)">Weight loss<tspan class="fw" dx="0">（</tspan><tspan dx="4">%</tspan><tspan class="fw" dx="4">）</tspan></text>
<line x1="149.5" y1="424.8" x2="206" y2="424.8" stroke="#00f6f6" stroke-width="3.5" stroke-linecap="round"/>
<text class="lg" x="220.3" y="434.7">E<tspan class="sub" dy="7.3">1</tspan></text>
<line x1="149.5" y1="466.1" x2="206" y2="466.1" stroke="#0a4f50" stroke-width="3.5" stroke-linecap="round"/>
<text class="lg" x="220.3" y="475.9">E<tspan class="sub" dy="7.3">2</tspan></text>
<line x1="149.5" y1="507.3" x2="206" y2="507.3" stroke="#ff7f0e" stroke-width="3.5" stroke-linecap="round"/>
<text class="lg" x="220.3" y="517.2">E<tspan class="sub" dy="7.3">3</tspan></text>
<line x1="149.5" y1="548.5" x2="206" y2="548.5" stroke="#ff00ff" stroke-width="3.5" stroke-linecap="round"/>
<text class="lg" x="220.3" y="558.4">E<tspan class="sub" dy="7.3">4</tspan></text>
<line x1="149.5" y1="589.8" x2="206" y2="589.8" stroke="#0000ff" stroke-width="3.5" stroke-linecap="round"/>
<text class="lg" x="220.3" y="599.7">E<tspan class="sub" dy="7.3">5</tspan></text>
<line x1="149.5" y1="631.0" x2="206" y2="631.0" stroke="#ff0000" stroke-width="3.5" stroke-linecap="round"/>
<text class="lg" x="220.3" y="640.9">E<tspan class="sub" dy="7.3">6</tspan></text>
</g>
<g id="panel-b">
<path d="M1181.9 95.7 L1182.6 112.0 L1182.9 120.0 L1183.4 129.9 L1183.9 131.8 L1184.9 133.4 L1184.9 133.4 L1185.9 133.3 L1186.9 133.0 L1187.9 132.6 L1188.0 132.6 L1188.9 132.1 L1189.9 131.3 L1190.9 130.4 L1191.9 129.3 L1192.9 128.3 L1193.9 127.4 L1194.0 127.3 L1194.9 126.6 L1195.9 125.8 L1196.9 125.1 L1197.9 124.3 L1198.9 123.6 L1199.9 122.8 L1200.1 122.7 L1200.9 122.1 L1201.9 121.4 L1202.9 120.6 L1203.9 119.9 L1204.9 119.0 L1205.5 118.5 L1205.9 118.1 L1206.9 116.8 L1207.9 115.6 L1208.5 115.1 L1208.9 114.8 L1209.9 114.1 L1210.9 113.6 L1211.9 113.2 L1212.9 113.0 L1213.0 113.0 L1213.9 113.6 L1214.9 115.1 L1215.9 116.7 L1216.9 117.5 L1217.0 117.5 L1217.9 116.7 L1218.9 114.7 L1219.9 112.3 L1220.9 110.1 L1221.0 110.0 L1221.9 108.3 L1222.9 106.3 L1223.9 105.0 L1224.5 104.8 L1224.9 104.8 L1225.9 104.8 L1226.9 104.8 L1227.9 104.8 L1228.9 104.8 L1229.9 104.8 L1230.9 104.8 L1231.4 104.8 L1231.9 110.4 L1232.5 116.2 L1232.9 116.2 L1233.9 116.2 L1234.9 116.2 L1235.9 116.2 L1236.9 116.2 L1238.0 116.2 L1239.0 116.2 L1240.0 116.2 L1241.0 116.2 L1242.0 116.2 L1243.0 116.2 L1244.0 116.2 L1245.0 116.2 L1246.0 116.2 L1247.0 116.2 L1248.0 116.2 L1249.0 116.2 L1250.0 116.2 L1251.0 116.2 L1252.0 116.2 L1253.0 116.2 L1254.0 116.2 L1255.0 116.2 L1255.7 116.2 L1256.0 113.0 L1256.5 104.0 L1257.0 104.0 L1258.0 104.0 L1259.0 104.1 L1260.0 104.1 L1261.0 104.2 L1262.0 104.3 L1263.0 104.4 L1264.0 104.5 L1265.0 104.6 L1266.0 104.7 L1267.0 104.8 L1268.0 104.9 L1269.0 105.1 L1270.0 105.1 L1271.0 105.2 L1272.0 105.3 L1273.0 105.4 L1274.0 105.4 L1275.0 105.4 L1275.0 105.4 L1276.0 105.4 L1277.0 105.4 L1278.0 105.4 L1279.0 105.4 L1280.0 105.4 L1281.0 105.4 L1282.0 105.4 L1283.0 105.4 L1284.0 105.4 L1285.0 105.3 L1286.0 105.3 L1287.0 105.3 L1288.0 105.3 L1289.0 105.3 L1290.0 105.3 L1291.0 105.3 L1292.0 105.3 L1293.0 105.3 L1294.0 105.3 L1295.0 105.2 L1296.0 105.2 L1297.0 105.2 L1298.0 105.2 L1299.0 105.2 L1300.0 105.2 L1300.0 105.2 L1301.0 105.2 L1302.0 105.2 L1303.0 105.2 L1304.0 105.2 L1305.0 105.2 L1306.0 105.2 L1307.0 105.2 L1308.0 105.1 L1309.0 105.1 L1310.0 105.1 L1311.0 105.1 L1312.0 105.1 L1313.0 105.1 L1314.0 105.1 L1315.0 105.1 L1316.0 105.1 L1317.0 105.1 L1318.0 105.1 L1319.0 105.1 L1320.0 105.1 L1321.0 105.1 L1322.0 105.1 L1323.0 105.1 L1324.0 105.0 L1325.0 105.0 L1326.0 105.0 L1327.0 105.0 L1328.0 105.0 L1329.0 105.0 L1330.0 105.0 L1331.0 105.0 L1332.0 105.0 L1333.0 105.0 L1334.0 105.0 L1335.0 105.0 L1336.0 105.0 L1337.0 105.0 L1338.0 105.0 L1339.0 105.0 L1340.0 105.0 L1340.0 105.0 L1341.0 105.0 L1342.0 105.0 L1343.0 105.0 L1344.0 105.1 L1345.0 105.1 L1346.0 105.1 L1347.0 105.2 L1348.0 105.2 L1349.1 105.3 L1350.1 105.3 L1351.1 105.3 L1352.1 105.4 L1353.1 105.4 L1354.1 105.5 L1355.1 105.5 L1356.1 105.5 L1357.1 105.6 L1358.1 105.6 L1359.1 105.6 L1360.0 105.6 L1360.1 105.6 L1361.1 105.6 L1362.1 105.5 L1363.1 105.5 L1364.1 105.4 L1365.1 105.3 L1366.1 105.3 L1367.1 105.2 L1368.1 105.1 L1369.0 105.1 L1369.1 105.1 L1370.1 105.1 L1371.1 105.0 L1372.1 105.0 L1373.1 105.0 L1374.1 104.9 L1375.1 104.9 L1376.1 104.9 L1377.1 104.8 L1378.1 104.8 L1379.1 104.8 L1380.1 104.8 L1380.8 104.8 L1381.1 105.6 L1382.1 113.6 L1382.4 114.8 L1383.1 115.3 L1384.1 115.8 L1385.1 116.2 L1386.1 116.4 L1387.1 116.6 L1388.0 116.6 L1388.1 116.6 L1389.1 116.6 L1390.1 116.5 L1391.1 116.4 L1392.1 116.3 L1393.1 116.3 L1394.1 116.2 L1395.0 116.2 L1395.1 116.2 L1396.1 116.2 L1397.1 116.2 L1398.1 116.3 L1399.1 116.4 L1400.1 116.4 L1401.1 116.5 L1402.1 116.6 L1403.1 116.8 L1404.1 116.9 L1405.0 117.0 L1405.1 117.0 L1406.1 117.2 L1407.1 117.5 L1408.1 117.8 L1409.1 118.2 L1410.1 118.7 L1411.1 119.2 L1412.1 119.6 L1413.1 120.1 L1414.0 120.5 L1414.1 120.5 L1415.1 121.0 L1416.1 121.4 L1417.1 121.9 L1418.1 122.4 L1419.1 122.9 L1420.1 123.4 L1421.1 123.9 L1422.1 124.4 L1423.1 125.0 L1424.0 125.5 L1424.1 125.6 L1425.1 126.2 L1426.1 127.0 L1427.1 127.8 L1428.1 128.6 L1429.1 129.4 L1430.1 130.1 L1431.1 130.7 L1432.1 131.1 L1432.2 131.1 L1433.1 131.4 L1434.1 131.6 L1435.1 131.8 L1436.1 132.0 L1437.1 132.2 L1438.1 132.4 L1439.1 132.5 L1440.1 132.6 L1440.4 132.6 L1441.1 132.7 L1442.1 132.7 L1443.1 132.8 L1444.1 132.9 L1445.1 132.9 L1446.0 132.9 L1446.1 132.9 L1447.1 132.9 L1448.1 132.8 L1449.1 132.7 L1450.1 132.6 L1451.1 132.5 L1452.1 132.5 L1453.1 132.4 L1453.2 132.4 L1454.1 132.4 L1455.1 132.3 L1456.1 132.3 L1457.1 132.3 L1458.1 132.2 L1459.1 132.2 L1460.2 132.2 L1460.5 132.2 L1461.2 132.2 L1462.2 132.2 L1463.2 132.3 L1464.2 132.3 L1465.2 132.4 L1465.9 132.5 L1466.2 132.5 L1467.2 132.8 L1468.2 133.1 L1469.2 133.6 L1470.2 134.1 L1471.2 134.6 L1471.5 134.8 L1472.2 135.1 L1473.2 135.6 L1474.2 136.2 L1475.0 136.6 L1475.2 136.7 L1476.2 137.1 L1477.2 137.5 L1478.2 137.9 L1479.2 138.3 L1480.2 138.6 L1481.2 139.0 L1482.2 139.4 L1483.2 139.9 L1484.1 140.4 L1484.2 140.4 L1485.2 141.1 L1486.2 141.8 L1487.2 142.6 L1488.2 143.5 L1489.2 144.4 L1490.2 145.4 L1491.2 146.3 L1492.2 147.2 L1493.2 148.0 L1493.3 148.1 L1494.2 148.8 L1495.2 149.6 L1496.2 150.4 L1497.2 151.3 L1498.2 152.1 L1499.2 152.8 L1500.2 153.5 L1501.2 154.2 L1502.2 154.8 L1502.4 154.9 L1503.2 155.3 L1504.2 155.9 L1505.2 156.5 L1506.2 157.0 L1507.2 157.5 L1508.2 158.0 L1509.2 158.3 L1510.2 158.6 L1511.2 158.7 L1511.5 158.7 L1512.2 158.7 L1513.2 158.4 L1514.2 158.1 L1515.2 157.6 L1516.2 157.1 L1517.2 156.6 L1517.6 156.4 L1518.2 156.1 L1519.2 155.5 L1520.2 154.8 L1521.2 154.0 L1522.2 153.3 L1523.2 152.5 L1524.2 151.8 L1525.2 151.1 L1525.2 151.1 L1526.2 150.5 L1527.2 149.9 L1528.2 149.4 L1529.2 148.8 L1530.2 148.3 L1531.2 147.7 L1532.2 147.2 L1533.2 146.6 L1534.2 145.9 L1534.4 145.8 L1535.2 145.2 L1536.2 144.4 L1537.2 143.6 L1538.2 142.7 L1539.2 141.8 L1540.2 140.9 L1541.2 140.0 L1542.2 139.2 L1543.2 138.4 L1543.5 138.2 L1544.2 137.7 L1545.2 137.1 L1546.2 136.5 L1547.2 135.9 L1548.2 135.3 L1549.2 134.8 L1550.2 134.2 L1551.2 133.6 L1552.2 133.0 L1552.6 132.8 L1553.2 132.4 L1554.2 131.7 L1555.2 131.0 L1556.2 130.2 L1557.2 129.5 L1558.2 128.8 L1559.2 128.1 L1560.2 127.5 L1561.2 127.0 L1561.8 126.7 L1562.2 126.5 L1563.2 126.1 L1564.2 125.7 L1565.2 125.3 L1566.2 125.0 L1567.2 124.7 L1568.2 124.4 L1569.2 124.1 L1570.2 123.9 L1570.9 123.7 L1571.3 123.6 L1572.3 123.4 L1573.3 123.1 L1574.3 122.8 L1575.3 122.6 L1576.3 122.3 L1577.3 122.1 L1578.3 121.9 L1579.3 121.7 L1580.3 121.6 L1581.3 121.5 L1582.3 121.4 L1583.1 121.4 L1583.3 121.4 L1584.3 121.5 L1585.3 121.6 L1586.3 121.7 L1587.3 121.9 L1588.3 122.1 L1589.3 122.2 L1590.0 122.3 L1590.3 122.3 L1591.3 122.4 L1592.3 122.5 L1593.3 122.6 L1594.3 122.6 L1595.3 122.7 L1596.3 122.7 L1597.3 122.8 L1598.3 122.8 L1598.9 122.8 L1599.3 122.8 L1600.3 122.8 L1601.3 122.7 L1602.3 122.6 L1603.3 122.5 L1604.3 122.3 L1605.3 122.2 L1606.3 122.2 L1607.3 122.1 L1607.8 122.1 L1608.3 122.1 L1609.3 122.4 L1610.3 122.8 L1611.3 123.4 L1612.3 124.0 L1613.3 124.7 L1614.3 125.4 L1615.3 126.1 L1616.3 126.7 L1616.7 126.9 L1617.3 127.2 L1618.3 127.6 L1619.3 128.0 L1620.3 128.3 L1621.3 128.7 L1622.3 129.1 L1623.3 129.4 L1624.3 129.9 L1625.3 130.3 L1625.5 130.4 L1626.3 130.8 L1627.3 131.3 L1628.3 131.8 L1629.3 132.4 L1630.3 133.0 L1631.3 133.6 L1632.3 134.3 L1633.3 135.0 L1634.3 135.7 L1634.4 135.8 L1635.3 136.5 L1636.3 137.4 L1637.3 138.4 L1638.3 139.5 L1639.3 140.6 L1640.3 141.7 L1641.3 143.0 L1642.3 144.2 L1643.3 145.5 L1643.3 145.5 L1644.3 146.9 L1645.3 148.4 L1646.3 150.0 L1647.3 151.7 L1648.3 153.4 L1649.3 155.2 L1650.3 157.0 L1650.4 157.1 L1651.3 158.8 L1652.3 160.7 L1653.3 162.7 L1654.3 164.7 L1655.3 166.8 L1656.3 168.9 L1657.3 170.9 L1657.5 171.3 L1658.3 173.0 L1659.3 175.1 L1660.3 177.2 L1661.3 179.3 L1662.3 181.5 L1663.3 183.6 L1664.3 185.6 L1664.7 186.4 L1665.3 187.7 L1666.3 189.8 L1667.3 191.8 L1668.3 193.9 L1669.3 195.9 L1670.3 197.9 L1671.3 199.8 L1671.8 200.6 L1672.3 201.6 L1673.3 203.3 L1674.3 204.9 L1675.3 206.5 L1676.3 208.1 L1677.3 209.7 L1678.3 211.3 L1678.9 212.2 L1679.3 212.9 L1680.3 214.7 L1681.4 216.4 L1682.4 218.2 L1683.4 219.9 L1684.4 221.5 L1685.4 223.0 L1686.0 223.8 L1686.4 224.2 L1687.4 225.4 L1688.4 226.5 L1689.4 227.6 L1690.4 228.6 L1691.4 229.5 L1692.4 230.3 L1693.1 230.9 L1693.4 231.1 L1694.4 231.8 L1695.4 232.5 L1696.4 233.1 L1697.4 233.7 L1698.4 234.3 L1699.4 234.8 L1700.2 235.3 L1700.4 235.4 L1701.4 236.0 L1702.4 236.6 L1703.4 237.2 L1704.4 237.8 L1705.4 238.3 L1706.4 238.7 L1707.3 238.9 L1707.4 238.9 L1708.4 239.1 L1709.4 239.2 L1710.4 239.3 L1711.4 239.4 L1712.4 239.4 L1712.6 239.4 L1713.4 239.3 L1714.4 239.1 L1715.4 238.7 L1716.4 238.3 L1717.4 237.7 L1718.4 237.1 L1719.4 236.5 L1719.8 236.2 L1720.4 235.8 L1721.4 235.1 L1722.4 234.2 L1723.4 233.2 L1724.4 232.1 L1725.4 231.0 L1726.4 229.7 L1726.9 229.1 L1727.4 228.4 L1728.4 227.0 L1729.4 225.3 L1730.4 223.6 L1731.4 221.7 L1732.4 219.8 L1733.4 217.8 L1734.0 216.6 L1734.4 215.8 L1735.4 213.7 L1736.4 211.4 L1737.4 209.1 L1738.4 206.7 L1739.4 204.4 L1740.4 202.1 L1741.1 200.6 L1741.4 200.0 L1742.4 197.8 L1743.4 195.7 L1744.4 193.6 L1745.4 191.6 L1746.4 189.7 L1747.4 187.8 L1748.2 186.4 L1748.4 186.0 L1749.4 184.4 L1750.4 182.8 L1751.4 181.3 L1752.4 179.9 L1753.4 178.4 L1754.4 177.0 L1755.3 175.8 L1755.4 175.6 L1756.4 174.2 L1757.4 172.8 L1758.4 171.5 L1759.4 170.2 L1760.0 169.5 L1760.4 169.0 L1761.4 168.0 L1762.4 167.0 L1763.4 166.0 L1764.4 165.0 L1765.4 164.1 L1765.5 164.0 L1766.4 163.1 L1767.4 162.1 L1768.4 161.1 L1769.4 160.1 L1770.4 159.1 L1771.0 158.5 L1771.4 158.1 L1772.4 157.0 L1773.4 156.0 L1774.4 154.9 L1775.4 153.9 L1776.4 153.0 L1777.4 152.2 L1777.6 152.1 L1778.4 151.6 L1779.4 151.1 L1780.4 150.6 L1781.4 150.2 L1782.4 149.8 L1783.4 149.3 L1784.2 148.8 L1784.4 148.6 L1785.4 147.8 L1786.4 146.8 L1787.4 145.7 L1788.4 144.6 L1789.4 143.5 L1790.4 142.5 L1790.8 142.2 L1791.4 141.7 L1792.5 140.9 L1793.5 140.1 L1794.5 139.5 L1795.5 138.8 L1796.3 138.4 L1796.5 138.3 L1797.5 137.9 L1798.5 137.5 L1799.5 137.1 L1800.5 136.8 L1801.5 136.4 L1802.5 136.1 L1803.5 135.8 L1804.0 135.6 L1804.5 135.4 L1805.5 135.0 L1806.5 134.6 L1807.5 134.1 L1808.5 133.8 L1809.5 133.5 L1810.5 133.4 L1810.6 133.4 L1811.5 133.4 L1812.5 133.4 L1813.5 133.4 L1814.5 133.4 L1815.5 133.4 L1816.5 133.4 L1817.5 133.4 L1818.5 133.4 L1819.4 133.4 L1819.5 133.4 L1820.5 133.3 L1821.5 133.0 L1822.5 132.6 L1823.5 132.1 L1824.5 131.7 L1825.5 131.3 L1826.0 131.2 L1826.5 131.1 L1827.5 130.9 L1828.5 130.6 L1829.5 130.4 L1830.5 130.3 L1831.5 130.1 L1832.5 129.9 L1833.5 129.8 L1834.5 129.6 L1834.8 129.6 L1835.5 129.5 L1836.5 129.4 L1837.5 129.3 L1838.5 129.2 L1839.5 129.1 L1840.5 129.1 L1841.5 129.0 L1842.5 128.9 L1843.5 128.8 L1843.6 128.8 L1844.5 128.7 L1845.5 128.7 L1846.5 128.6 L1847.5 128.5 L1848.5 128.5 L1849.5 128.4 L1850.5 128.3 L1851.5 128.2 L1852.5 128.1 L1853.5 128.0 L1854.5 127.9 L1854.6 127.9 L1855.5 127.7 L1856.5 127.5 L1857.5 127.1 L1858.5 126.7 L1859.5 126.3 L1860.5 126.0 L1861.2 125.7 L1861.5 125.6 L1862.5 125.1 L1863.5 124.7 L1864.5 124.3 L1865.5 124.1 L1865.6 124.1 L1866.5 124.3 L1867.5 124.9 L1868.5 125.6 L1869.5 126.3 L1870.5 126.7 L1871.1 126.8 L1871.5 126.8 L1872.5 126.5 L1873.5 126.1 L1874.5 125.5 L1875.5 125.0 L1876.5 124.6 L1876.6 124.6 L1877.5 124.3 L1878.5 124.0 L1879.5 123.8 L1880.5 123.5 L1881.5 123.3 L1882.5 123.1 L1883.2 123.0 L1883.5 122.9 L1884.5 122.8 L1885.5 122.7 L1886.5 122.6 L1887.5 122.5 L1888.5 122.4 L1889.5 122.3 L1890.5 122.1 L1891.5 122.0 L1892.0 121.9 L1892.5 121.8 L1893.5 121.5 L1894.5 121.1 L1895.5 120.6 L1896.5 120.2 L1897.5 119.9 L1898.5 119.7 L1898.6 119.7 L1899.5 119.6 L1900.5 119.5 L1901.5 119.5 L1902.5 119.4 L1903.6 119.4 L1904.6 119.3 L1905.6 119.2 L1906.6 119.2 L1907.4 119.1 L1907.6 119.1 L1908.6 118.9 L1909.6 118.7 L1910.6 118.5 L1911.6 118.3 L1912.6 118.1 L1913.6 118.0 L1914.0 118.0 L1914.6 118.0 L1915.6 118.1 L1916.6 118.2 L1917.6 118.3 L1918.6 118.5 L1919.6 118.6 L1920.6 118.6 L1920.6 118.6 L1921.6 118.5 L1922.6 118.2 L1923.6 117.8 L1924.6 117.3 L1925.6 116.8 L1926.6 116.5 L1927.2 116.4 L1927.6 116.4 L1928.6 116.2 L1929.6 116.1 L1930.6 116.1 L1931.6 116.0 L1932.6 115.9 L1933.6 115.9 L1934.6 115.8 L1935.6 115.8 L1936.0 115.8 L1936.6 115.8 L1937.6 115.8 L1938.6 115.9 L1939.6 115.9 L1940.6 116.0 L1941.6 116.0 L1942.6 116.0 L1942.6 116.0 L1943.6 116.0 L1944.6 115.9 L1945.6 115.8 L1946.6 115.7 L1947.6 115.5 L1948.6 115.4 L1949.2 115.3 L1949.6 115.2 L1950.6 115.1 L1951.6 114.9 L1952.6 114.8 L1953.6 114.7 L1953.6 114.7 L1954.6 117.8 L1955.3 119.7 L1955.6 117.7 L1956.4 105.9 L1956.6 104.3 L1957.6 97.4 L1958.0 96.6 L1958.6 108.7" fill="none" stroke="#ff0000" stroke-width="3.1" stroke-linejoin="round" stroke-linecap="round"/>
<path d="M1183.0 114.0 L1184.0 119.9 L1185.0 125.1 L1186.0 128.2 L1186.4 128.5 L1187.0 128.4 L1188.0 128.0 L1189.0 127.3 L1190.0 126.4 L1191.0 125.3 L1192.0 124.3 L1193.0 123.3 L1194.0 122.5 L1195.0 121.8 L1196.0 121.3 L1197.0 120.7 L1198.0 120.2 L1199.0 119.6 L1200.0 119.1 L1201.0 118.5 L1202.0 117.8 L1203.0 117.0 L1204.0 115.8 L1205.0 114.3 L1206.0 112.7 L1207.0 111.5 L1208.0 111.0 L1209.0 111.2 L1210.0 111.7 L1211.0 112.3 L1212.0 113.0 L1213.0 114.1 L1214.0 115.6 L1215.0 117.2 L1216.0 118.5 L1217.0 119.0 L1218.0 118.5 L1219.0 117.2 L1220.0 115.4 L1221.0 113.6 L1222.0 112.0 L1223.0 110.5 L1224.0 109.0 L1225.0 108.1 L1225.3 108.0 L1226.0 108.0 L1227.0 108.1 L1228.0 108.2 L1229.0 108.4 L1230.0 108.5 L1231.0 108.7 L1232.0 108.8 L1233.0 108.9 L1234.0 109.0 L1234.4 109.0 L1235.0 109.0 L1236.0 109.0 L1237.0 109.0 L1238.0 109.0 L1239.0 109.0 L1240.0 109.0 L1241.0 109.0 L1242.0 109.0 L1243.0 109.0 L1244.0 109.0 L1245.0 109.0 L1246.0 109.0 L1247.0 109.0 L1248.0 109.0 L1249.0 109.0 L1250.0 109.1 L1251.0 109.2 L1252.0 109.2 L1253.0 109.3 L1254.0 109.4 L1255.0 109.5 L1256.0 109.5 L1257.0 109.5 L1258.0 109.5 L1259.0 109.5 L1260.0 109.5 L1261.0 109.5 L1262.0 109.5 L1263.0 109.5 L1264.0 109.5 L1265.0 109.5 L1266.0 109.5 L1267.0 109.5 L1268.0 109.5 L1269.0 109.5 L1270.0 109.5 L1271.0 109.4 L1272.0 109.4 L1273.0 109.4 L1274.0 109.4 L1275.0 109.4 L1276.0 109.4 L1277.0 109.4 L1278.0 109.4 L1279.0 109.4 L1280.0 109.4 L1281.0 109.4 L1282.0 109.4 L1283.0 109.4 L1284.0 109.4 L1285.0 109.4 L1286.0 109.3 L1287.0 109.3 L1288.0 109.3 L1289.0 109.3 L1290.0 109.3 L1291.0 109.3 L1292.0 109.3 L1293.0 109.3 L1294.0 109.3 L1295.0 109.3 L1296.0 109.3 L1297.0 109.3 L1298.0 109.3 L1299.0 109.3 L1300.0 109.3 L1301.0 109.3 L1302.0 109.3 L1303.0 109.3 L1304.0 109.3 L1305.0 109.3 L1306.0 109.3 L1307.0 109.3 L1308.0 109.3 L1309.0 109.3 L1310.0 109.3 L1311.0 109.3 L1312.0 109.3 L1313.0 109.3 L1314.0 109.3 L1315.0 109.3 L1316.0 109.3 L1317.0 109.3 L1318.0 109.3 L1319.0 109.3 L1320.0 109.3 L1321.0 109.3 L1322.0 109.3 L1323.0 109.3 L1324.0 109.3 L1325.0 109.3 L1326.0 109.3 L1327.0 109.3 L1328.0 109.3 L1329.0 109.3 L1330.0 109.3 L1331.0 109.3 L1332.0 109.3 L1333.0 109.3 L1334.0 109.3 L1335.0 109.3 L1336.0 109.3 L1337.0 109.3 L1338.0 109.3 L1339.0 109.3 L1340.0 109.3 L1341.0 109.3 L1342.0 109.3 L1343.0 109.3 L1344.0 109.3 L1345.0 109.3 L1346.0 109.3 L1347.0 109.3 L1348.0 109.3 L1349.0 109.3 L1350.0 109.3 L1351.0 109.3 L1352.0 109.3 L1353.0 109.3 L1354.0 109.3 L1355.0 109.3 L1356.0 109.3 L1357.0 109.3 L1358.0 109.3 L1359.0 109.3 L1360.0 109.3 L1361.0 109.3 L1362.0 109.3 L1363.0 109.3 L1364.0 109.3 L1365.0 109.3 L1366.0 109.3 L1367.0 109.3 L1368.0 109.3 L1369.0 109.3 L1370.0 109.3 L1371.0 109.3 L1372.0 109.3 L1373.0 109.4 L1374.0 109.5 L1375.0 109.6 L1376.0 109.7 L1377.0 109.9 L1378.0 110.1 L1379.0 110.3 L1380.0 110.5 L1381.0 110.8 L1382.0 111.3 L1383.0 111.8 L1384.0 112.5 L1385.0 113.2 L1386.0 113.9 L1387.0 114.5 L1388.0 115.1 L1389.0 115.6 L1390.0 115.9 L1391.0 116.0 L1392.0 116.0 L1393.0 116.0 L1394.0 116.0 L1395.0 116.0 L1396.0 116.0 L1397.0 116.0 L1398.0 116.0 L1399.0 116.0 L1400.0 116.0 L1401.0 116.1 L1402.0 116.2 L1403.0 116.5 L1404.0 116.7 L1405.0 117.1 L1406.0 117.4 L1407.0 117.7 L1407.5 117.9 L1408.0 118.1 L1409.0 118.4 L1410.0 118.7 L1411.0 119.1 L1412.0 119.5 L1413.0 119.9 L1414.0 120.3 L1414.8 120.6 L1415.0 120.7 L1416.0 121.1 L1417.0 121.5 L1418.0 122.0 L1419.0 122.5 L1420.0 122.9 L1421.0 123.4 L1422.0 123.8 L1423.0 124.3 L1424.0 124.7 L1425.0 125.1 L1426.0 125.5 L1427.0 125.9 L1428.0 126.3 L1429.0 126.7 L1430.0 127.0 L1431.0 127.4 L1431.3 127.5 L1432.0 127.8 L1433.0 128.1 L1434.0 128.5 L1435.0 128.8 L1436.0 129.2 L1437.0 129.5 L1438.0 129.9 L1439.0 130.2 L1440.0 130.5 L1441.0 130.8 L1442.0 131.0 L1443.0 131.3 L1444.0 131.5 L1445.0 131.8 L1446.0 132.0 L1447.0 132.2 L1448.0 132.5 L1449.0 132.7 L1450.0 133.0 L1451.0 133.2 L1452.0 133.4 L1453.0 133.7 L1454.0 134.0 L1455.0 134.3 L1455.2 134.4 L1456.0 134.7 L1457.0 135.2 L1458.0 135.7 L1459.0 136.3 L1460.0 137.0 L1461.0 137.7 L1462.0 138.5 L1463.0 139.2 L1464.0 140.1 L1464.4 140.4 L1465.0 140.9 L1466.0 141.9 L1467.0 142.9 L1468.0 144.0 L1469.0 145.2 L1470.0 146.4 L1471.0 147.7 L1472.0 149.1 L1473.0 150.4 L1473.5 151.1 L1474.0 151.8 L1475.0 153.3 L1476.0 154.9 L1477.0 156.5 L1478.0 158.2 L1479.0 159.9 L1480.0 161.7 L1481.0 163.5 L1482.0 165.2 L1482.6 166.3 L1483.0 167.0 L1484.0 168.8 L1485.0 170.6 L1486.0 172.5 L1487.0 174.3 L1488.0 176.2 L1489.0 178.0 L1490.0 179.9 L1491.0 181.7 L1491.8 183.1 L1492.0 183.4 L1493.0 185.2 L1494.0 187.0 L1495.0 188.8 L1496.0 190.6 L1497.0 192.3 L1498.0 194.0 L1499.0 195.6 L1500.0 197.1 L1500.9 198.3 L1501.0 198.4 L1502.0 199.8 L1503.0 201.1 L1504.0 202.3 L1505.0 203.5 L1506.0 204.6 L1507.0 205.5 L1508.0 206.4 L1508.5 206.7 L1509.0 207.0 L1510.0 207.7 L1511.0 208.3 L1512.0 208.7 L1513.0 208.9 L1513.1 208.9 L1514.0 208.8 L1515.0 208.6 L1516.0 208.3 L1517.0 207.8 L1518.0 207.3 L1519.0 206.8 L1519.2 206.7 L1520.0 206.2 L1521.0 205.4 L1522.0 204.4 L1523.0 203.2 L1524.0 202.0 L1525.0 200.7 L1526.0 199.4 L1526.8 198.3 L1527.0 198.0 L1528.0 196.6 L1529.0 195.1 L1530.0 193.6 L1531.0 191.9 L1532.0 190.2 L1533.0 188.5 L1534.0 186.8 L1534.4 186.1 L1535.0 185.1 L1536.0 183.3 L1537.0 181.5 L1538.0 179.6 L1539.0 177.7 L1540.0 175.8 L1541.0 173.9 L1542.0 172.1 L1543.0 170.3 L1543.5 169.4 L1544.0 168.5 L1545.0 166.8 L1546.0 165.0 L1547.0 163.2 L1548.0 161.5 L1549.0 159.8 L1550.0 158.2 L1551.0 156.6 L1552.0 155.0 L1552.6 154.1 L1553.0 153.5 L1554.0 152.0 L1555.0 150.6 L1556.0 149.1 L1557.0 147.7 L1558.0 146.4 L1559.0 145.1 L1560.0 143.9 L1561.0 142.8 L1561.8 142.0 L1562.0 141.8 L1563.0 140.9 L1564.0 140.0 L1565.0 139.1 L1566.0 138.3 L1567.0 137.6 L1568.0 136.9 L1569.0 136.2 L1570.0 135.6 L1570.9 135.1 L1571.0 135.0 L1572.0 134.5 L1573.0 134.0 L1574.0 133.6 L1575.0 133.1 L1576.0 132.7 L1577.0 132.3 L1578.0 131.9 L1579.0 131.6 L1580.0 131.3 L1581.0 131.0 L1582.0 130.7 L1583.0 130.4 L1584.0 130.1 L1585.0 129.8 L1586.0 129.6 L1587.0 129.4 L1588.0 129.2 L1589.0 129.1 L1590.0 129.1 L1591.0 129.1 L1592.0 129.1 L1593.0 129.1 L1594.0 129.1 L1595.0 129.1 L1596.0 129.1 L1597.0 129.1 L1598.0 129.2 L1599.0 129.2 L1600.0 129.2 L1600.7 129.2 L1601.0 129.2 L1602.0 129.3 L1603.0 129.5 L1604.0 129.7 L1605.0 130.0 L1606.0 130.3 L1607.0 130.6 L1608.0 131.0 L1609.0 131.4 L1610.0 131.7 L1611.0 132.1 L1611.3 132.2 L1612.0 132.4 L1613.0 132.8 L1614.0 133.2 L1615.0 133.5 L1616.0 133.9 L1617.0 134.4 L1618.0 134.8 L1619.0 135.2 L1620.0 135.7 L1621.0 136.2 L1622.0 136.7 L1623.0 137.2 L1624.0 137.8 L1625.0 138.4 L1626.0 139.0 L1627.0 139.6 L1628.0 140.3 L1629.0 141.0 L1630.0 141.7 L1631.0 142.5 L1632.0 143.2 L1632.7 143.8 L1633.0 144.0 L1634.0 144.9 L1635.0 145.8 L1636.0 146.7 L1637.0 147.6 L1638.0 148.6 L1639.0 149.7 L1640.0 150.7 L1641.0 151.8 L1642.0 152.9 L1643.0 154.1 L1643.3 154.4 L1644.0 155.2 L1645.0 156.4 L1646.0 157.7 L1647.0 159.0 L1648.0 160.4 L1649.0 161.8 L1650.0 163.2 L1651.0 164.6 L1652.0 166.0 L1653.0 167.4 L1654.0 168.7 L1655.0 170.0 L1656.0 171.4 L1657.0 172.7 L1658.0 174.0 L1659.0 175.3 L1660.0 176.7 L1661.0 178.0 L1662.0 179.3 L1663.0 180.6 L1664.0 182.0 L1664.7 182.9 L1665.0 183.3 L1666.0 184.6 L1667.0 186.0 L1668.0 187.3 L1669.0 188.7 L1670.0 190.0 L1671.0 191.3 L1672.0 192.7 L1673.0 194.0 L1674.0 195.4 L1675.0 196.7 L1675.3 197.1 L1676.0 198.0 L1677.0 199.4 L1678.0 200.8 L1679.0 202.1 L1680.0 203.5 L1681.0 204.9 L1682.0 206.2 L1683.0 207.5 L1684.0 208.8 L1685.0 210.1 L1686.0 211.3 L1687.0 212.5 L1688.0 213.7 L1689.0 214.9 L1690.0 216.1 L1691.0 217.3 L1692.0 218.4 L1693.0 219.4 L1694.0 220.3 L1694.9 221.1 L1695.0 221.2 L1696.0 222.0 L1697.0 222.8 L1698.0 223.5 L1699.0 224.2 L1700.0 224.7 L1701.0 225.2 L1702.0 225.5 L1703.0 225.7 L1704.0 225.9 L1705.0 226.1 L1706.0 226.2 L1707.0 226.3 L1708.0 226.4 L1709.0 226.4 L1709.1 226.4 L1710.0 226.3 L1711.0 226.1 L1712.0 225.8 L1713.0 225.4 L1714.0 225.0 L1715.0 224.4 L1716.0 223.9 L1716.2 223.8 L1717.0 223.3 L1718.0 222.5 L1719.0 221.6 L1720.0 220.5 L1721.0 219.4 L1722.0 218.2 L1723.0 217.0 L1723.3 216.6 L1724.0 215.7 L1725.0 214.4 L1726.0 212.9 L1727.0 211.4 L1728.0 209.9 L1729.0 208.3 L1730.0 206.6 L1730.4 206.0 L1731.0 205.0 L1732.0 203.3 L1733.0 201.6 L1734.0 199.8 L1735.0 198.0 L1736.0 196.2 L1737.0 194.4 L1737.5 193.5 L1738.0 192.6 L1739.0 190.8 L1740.0 189.1 L1741.0 187.3 L1742.0 185.5 L1743.0 183.8 L1744.0 182.1 L1744.6 181.1 L1745.0 180.5 L1746.0 178.9 L1747.0 177.3 L1748.0 175.7 L1749.0 174.2 L1750.0 172.8 L1751.0 171.4 L1751.7 170.4 L1752.0 170.0 L1753.0 168.7 L1754.0 167.4 L1755.0 166.1 L1756.0 164.9 L1757.0 163.7 L1758.0 162.5 L1758.9 161.5 L1759.0 161.4 L1760.0 160.3 L1761.0 159.2 L1762.0 158.1 L1763.0 157.1 L1764.0 156.0 L1765.0 155.0 L1766.0 154.1 L1766.6 153.5 L1767.0 153.1 L1768.0 152.2 L1769.0 151.3 L1770.0 150.4 L1771.0 149.5 L1772.0 148.7 L1773.0 147.9 L1773.2 147.7 L1774.0 147.1 L1775.0 146.2 L1776.0 145.4 L1777.0 144.7 L1778.0 143.9 L1779.0 143.2 L1780.0 142.4 L1781.0 141.8 L1782.0 141.1 L1783.0 140.5 L1784.0 139.8 L1785.0 139.2 L1786.0 138.6 L1787.0 138.0 L1788.0 137.5 L1789.0 136.9 L1790.0 136.4 L1791.0 136.0 L1792.0 135.5 L1793.0 135.1 L1794.0 134.7 L1795.0 134.4 L1796.0 134.0 L1797.0 133.7 L1798.0 133.4 L1799.0 133.1 L1800.0 132.8 L1801.0 132.6 L1802.0 132.3 L1803.0 132.0 L1804.0 131.8 L1805.0 131.6 L1806.0 131.3 L1807.0 131.1 L1808.0 130.9 L1809.0 130.7 L1810.0 130.5 L1811.0 130.3 L1812.0 130.1 L1813.0 129.9 L1814.0 129.8 L1815.0 129.6 L1816.0 129.4 L1817.0 129.3 L1818.0 129.1 L1819.0 129.0 L1820.0 128.9 L1821.0 128.7 L1822.0 128.6 L1823.0 128.5 L1824.0 128.4 L1825.0 128.2 L1826.0 128.1 L1827.0 128.0 L1828.0 127.8 L1829.0 127.7 L1830.0 127.6 L1831.0 127.5 L1832.0 127.4 L1833.0 127.2 L1834.0 127.1 L1835.0 127.0 L1836.0 126.9 L1837.0 126.8 L1838.0 126.7 L1839.0 126.6 L1840.0 126.5 L1841.0 126.4 L1842.0 126.3 L1843.0 126.2 L1844.0 126.1 L1845.0 126.0 L1846.0 125.9 L1847.0 125.8 L1848.0 125.7 L1849.0 125.6 L1850.0 125.5 L1851.0 125.4 L1852.0 125.3 L1853.0 125.1 L1854.0 125.0 L1855.0 124.9 L1856.0 124.8 L1857.0 124.7 L1858.0 124.5 L1859.0 124.4 L1860.0 124.3 L1861.0 124.1 L1862.0 123.9 L1863.0 123.8 L1864.0 123.6 L1865.0 123.4 L1866.0 123.2 L1867.0 123.1 L1868.0 122.9 L1869.0 122.7 L1870.0 122.6 L1871.0 122.5 L1872.0 122.3 L1873.0 122.2 L1874.0 122.1 L1875.0 121.9 L1876.0 121.8 L1877.0 121.7 L1878.0 121.6 L1879.0 121.5 L1880.0 121.3 L1881.0 121.2 L1882.0 121.1 L1883.0 121.0 L1884.0 120.9 L1885.0 120.8 L1886.0 120.7 L1887.0 120.6 L1888.0 120.5 L1889.0 120.3 L1890.0 120.2 L1891.0 120.1 L1892.0 120.0 L1893.0 119.9 L1894.0 119.8 L1895.0 119.7 L1896.0 119.5 L1897.0 119.4 L1898.0 119.3 L1899.0 119.2 L1900.0 119.1 L1901.0 119.0 L1902.0 118.8 L1903.0 118.7 L1904.0 118.6 L1905.0 118.5 L1906.0 118.4 L1907.0 118.3 L1908.0 118.2 L1909.0 118.1 L1910.0 117.9 L1911.0 117.8 L1912.0 117.7 L1913.0 117.6 L1914.0 117.5 L1915.0 117.4 L1916.0 117.3 L1917.0 117.2 L1918.0 117.1 L1919.0 116.9 L1920.0 116.8 L1921.0 116.7 L1922.0 116.6 L1923.0 116.5 L1924.0 116.4 L1925.0 116.3 L1926.0 116.2 L1927.0 116.1 L1928.0 115.9 L1929.0 115.8 L1930.0 115.7 L1931.0 115.6 L1932.0 115.5 L1933.0 115.5 L1934.0 115.4 L1935.0 115.3 L1936.0 115.2 L1937.0 115.1 L1938.0 115.0 L1939.0 115.0 L1940.0 114.9 L1941.0 114.8 L1942.0 114.7 L1943.0 114.7 L1944.0 114.6 L1945.0 114.5 L1946.0 114.5 L1947.0 114.4 L1948.0 114.3 L1949.0 114.3 L1950.0 114.2 L1951.0 114.2 L1952.0 114.1 L1953.0 114.0 L1954.0 114.0 L1955.0 113.9 L1956.0 113.9 L1957.0 113.8 L1958.0 113.8" fill="none" stroke="#0000ff" stroke-width="3.1" stroke-linejoin="round" stroke-linecap="round"/>
<path d="M1183.0 115.0 L1184.0 121.5 L1185.0 126.2 L1186.0 128.0 L1187.0 126.9 L1188.0 124.3 L1189.0 121.4 L1190.0 119.5 L1190.2 119.3 L1191.0 118.8 L1192.0 118.3 L1193.0 117.9 L1194.0 117.6 L1195.0 117.3 L1196.0 117.0 L1197.0 116.8 L1198.0 116.6 L1199.0 116.4 L1200.0 116.2 L1201.0 115.9 L1201.7 115.5 L1202.0 114.3 L1203.0 105.3 L1203.2 104.8 L1204.0 104.8 L1205.0 105.0 L1206.0 105.3 L1207.0 105.6 L1208.0 106.4 L1209.0 107.7 L1210.0 109.0 L1211.0 110.3 L1212.0 111.8 L1213.0 113.3 L1214.0 114.8 L1215.0 116.2 L1216.0 117.2 L1217.0 117.9 L1217.7 118.0 L1218.0 117.8 L1219.0 115.5 L1220.0 112.1 L1220.7 110.1 L1221.0 109.4 L1222.0 106.9 L1223.0 105.6 L1224.0 105.6 L1225.0 105.7 L1226.0 105.9 L1227.0 106.0 L1228.0 106.0 L1229.0 106.0 L1230.0 106.0 L1231.0 105.9 L1232.0 105.9 L1233.0 105.9 L1234.0 105.8 L1234.4 105.8 L1235.0 105.8 L1236.0 105.7 L1237.0 105.6 L1238.0 105.5 L1239.0 105.4 L1240.0 105.3 L1241.0 105.2 L1242.0 105.1 L1243.0 105.1 L1244.0 105.0 L1245.0 105.0 L1246.0 105.0 L1247.0 105.0 L1248.0 105.1 L1249.0 105.2 L1250.0 105.3 L1251.0 105.4 L1252.0 105.5 L1253.0 105.8 L1254.0 106.3 L1255.0 106.8 L1256.0 107.0 L1257.0 107.0 L1258.0 107.0 L1259.0 107.1 L1260.0 107.1 L1261.0 107.1 L1262.0 107.1 L1263.0 107.1 L1264.0 107.1 L1265.0 107.2 L1266.0 107.2 L1267.0 107.2 L1268.0 107.2 L1269.0 107.2 L1270.0 107.2 L1271.0 107.2 L1272.0 107.2 L1273.0 107.2 L1274.0 107.2 L1275.0 107.2 L1276.0 107.2 L1277.0 107.2 L1278.0 107.2 L1279.0 107.2 L1280.0 107.2 L1281.0 107.2 L1282.0 107.2 L1283.0 107.2 L1284.0 107.2 L1285.0 107.2 L1286.0 107.2 L1287.0 107.2 L1288.0 107.2 L1289.0 107.2 L1290.0 107.2 L1291.0 107.2 L1292.0 107.2 L1293.0 107.2 L1294.0 107.2 L1295.0 107.2 L1296.0 107.2 L1297.0 107.2 L1298.0 107.2 L1299.0 107.2 L1300.0 107.2 L1301.0 107.2 L1302.0 107.2 L1303.0 107.2 L1304.0 107.2 L1305.0 107.2 L1306.0 107.2 L1307.0 107.2 L1308.0 107.2 L1309.0 107.2 L1310.0 107.2 L1311.0 107.2 L1312.0 107.2 L1313.0 107.2 L1314.0 107.1 L1315.0 107.1 L1316.0 107.1 L1317.0 107.1 L1318.0 107.1 L1319.0 107.1 L1320.0 107.1 L1321.0 107.1 L1322.0 107.1 L1323.0 107.1 L1324.0 107.1 L1325.0 107.1 L1326.0 107.1 L1327.0 107.0 L1328.0 107.0 L1329.0 107.0 L1330.0 107.0 L1331.0 107.0 L1332.0 107.0 L1333.0 107.0 L1334.0 107.0 L1335.0 107.0 L1336.0 107.0 L1337.0 107.0 L1338.0 107.0 L1339.0 107.0 L1340.0 107.0 L1341.0 107.0 L1342.0 107.0 L1343.0 107.0 L1344.0 107.0 L1345.0 107.0 L1346.0 107.0 L1347.0 107.0 L1348.0 107.0 L1349.0 107.0 L1350.0 107.0 L1351.0 107.0 L1352.0 107.0 L1353.0 107.0 L1354.0 107.0 L1355.0 107.0 L1356.0 107.0 L1357.0 107.0 L1358.0 107.0 L1359.0 107.0 L1360.0 107.0 L1361.0 107.0 L1362.0 107.0 L1363.0 107.0 L1364.0 107.0 L1365.0 107.0 L1366.0 107.0 L1367.0 107.0 L1368.0 107.0 L1369.0 107.0 L1370.0 107.0 L1371.0 107.0 L1372.0 107.0 L1373.0 107.1 L1374.0 107.2 L1375.0 107.3 L1376.0 107.4 L1376.5 107.4 L1377.0 107.4 L1378.0 107.4 L1379.0 107.3 L1380.0 107.2 L1381.0 107.1 L1382.0 107.0 L1383.0 106.9 L1384.0 106.8 L1385.0 106.7 L1386.0 106.7 L1387.0 106.6 L1388.0 106.6 L1389.0 106.6 L1390.0 106.5 L1391.0 106.5 L1392.0 106.5 L1393.0 106.4 L1394.0 106.4 L1395.0 106.4 L1396.0 106.3 L1397.0 106.3 L1398.0 106.2 L1399.0 106.1 L1400.0 106.0 L1400.2 106.0 L1401.0 105.8 L1402.0 105.3 L1403.0 104.8 L1404.0 104.3 L1404.8 104.2 L1405.0 104.2 L1406.0 104.5 L1406.2 104.6 L1407.0 107.6 L1408.0 112.0 L1409.0 112.9 L1410.0 113.7 L1411.0 114.2 L1412.0 114.6 L1413.0 114.9 L1414.0 115.2 L1414.8 115.5 L1415.0 115.6 L1416.0 115.9 L1417.0 116.2 L1418.0 116.5 L1419.0 116.7 L1420.0 116.9 L1421.0 117.2 L1422.0 117.4 L1423.0 117.7 L1424.0 117.9 L1425.0 118.2 L1425.8 118.5 L1426.0 118.6 L1427.0 119.0 L1428.0 119.4 L1429.0 119.9 L1430.0 120.4 L1431.0 120.9 L1432.0 121.4 L1433.0 122.0 L1434.0 122.5 L1435.0 123.0 L1436.0 123.5 L1437.0 123.9 L1438.0 124.4 L1439.0 124.9 L1440.0 125.3 L1441.0 125.8 L1442.0 126.3 L1442.3 126.5 L1443.0 126.9 L1444.0 127.5 L1445.0 128.1 L1446.0 128.8 L1447.0 129.4 L1448.0 130.1 L1449.0 130.8 L1450.0 131.5 L1451.0 132.2 L1452.0 132.9 L1453.0 133.6 L1454.0 134.3 L1455.0 135.1 L1456.0 135.9 L1457.0 136.7 L1458.0 137.5 L1459.0 138.4 L1460.0 139.2 L1461.0 140.1 L1462.0 141.1 L1463.0 142.1 L1464.0 143.2 L1465.0 144.3 L1465.9 145.5 L1466.0 145.6 L1467.0 147.1 L1468.0 148.9 L1469.0 150.8 L1470.0 152.9 L1471.0 155.0 L1472.0 157.2 L1473.0 159.4 L1473.5 160.5 L1474.0 161.6 L1475.0 163.8 L1476.0 166.0 L1477.0 168.3 L1478.0 170.7 L1479.0 173.1 L1480.0 175.6 L1481.0 178.2 L1481.1 178.5 L1482.0 181.0 L1483.0 183.8 L1484.0 186.8 L1485.0 189.8 L1486.0 193.0 L1487.0 196.2 L1487.2 196.8 L1488.0 199.5 L1489.0 203.0 L1490.0 206.6 L1491.0 210.2 L1492.0 213.7 L1493.0 217.0 L1493.5 218.5 L1494.0 219.9 L1495.0 222.7 L1496.0 225.3 L1497.0 227.9 L1498.0 230.3 L1499.0 232.7 L1500.0 235.1 L1500.7 236.7 L1501.0 237.4 L1502.0 239.9 L1503.0 242.4 L1504.0 244.8 L1505.0 247.1 L1506.0 249.2 L1507.0 251.1 L1507.7 252.1 L1508.0 252.5 L1509.0 253.9 L1510.0 255.2 L1511.0 256.3 L1512.0 256.9 L1512.7 257.1 L1513.0 257.1 L1514.0 256.6 L1515.0 255.8 L1516.0 254.7 L1517.0 253.4 L1518.0 252.1 L1519.0 250.7 L1520.0 248.9 L1521.0 246.9 L1522.0 244.8 L1523.0 242.6 L1524.0 240.4 L1524.4 239.5 L1525.0 238.2 L1526.0 236.0 L1527.0 233.6 L1528.0 231.2 L1529.0 228.8 L1530.0 226.5 L1531.0 224.1 L1531.5 223.0 L1532.0 221.9 L1533.0 219.8 L1534.0 217.5 L1534.4 216.6 L1535.0 215.1 L1536.0 212.5 L1537.0 209.7 L1538.0 206.9 L1539.0 204.0 L1540.0 201.2 L1540.5 199.8 L1541.0 198.4 L1542.0 195.6 L1543.0 192.8 L1544.0 190.0 L1545.0 187.2 L1546.0 184.6 L1546.6 183.1 L1547.0 182.1 L1548.0 179.7 L1549.0 177.4 L1550.0 175.1 L1551.0 172.9 L1552.0 170.8 L1553.0 168.7 L1554.0 166.7 L1554.2 166.3 L1555.0 164.7 L1556.0 162.7 L1557.0 160.8 L1558.0 158.9 L1559.0 157.1 L1560.0 155.4 L1561.0 153.8 L1561.8 152.6 L1562.0 152.3 L1563.0 150.9 L1564.0 149.6 L1565.0 148.3 L1566.0 147.0 L1567.0 145.9 L1568.0 144.8 L1569.0 143.9 L1569.4 143.5 L1570.0 143.0 L1571.0 142.1 L1572.0 141.3 L1573.0 140.6 L1574.0 139.9 L1575.0 139.3 L1576.0 138.7 L1577.0 138.2 L1578.0 137.7 L1579.0 137.3 L1580.0 136.8 L1581.0 136.4 L1582.0 136.0 L1583.0 135.7 L1584.0 135.4 L1585.0 135.2 L1586.0 135.1 L1586.1 135.1 L1587.0 135.0 L1588.0 135.0 L1589.0 134.9 L1590.0 134.9 L1591.0 134.9 L1592.0 134.8 L1593.0 134.8 L1594.0 134.8 L1595.0 134.8 L1596.0 134.9 L1597.0 135.0 L1598.0 135.2 L1599.0 135.4 L1600.0 135.7 L1600.7 135.8 L1601.0 135.9 L1602.0 136.1 L1603.0 136.3 L1604.0 136.5 L1605.0 136.7 L1606.0 136.9 L1607.0 137.2 L1608.0 137.4 L1609.0 137.7 L1610.0 138.0 L1611.0 138.3 L1611.3 138.4 L1612.0 138.6 L1613.0 139.0 L1614.0 139.4 L1615.0 139.9 L1616.0 140.4 L1617.0 140.9 L1618.0 141.5 L1619.0 142.0 L1620.0 142.6 L1621.0 143.2 L1622.0 143.8 L1623.0 144.4 L1624.0 145.1 L1625.0 145.8 L1626.0 146.5 L1627.0 147.2 L1628.0 148.0 L1629.0 148.8 L1630.0 149.6 L1631.0 150.4 L1632.0 151.2 L1632.7 151.8 L1633.0 152.0 L1634.0 152.9 L1635.0 153.7 L1636.0 154.6 L1637.0 155.5 L1638.0 156.4 L1639.0 157.3 L1640.0 158.2 L1641.0 159.2 L1642.0 160.2 L1643.0 161.2 L1643.3 161.5 L1644.0 162.2 L1645.0 163.3 L1646.0 164.5 L1647.0 165.6 L1648.0 166.8 L1649.0 168.1 L1650.0 169.3 L1651.0 170.5 L1652.0 171.7 L1653.0 172.9 L1654.0 174.0 L1655.0 175.1 L1656.0 176.2 L1657.0 177.3 L1658.0 178.3 L1659.0 179.4 L1660.0 180.5 L1661.0 181.5 L1662.0 182.6 L1663.0 183.6 L1664.0 184.7 L1664.7 185.5 L1665.0 185.8 L1666.0 186.9 L1667.0 188.0 L1668.0 189.2 L1669.0 190.3 L1670.0 191.4 L1671.0 192.5 L1672.0 193.7 L1673.0 194.8 L1674.0 196.0 L1675.0 197.2 L1675.3 197.5 L1676.0 198.3 L1677.0 199.5 L1678.0 200.8 L1679.0 202.0 L1680.0 203.2 L1681.0 204.5 L1682.0 205.7 L1683.0 206.9 L1684.0 208.1 L1685.0 209.3 L1686.0 210.4 L1687.0 211.5 L1688.0 212.6 L1689.0 213.8 L1690.0 214.9 L1691.0 216.0 L1692.0 217.0 L1693.0 217.9 L1694.0 218.7 L1694.9 219.3 L1695.0 219.4 L1696.0 220.0 L1697.0 220.6 L1698.0 221.2 L1699.0 221.7 L1700.0 222.1 L1701.0 222.4 L1702.0 222.5 L1703.0 222.5 L1704.0 222.3 L1705.0 222.1 L1706.0 221.8 L1707.0 221.5 L1708.0 221.2 L1708.2 221.1 L1709.0 220.7 L1710.0 219.9 L1711.0 219.0 L1712.0 217.8 L1713.0 216.6 L1714.0 215.4 L1714.4 214.9 L1715.0 214.2 L1716.0 212.8 L1717.0 211.4 L1718.0 209.8 L1719.0 208.3 L1720.0 206.6 L1721.0 205.0 L1721.5 204.2 L1722.0 203.4 L1723.0 201.7 L1724.0 200.0 L1725.0 198.2 L1726.0 196.4 L1727.0 194.6 L1728.0 192.9 L1728.6 191.8 L1729.0 191.1 L1730.0 189.4 L1731.0 187.6 L1732.0 185.9 L1733.0 184.2 L1734.0 182.4 L1735.0 180.7 L1735.8 179.3 L1736.0 179.0 L1737.0 177.2 L1738.0 175.3 L1739.0 173.5 L1740.0 171.7 L1741.0 169.9 L1742.0 168.3 L1742.9 166.9 L1743.0 166.8 L1744.0 165.3 L1745.0 164.0 L1746.0 162.6 L1747.0 161.4 L1748.0 160.2 L1749.0 159.1 L1750.0 158.0 L1751.0 157.0 L1752.0 156.0 L1753.0 155.1 L1754.0 154.2 L1755.0 153.3 L1756.0 152.5 L1757.0 151.7 L1758.0 151.0 L1758.9 150.3 L1759.0 150.2 L1760.0 149.5 L1761.0 148.9 L1762.0 148.3 L1763.0 147.7 L1764.0 147.1 L1765.0 146.5 L1766.0 146.0 L1767.0 145.4 L1767.7 145.0 L1768.0 144.8 L1769.0 144.3 L1770.0 143.7 L1771.0 143.1 L1772.0 142.6 L1773.0 142.0 L1774.0 141.5 L1775.0 141.0 L1776.0 140.5 L1777.0 140.0 L1778.0 139.5 L1779.0 139.0 L1780.0 138.5 L1781.0 138.1 L1782.0 137.6 L1783.0 137.1 L1784.0 136.7 L1785.0 136.2 L1786.0 135.7 L1787.0 135.3 L1788.0 134.8 L1789.0 134.4 L1790.0 134.0 L1791.0 133.6 L1792.0 133.2 L1793.0 132.9 L1794.0 132.6 L1795.0 132.3 L1796.0 132.0 L1797.0 131.7 L1798.0 131.4 L1799.0 131.2 L1800.0 130.9 L1801.0 130.7 L1802.0 130.5 L1803.0 130.3 L1804.0 130.1 L1805.0 129.9 L1806.0 129.7 L1807.0 129.6 L1808.0 129.4 L1809.0 129.3 L1810.0 129.1 L1811.0 129.0 L1812.0 128.9 L1813.0 128.7 L1814.0 128.6 L1815.0 128.5 L1816.0 128.4 L1817.0 128.3 L1818.0 128.2 L1819.0 128.1 L1820.0 128.0 L1821.0 127.9 L1822.0 127.8 L1823.0 127.7 L1824.0 127.6 L1825.0 127.5 L1826.0 127.4 L1827.0 127.3 L1828.0 127.2 L1829.0 127.1 L1830.0 127.0 L1831.0 126.9 L1832.0 126.8 L1833.0 126.7 L1834.0 126.6 L1835.0 126.5 L1836.0 126.4 L1837.0 126.3 L1838.0 126.2 L1839.0 126.1 L1840.0 126.1 L1841.0 126.0 L1842.0 125.9 L1843.0 125.9 L1844.0 125.8 L1845.0 125.7 L1846.0 125.7 L1847.0 125.6 L1848.0 125.5 L1849.0 125.4 L1850.0 125.3 L1851.0 125.2 L1852.0 125.1 L1853.0 124.9 L1854.0 124.8 L1855.0 124.7 L1856.0 124.5 L1857.0 124.4 L1858.0 124.2 L1859.0 124.1 L1860.0 124.0 L1861.0 123.8 L1862.0 123.6 L1863.0 123.5 L1864.0 123.3 L1865.0 123.1 L1866.0 123.0 L1867.0 122.8 L1868.0 122.7 L1869.0 122.5 L1870.0 122.4 L1871.0 122.3 L1872.0 122.2 L1873.0 122.1 L1874.0 122.0 L1875.0 121.9 L1876.0 121.8 L1877.0 121.7 L1878.0 121.6 L1879.0 121.5 L1880.0 121.4 L1881.0 121.3 L1882.0 121.2 L1883.0 121.1 L1884.0 121.0 L1885.0 120.9 L1886.0 120.8 L1887.0 120.7 L1888.0 120.6 L1889.0 120.5 L1890.0 120.4 L1891.0 120.3 L1892.0 120.1 L1893.0 120.0 L1894.0 119.9 L1895.0 119.8 L1896.0 119.7 L1897.0 119.6 L1898.0 119.5 L1899.0 119.4 L1900.0 119.3 L1901.0 119.2 L1902.0 119.1 L1903.0 119.0 L1904.0 118.9 L1905.0 118.8 L1906.0 118.7 L1907.0 118.6 L1908.0 118.5 L1909.0 118.4 L1910.0 118.4 L1911.0 118.3 L1912.0 118.2 L1913.0 118.1 L1914.0 118.0 L1915.0 117.9 L1916.0 117.8 L1917.0 117.7 L1918.0 117.6 L1919.0 117.5 L1920.0 117.4 L1921.0 117.3 L1922.0 117.2 L1923.0 117.1 L1924.0 117.0 L1925.0 116.9 L1926.0 116.8 L1927.0 116.7 L1928.0 116.7 L1929.0 116.6 L1930.0 116.5 L1931.0 116.3 L1932.0 116.0 L1932.4 115.8 L1932.7 105.9 L1933.0 105.9 L1934.0 105.9 L1935.0 105.9 L1936.0 105.9 L1937.0 105.9 L1938.0 105.9 L1939.0 105.9 L1940.0 105.9 L1941.0 105.9 L1942.0 105.9 L1943.0 105.9 L1944.0 105.9 L1945.0 105.9 L1946.0 105.9 L1947.0 105.9 L1948.0 105.9 L1949.0 105.9 L1950.0 105.9 L1951.0 105.9 L1952.0 105.9 L1952.5 105.9 L1953.0 107.1 L1953.6 108.7 L1954.0 108.8 L1955.0 109.1 L1956.0 109.3 L1957.0 109.4 L1958.0 109.5 L1959.0 109.5" fill="none" stroke="#ff00ff" stroke-width="3.1" stroke-linejoin="round" stroke-linecap="round"/>
<path d="M1183.0 114.0 L1184.0 121.6 L1185.0 125.9 L1186.0 127.8 L1186.5 128.0 L1187.0 127.0 L1187.6 124.6 L1188.0 122.6 L1189.0 115.3 L1190.0 109.0 L1190.5 108.0 L1191.0 108.0 L1192.0 108.1 L1193.0 108.3 L1194.0 108.6 L1195.0 108.8 L1196.0 109.1 L1197.0 109.3 L1197.8 109.4 L1198.0 109.4 L1199.0 109.5 L1200.0 109.7 L1201.0 109.8 L1202.0 109.9 L1203.0 109.9 L1204.0 110.0 L1205.0 110.0 L1206.0 109.9 L1207.0 109.5 L1208.0 109.1 L1209.0 108.7 L1210.0 108.3 L1211.0 108.0 L1211.5 108.0 L1212.0 108.2 L1213.0 109.4 L1214.0 111.4 L1215.0 113.6 L1216.0 115.6 L1217.0 116.8 L1217.5 117.0 L1218.0 116.9 L1219.0 116.1 L1220.0 114.8 L1221.0 113.4 L1222.0 112.0 L1223.0 110.4 L1224.0 108.7 L1225.0 107.6 L1225.3 107.5 L1226.0 107.6 L1227.0 107.8 L1228.0 108.2 L1229.0 108.7 L1230.0 109.2 L1231.0 109.7 L1232.0 110.0 L1233.0 110.2 L1234.0 110.4 L1235.0 110.6 L1236.0 110.8 L1237.0 111.0 L1238.0 111.1 L1239.0 111.2 L1240.0 111.3 L1240.5 111.3 L1241.0 111.3 L1242.0 111.2 L1243.0 111.1 L1244.0 110.9 L1245.0 110.7 L1246.0 110.5 L1247.0 110.2 L1248.0 110.0 L1249.0 109.8 L1250.0 109.6 L1251.0 109.5 L1252.0 109.5 L1253.0 109.5 L1254.0 109.5 L1255.0 109.5 L1256.0 109.5 L1257.0 109.5 L1258.0 109.5 L1259.0 109.5 L1260.0 109.5 L1261.0 109.5 L1262.0 109.5 L1263.0 109.5 L1264.0 109.5 L1265.0 109.5 L1266.0 109.5 L1267.0 109.5 L1268.0 109.5 L1269.0 109.5 L1270.0 109.5 L1271.0 109.5 L1272.0 109.5 L1273.0 109.5 L1274.0 109.5 L1275.0 109.5 L1276.0 109.5 L1277.0 109.5 L1278.0 109.5 L1279.0 109.5 L1280.0 109.5 L1281.0 109.5 L1282.0 109.5 L1283.0 109.5 L1284.0 109.5 L1285.0 109.5 L1286.0 109.5 L1287.0 109.5 L1288.0 109.5 L1289.0 109.5 L1290.0 109.5 L1291.0 109.5 L1292.0 109.5 L1293.0 109.5 L1294.0 109.5 L1295.0 109.5 L1296.0 109.5 L1297.0 109.5 L1298.0 109.5 L1299.0 109.5 L1300.0 109.5 L1301.0 109.5 L1302.0 109.5 L1303.0 109.5 L1304.0 109.5 L1305.0 109.5 L1306.0 109.5 L1307.0 109.5 L1308.0 109.5 L1309.0 109.5 L1310.0 109.5 L1311.0 109.5 L1312.0 109.5 L1313.0 109.5 L1314.0 109.5 L1315.0 109.5 L1316.0 109.5 L1317.0 109.5 L1318.0 109.5 L1319.0 109.5 L1320.0 109.5 L1321.0 109.5 L1322.0 109.5 L1323.0 109.5 L1324.0 109.4 L1325.0 109.4 L1326.0 109.4 L1327.0 109.4 L1328.0 109.4 L1329.0 109.4 L1330.0 109.4 L1331.0 109.4 L1332.0 109.4 L1333.0 109.4 L1334.0 109.4 L1335.0 109.4 L1336.0 109.4 L1337.0 109.4 L1338.0 109.4 L1339.0 109.4 L1340.0 109.4 L1341.0 109.4 L1342.0 109.4 L1343.0 109.4 L1344.0 109.4 L1345.0 109.4 L1346.0 109.4 L1347.0 109.4 L1348.0 109.3 L1349.0 109.3 L1350.0 109.3 L1351.0 109.3 L1352.0 109.3 L1353.0 109.3 L1354.0 109.3 L1355.0 109.3 L1356.0 109.3 L1357.0 109.3 L1358.0 109.3 L1359.0 109.3 L1360.0 109.3 L1361.0 109.3 L1362.0 109.3 L1363.0 109.3 L1364.0 109.3 L1365.0 109.3 L1366.0 109.3 L1367.0 109.3 L1368.0 109.3 L1369.0 109.3 L1370.0 109.3 L1371.0 109.3 L1372.0 109.3 L1373.0 109.4 L1374.0 109.4 L1375.0 109.5 L1376.0 109.6 L1377.0 109.7 L1378.0 109.8 L1379.0 110.0 L1380.0 110.1 L1381.0 110.2 L1382.0 110.3 L1383.0 110.5 L1384.0 110.6 L1385.0 110.7 L1386.0 110.8 L1387.0 110.9 L1388.0 110.9 L1389.0 111.0 L1390.0 111.0 L1391.0 111.0 L1392.0 111.0 L1393.0 111.0 L1394.0 111.0 L1395.0 111.0 L1396.0 111.0 L1397.0 111.0 L1398.0 111.0 L1399.0 111.0 L1400.0 111.0 L1401.0 111.1 L1402.0 111.2 L1403.0 111.5 L1404.0 111.8 L1405.0 112.1 L1406.0 112.4 L1407.0 112.7 L1408.0 113.0 L1409.0 113.2 L1409.4 113.3 L1410.0 113.4 L1411.0 113.5 L1412.0 113.6 L1413.0 113.7 L1414.0 113.7 L1415.0 113.8 L1416.0 113.9 L1417.0 114.0 L1418.0 114.1 L1418.5 114.2 L1419.0 114.3 L1420.0 114.6 L1421.0 114.9 L1422.0 115.3 L1423.0 115.7 L1424.0 116.2 L1425.0 116.7 L1425.8 117.0 L1426.0 117.1 L1427.0 117.5 L1428.0 117.9 L1429.0 118.4 L1430.0 118.8 L1431.0 119.3 L1432.0 119.7 L1433.0 120.2 L1434.0 120.7 L1435.0 121.1 L1436.0 121.5 L1437.0 121.9 L1438.0 122.3 L1439.0 122.7 L1440.0 123.2 L1441.0 123.6 L1442.0 124.1 L1442.3 124.3 L1443.0 124.7 L1444.0 125.4 L1445.0 126.1 L1446.0 126.9 L1447.0 127.7 L1448.0 128.5 L1449.0 129.4 L1449.1 129.5 L1450.0 130.3 L1451.0 131.2 L1452.0 132.1 L1453.0 133.1 L1454.0 134.1 L1455.0 135.1 L1456.0 136.2 L1457.0 137.3 L1458.0 138.5 L1458.3 138.9 L1459.0 139.8 L1460.0 141.2 L1461.0 142.6 L1462.0 144.2 L1463.0 145.8 L1464.0 147.5 L1465.0 149.4 L1465.9 151.1 L1466.0 151.3 L1467.0 153.4 L1468.0 155.8 L1469.0 158.3 L1470.0 160.9 L1471.0 163.6 L1472.0 166.3 L1473.0 169.1 L1474.0 171.9 L1475.0 174.8 L1476.0 177.8 L1477.0 181.0 L1478.0 184.3 L1478.1 184.6 L1479.0 187.7 L1480.0 191.3 L1481.0 195.1 L1482.0 199.0 L1483.0 203.0 L1484.0 207.0 L1484.1 207.4 L1485.0 211.1 L1486.0 215.4 L1487.0 219.8 L1488.0 224.0 L1488.5 226.0 L1489.0 227.9 L1490.0 231.7 L1491.0 235.4 L1492.0 239.0 L1493.0 242.6 L1493.7 245.1 L1494.0 246.2 L1495.0 249.9 L1496.0 253.6 L1497.0 257.2 L1498.0 260.9 L1499.0 264.4 L1500.0 267.9 L1500.7 270.2 L1501.0 271.2 L1502.0 274.6 L1503.0 278.0 L1504.0 281.3 L1505.0 284.5 L1506.0 287.4 L1507.0 289.8 L1507.7 291.2 L1508.0 291.7 L1509.0 293.6 L1510.0 295.3 L1511.0 296.9 L1512.0 298.2 L1513.0 299.1 L1514.0 299.5 L1514.1 299.5 L1515.0 299.3 L1516.0 298.6 L1517.0 297.6 L1518.0 296.4 L1518.8 295.4 L1519.0 295.1 L1520.0 293.3 L1521.0 290.8 L1522.0 287.9 L1523.0 284.7 L1524.0 281.4 L1525.0 278.2 L1525.8 275.8 L1526.0 275.2 L1527.0 272.3 L1528.0 269.3 L1529.0 266.4 L1530.0 263.3 L1531.0 260.3 L1532.0 257.3 L1533.0 254.3 L1534.0 251.3 L1534.2 250.7 L1535.0 248.3 L1536.0 245.2 L1537.0 242.1 L1538.0 239.0 L1539.0 235.9 L1540.0 232.9 L1541.0 230.0 L1542.0 227.3 L1542.5 226.0 L1543.0 224.8 L1544.0 222.5 L1545.0 220.3 L1546.0 218.1 L1546.6 216.6 L1547.0 215.5 L1548.0 212.7 L1549.0 209.6 L1550.0 206.4 L1551.0 203.2 L1552.0 200.1 L1552.6 198.3 L1553.0 197.1 L1554.0 194.3 L1555.0 191.5 L1556.0 188.7 L1557.0 186.0 L1558.0 183.3 L1558.7 181.5 L1559.0 180.7 L1560.0 178.1 L1561.0 175.5 L1562.0 172.9 L1563.0 170.4 L1564.0 168.1 L1564.8 166.3 L1565.0 165.9 L1566.0 163.8 L1567.0 161.8 L1568.0 159.9 L1569.0 158.1 L1570.0 156.4 L1570.9 154.9 L1571.0 154.7 L1572.0 153.2 L1573.0 151.7 L1574.0 150.2 L1575.0 148.8 L1576.0 147.6 L1577.0 146.5 L1578.0 145.5 L1579.0 144.5 L1580.0 143.6 L1581.0 142.8 L1582.0 142.0 L1583.0 141.3 L1584.0 140.7 L1584.6 140.4 L1585.0 140.2 L1586.0 139.7 L1587.0 139.3 L1588.0 138.9 L1589.0 138.5 L1590.0 138.2 L1591.0 137.9 L1592.0 137.6 L1592.2 137.6 L1593.0 137.4 L1594.0 137.3 L1595.0 137.1 L1596.0 136.9 L1597.0 136.8 L1598.0 136.6 L1599.0 136.6 L1600.0 136.5 L1600.7 136.5 L1601.0 136.5 L1602.0 136.5 L1603.0 136.6 L1604.0 136.6 L1605.0 136.7 L1606.0 136.8 L1607.0 137.0 L1608.0 137.1 L1609.0 137.2 L1610.0 137.4 L1611.0 137.6 L1611.3 137.6 L1612.0 137.7 L1613.0 137.9 L1614.0 138.2 L1615.0 138.5 L1616.0 138.8 L1617.0 139.1 L1618.0 139.5 L1619.0 139.9 L1620.0 140.3 L1621.0 140.7 L1622.0 141.1 L1623.0 141.5 L1624.0 142.0 L1625.0 142.5 L1626.0 143.1 L1627.0 143.6 L1628.0 144.2 L1629.0 144.9 L1630.0 145.5 L1631.0 146.2 L1632.0 146.8 L1632.7 147.3 L1633.0 147.5 L1634.0 148.2 L1635.0 149.0 L1636.0 149.8 L1637.0 150.7 L1638.0 151.6 L1639.0 152.4 L1640.0 153.3 L1641.0 154.2 L1642.0 155.1 L1643.0 155.9 L1643.3 156.2 L1644.0 156.8 L1645.0 157.6 L1646.0 158.5 L1647.0 159.3 L1648.0 160.1 L1649.0 160.9 L1650.0 161.8 L1651.0 162.6 L1652.0 163.4 L1653.0 164.3 L1654.0 165.1 L1655.0 165.9 L1656.0 166.8 L1657.0 167.6 L1658.0 168.4 L1659.0 169.3 L1660.0 170.1 L1661.0 170.9 L1662.0 171.7 L1663.0 172.6 L1664.0 173.4 L1664.7 174.0 L1665.0 174.3 L1666.0 175.1 L1667.0 175.9 L1668.0 176.8 L1669.0 177.7 L1670.0 178.5 L1671.0 179.4 L1672.0 180.2 L1673.0 181.0 L1674.0 181.9 L1675.0 182.7 L1675.3 182.9 L1676.0 183.5 L1677.0 184.2 L1678.0 185.0 L1679.0 185.8 L1680.0 186.6 L1681.0 187.3 L1682.0 188.1 L1683.0 188.8 L1684.0 189.5 L1685.0 190.2 L1686.0 190.9 L1687.0 191.6 L1688.0 192.3 L1689.0 193.0 L1690.0 193.7 L1691.0 194.3 L1692.0 194.9 L1693.0 195.4 L1694.0 195.9 L1694.9 196.2 L1695.0 196.2 L1696.0 196.5 L1697.0 196.8 L1698.0 197.1 L1699.0 197.3 L1700.0 197.4 L1701.0 197.6 L1702.0 197.6 L1703.0 197.6 L1704.0 197.5 L1705.0 197.3 L1706.0 197.1 L1707.0 196.8 L1708.0 196.5 L1709.0 196.2 L1709.1 196.2 L1710.0 195.9 L1711.0 195.4 L1712.0 194.8 L1713.0 194.2 L1714.0 193.5 L1715.0 192.7 L1716.0 192.0 L1716.2 191.8 L1717.0 191.2 L1718.0 190.3 L1719.0 189.3 L1720.0 188.3 L1721.0 187.2 L1722.0 186.1 L1723.0 185.0 L1723.3 184.7 L1724.0 183.9 L1725.0 182.7 L1726.0 181.5 L1727.0 180.2 L1728.0 178.9 L1729.0 177.6 L1730.0 176.3 L1730.4 175.8 L1731.0 175.0 L1732.0 173.8 L1733.0 172.5 L1734.0 171.2 L1735.0 170.0 L1736.0 168.7 L1737.0 167.5 L1737.5 166.9 L1738.0 166.3 L1739.0 165.1 L1740.0 163.9 L1741.0 162.7 L1742.0 161.6 L1743.0 160.5 L1744.0 159.5 L1744.6 158.9 L1745.0 158.5 L1746.0 157.6 L1747.0 156.8 L1748.0 155.9 L1749.0 155.1 L1750.0 154.4 L1751.0 153.6 L1752.0 152.9 L1753.0 152.2 L1753.5 151.8 L1754.0 151.4 L1755.0 150.8 L1756.0 150.1 L1757.0 149.5 L1758.0 148.9 L1759.0 148.2 L1760.0 147.5 L1761.0 146.7 L1762.0 145.9 L1763.0 145.1 L1764.0 144.3 L1765.0 143.4 L1766.0 142.6 L1766.6 142.2 L1767.0 141.9 L1768.0 141.2 L1769.0 140.5 L1770.0 139.8 L1771.0 139.2 L1772.0 138.5 L1773.0 137.9 L1773.2 137.8 L1774.0 137.3 L1775.0 136.7 L1776.0 136.1 L1777.0 135.5 L1778.0 134.9 L1779.0 134.3 L1780.0 133.8 L1781.0 133.3 L1782.0 132.9 L1783.0 132.5 L1784.0 132.2 L1785.0 131.8 L1786.0 131.5 L1787.0 131.2 L1788.0 130.9 L1789.0 130.6 L1790.0 130.3 L1791.0 130.1 L1792.0 129.8 L1793.0 129.6 L1794.0 129.4 L1795.0 129.1 L1796.0 128.9 L1797.0 128.7 L1798.0 128.5 L1799.0 128.3 L1800.0 128.1 L1801.0 127.9 L1802.0 127.8 L1803.0 127.6 L1804.0 127.4 L1805.0 127.2 L1806.0 127.1 L1807.0 126.9 L1808.0 126.7 L1809.0 126.6 L1810.0 126.4 L1811.0 126.3 L1812.0 126.1 L1813.0 126.0 L1814.0 125.8 L1815.0 125.7 L1816.0 125.6 L1817.0 125.4 L1818.0 125.3 L1819.0 125.2 L1820.0 125.1 L1821.0 124.9 L1822.0 124.8 L1823.0 124.7 L1824.0 124.6 L1825.0 124.5 L1826.0 124.4 L1827.0 124.3 L1828.0 124.2 L1829.0 124.1 L1830.0 124.0 L1831.0 123.9 L1832.0 123.9 L1833.0 123.8 L1834.0 123.7 L1835.0 123.6 L1836.0 123.6 L1837.0 123.5 L1838.0 123.4 L1839.0 123.4 L1840.0 123.4 L1841.0 123.3 L1842.0 123.3 L1843.0 123.2 L1844.0 123.2 L1845.0 123.2 L1846.0 123.1 L1847.0 123.1 L1848.0 123.0 L1849.0 122.9 L1850.0 122.9 L1851.0 122.8 L1852.0 122.7 L1853.0 122.6 L1854.0 122.4 L1855.0 122.3 L1856.0 122.2 L1857.0 122.1 L1858.0 122.0 L1859.0 121.9 L1860.0 121.8 L1861.0 121.7 L1862.0 121.6 L1863.0 121.5 L1864.0 121.4 L1865.0 121.3 L1866.0 121.2 L1867.0 121.1 L1868.0 121.0 L1869.0 120.9 L1870.0 120.8 L1871.0 120.7 L1872.0 120.6 L1873.0 120.5 L1874.0 120.4 L1875.0 120.3 L1876.0 120.2 L1877.0 120.1 L1878.0 120.0 L1879.0 119.9 L1880.0 119.8 L1881.0 119.7 L1882.0 119.6 L1883.0 119.4 L1884.0 119.3 L1885.0 119.1 L1886.0 118.9 L1887.0 118.8 L1888.0 118.6 L1889.0 118.4 L1890.0 118.3 L1891.0 118.1 L1892.0 118.0 L1893.0 117.9 L1894.0 117.8 L1895.0 117.7 L1896.0 117.6 L1897.0 117.5 L1898.0 117.4 L1899.0 117.3 L1900.0 117.2 L1901.0 117.1 L1902.0 117.0 L1903.0 116.9 L1904.0 116.8 L1905.0 116.7 L1906.0 116.6 L1907.0 116.6 L1908.0 116.5 L1909.0 116.4 L1910.0 116.3 L1911.0 116.2 L1912.0 116.1 L1913.0 116.1 L1914.0 116.0 L1915.0 115.9 L1916.0 115.9 L1917.0 115.8 L1918.0 115.7 L1919.0 115.7 L1920.0 115.6 L1921.0 115.5 L1922.0 115.5 L1923.0 115.4 L1924.0 115.4 L1925.0 115.3 L1926.0 115.2 L1927.0 115.2 L1928.0 115.1 L1929.0 115.0 L1930.0 115.0 L1931.0 114.9 L1932.0 114.9 L1933.0 114.8 L1934.0 114.8 L1935.0 114.7 L1936.0 114.7 L1937.0 114.7 L1938.0 114.6 L1939.0 114.6 L1940.0 114.6 L1941.0 114.6 L1942.0 114.6 L1943.0 114.5 L1944.0 114.5 L1945.0 114.5 L1946.0 114.5 L1947.0 114.5 L1948.0 114.5 L1949.0 114.5 L1950.0 114.5 L1951.0 114.5 L1952.0 114.5 L1953.0 114.6 L1954.0 114.6 L1955.0 114.6 L1956.0 114.6 L1957.0 114.7 L1958.0 114.7" fill="none" stroke="#e8aa1e" stroke-width="3.1" stroke-linejoin="round" stroke-linecap="round"/>
<path d="M1183.0 113.0 L1184.0 119.6 L1185.0 123.5 L1185.5 124.0 L1186.0 123.8 L1187.0 122.6 L1187.2 122.3 L1188.0 118.7 L1189.0 111.2 L1190.0 106.1 L1190.2 105.9 L1191.0 106.3 L1192.0 107.6 L1193.0 109.1 L1194.0 110.1 L1195.0 110.6 L1196.0 111.0 L1197.0 111.4 L1198.0 111.7 L1199.0 111.9 L1200.0 112.0 L1200.1 112.0 L1201.0 111.9 L1202.0 111.6 L1203.0 111.0 L1204.0 110.4 L1205.0 109.7 L1205.5 109.4 L1206.0 109.0 L1207.0 107.7 L1208.0 106.1 L1209.0 104.9 L1210.0 104.4 L1211.0 104.5 L1212.0 104.9 L1213.0 105.5 L1213.1 105.6 L1214.0 107.5 L1215.0 111.0 L1215.4 112.4 L1216.0 114.7 L1217.0 119.2 L1218.0 122.6 L1218.4 123.1 L1219.0 123.3 L1219.9 123.5 L1220.0 123.5 L1221.0 120.5 L1222.0 116.1 L1222.2 115.5 L1223.0 113.1 L1224.0 110.3 L1225.0 108.6 L1225.3 108.5 L1226.0 108.7 L1227.0 109.4 L1228.0 110.3 L1228.3 110.5 L1229.0 111.0 L1230.0 111.7 L1231.0 112.4 L1232.0 113.1 L1233.0 113.7 L1234.0 114.2 L1234.4 114.3 L1235.0 114.5 L1236.0 114.8 L1237.0 115.0 L1238.0 115.2 L1239.0 115.4 L1240.0 115.5 L1240.5 115.5 L1241.0 115.5 L1242.0 115.4 L1243.0 115.1 L1244.0 114.8 L1245.0 114.5 L1246.0 114.1 L1247.0 113.7 L1248.0 113.4 L1249.0 113.1 L1250.0 112.9 L1251.0 112.8 L1251.2 112.8 L1252.0 112.8 L1253.0 112.9 L1254.0 112.9 L1255.0 113.0 L1256.0 113.1 L1257.0 113.1 L1258.0 113.2 L1258.8 113.2 L1259.0 113.2 L1260.0 113.2 L1261.0 113.2 L1262.0 113.1 L1263.0 113.1 L1264.0 113.1 L1265.0 113.0 L1266.0 112.9 L1267.0 112.9 L1268.0 112.8 L1269.0 112.8 L1270.0 112.7 L1271.0 112.7 L1272.0 112.7 L1273.0 112.6 L1274.0 112.6 L1275.0 112.6 L1276.0 112.6 L1277.0 112.6 L1278.0 112.6 L1279.0 112.6 L1280.0 112.6 L1281.0 112.6 L1282.0 112.6 L1283.0 112.7 L1284.0 112.7 L1285.0 112.7 L1286.0 112.7 L1287.0 112.7 L1288.0 112.7 L1289.0 112.8 L1290.0 112.8 L1291.0 112.9 L1292.0 113.0 L1293.0 113.2 L1294.0 113.4 L1295.0 113.6 L1296.0 113.7 L1297.0 113.8 L1298.0 113.7 L1299.0 113.6 L1300.0 113.4 L1301.0 113.2 L1302.0 112.9 L1303.0 112.7 L1304.0 112.6 L1305.0 112.5 L1306.0 112.5 L1307.0 112.5 L1308.0 112.5 L1309.0 112.5 L1310.0 112.5 L1311.0 112.5 L1312.0 112.5 L1313.0 112.5 L1314.0 112.5 L1315.0 112.5 L1316.0 112.6 L1317.0 112.6 L1318.0 112.6 L1319.0 112.6 L1320.0 112.6 L1321.0 112.6 L1322.0 112.6 L1323.0 112.6 L1324.0 112.7 L1325.0 112.7 L1326.0 112.7 L1327.0 112.7 L1328.0 112.8 L1329.0 112.8 L1330.0 112.8 L1331.0 112.9 L1332.0 113.0 L1333.0 113.2 L1334.0 113.4 L1335.0 113.6 L1336.0 113.7 L1337.0 113.8 L1338.0 113.7 L1339.0 113.5 L1340.0 113.3 L1341.0 113.0 L1342.0 112.7 L1343.0 112.6 L1344.0 112.5 L1345.0 112.5 L1346.0 112.4 L1347.0 112.4 L1348.0 112.3 L1349.0 112.3 L1350.0 112.3 L1351.0 112.2 L1352.0 112.2 L1353.0 112.2 L1354.0 112.2 L1355.0 112.1 L1356.0 112.1 L1357.0 112.1 L1358.0 112.1 L1359.0 112.0 L1360.0 112.0 L1361.0 112.0 L1362.0 111.9 L1363.0 111.9 L1364.0 111.8 L1365.0 111.8 L1366.0 111.7 L1367.0 111.7 L1368.0 111.7 L1369.0 111.6 L1370.0 111.6 L1371.0 111.6 L1371.9 111.6 L1372.0 111.6 L1373.0 111.7 L1374.0 111.8 L1375.0 111.9 L1376.0 112.1 L1377.0 112.2 L1378.0 112.4 L1378.3 112.4 L1379.0 112.5 L1380.0 112.5 L1381.0 112.6 L1382.0 112.6 L1383.0 112.7 L1384.0 112.7 L1385.0 112.8 L1386.0 112.8 L1387.0 112.9 L1387.4 112.9 L1388.0 112.9 L1389.0 113.0 L1390.0 113.1 L1391.0 113.2 L1392.0 113.3 L1393.0 113.5 L1394.0 113.6 L1395.0 113.7 L1396.0 113.8 L1396.6 113.8 L1397.0 113.8 L1398.0 113.9 L1399.0 113.9 L1400.0 114.0 L1401.0 114.0 L1402.0 114.1 L1403.0 114.2 L1404.0 114.4 L1405.0 114.7 L1406.0 115.1 L1407.0 115.5 L1408.0 116.0 L1409.0 116.5 L1410.0 117.0 L1411.0 117.3 L1411.2 117.4 L1412.0 117.6 L1413.0 117.9 L1414.0 118.1 L1415.0 118.4 L1416.0 118.6 L1417.0 118.8 L1418.0 119.1 L1419.0 119.3 L1420.0 119.6 L1420.3 119.7 L1421.0 119.9 L1422.0 120.3 L1423.0 120.6 L1424.0 121.0 L1425.0 121.4 L1426.0 121.8 L1427.0 122.3 L1428.0 122.7 L1429.0 123.2 L1429.5 123.4 L1430.0 123.6 L1431.0 124.2 L1432.0 124.7 L1433.0 125.3 L1434.0 125.9 L1435.0 126.5 L1436.0 127.0 L1436.8 127.5 L1437.0 127.6 L1438.0 128.1 L1439.0 128.7 L1440.0 129.2 L1441.0 129.8 L1442.0 130.5 L1443.0 131.4 L1444.0 132.4 L1445.0 133.6 L1446.0 134.8 L1447.0 136.1 L1447.7 137.0 L1448.0 137.4 L1449.0 138.7 L1450.0 140.1 L1451.0 141.5 L1452.0 143.0 L1453.0 144.5 L1454.0 146.1 L1455.0 147.8 L1455.2 148.1 L1456.0 149.5 L1457.0 151.3 L1458.0 153.1 L1459.0 155.0 L1460.0 157.0 L1461.0 159.1 L1462.0 161.2 L1462.8 163.0 L1463.0 163.4 L1464.0 165.7 L1465.0 168.1 L1466.0 170.7 L1467.0 173.3 L1468.0 176.0 L1468.9 178.5 L1469.0 178.8 L1470.0 181.7 L1471.0 184.8 L1472.0 187.9 L1473.0 191.2 L1474.0 194.7 L1475.0 198.3 L1476.0 202.1 L1477.0 206.1 L1478.0 210.3 L1479.0 214.8 L1479.7 218.0 L1480.0 219.4 L1481.0 224.4 L1482.0 229.7 L1483.0 235.2 L1484.0 240.8 L1485.0 246.5 L1486.0 252.3 L1486.7 256.3 L1487.0 258.0 L1488.0 263.8 L1489.0 269.8 L1490.0 275.8 L1491.0 281.8 L1492.0 287.9 L1493.0 293.9 L1493.7 298.1 L1494.0 299.9 L1495.0 305.9 L1496.0 312.0 L1497.0 318.0 L1498.0 324.0 L1499.0 330.0 L1500.0 335.9 L1500.7 340.0 L1501.0 341.7 L1502.0 347.5 L1503.0 353.1 L1504.0 358.8 L1505.0 364.3 L1506.0 369.8 L1507.0 375.3 L1507.7 379.1 L1508.0 380.7 L1509.0 386.3 L1510.0 392.0 L1511.0 397.6 L1512.0 402.9 L1513.0 407.8 L1514.0 412.2 L1514.1 412.6 L1515.0 416.1 L1516.0 419.7 L1517.0 422.4 L1517.2 422.8 L1518.0 424.2 L1519.0 425.6 L1519.7 426.0 L1520.0 426.0 L1521.0 425.7 L1522.0 425.2 L1522.3 425.0 L1523.0 424.2 L1524.0 422.0 L1524.6 420.5 L1525.0 419.4 L1526.0 416.2 L1527.0 412.3 L1528.0 407.9 L1529.0 403.3 L1530.0 398.6 L1531.0 393.7 L1532.0 388.4 L1533.0 382.9 L1534.0 377.1 L1535.0 371.2 L1536.0 365.3 L1537.0 359.5 L1538.0 353.7 L1539.0 347.7 L1540.0 341.7 L1541.0 335.6 L1542.0 329.6 L1543.0 323.6 L1544.0 317.7 L1545.0 311.9 L1546.0 306.1 L1547.0 300.4 L1548.0 294.7 L1549.0 289.1 L1550.0 283.5 L1550.9 278.6 L1551.0 278.1 L1552.0 272.7 L1553.0 267.4 L1554.0 262.1 L1555.0 257.0 L1556.0 251.8 L1557.0 246.8 L1557.9 242.3 L1558.0 241.8 L1559.0 236.9 L1560.0 232.1 L1561.0 227.4 L1561.5 225.0 L1562.0 222.7 L1563.0 218.0 L1563.3 216.6 L1564.0 213.2 L1565.0 208.4 L1566.0 203.5 L1567.0 198.8 L1567.1 198.3 L1568.0 194.1 L1569.0 189.4 L1570.0 185.0 L1570.9 181.5 L1571.0 181.1 L1572.0 177.8 L1573.0 174.7 L1574.0 171.8 L1575.0 169.1 L1575.5 167.8 L1576.0 166.5 L1577.0 163.9 L1578.0 161.3 L1579.0 159.1 L1580.0 157.2 L1581.0 155.6 L1582.0 154.2 L1583.0 152.9 L1584.0 151.7 L1585.0 150.7 L1586.0 149.7 L1586.1 149.6 L1587.0 148.8 L1588.0 147.9 L1589.0 147.1 L1590.0 146.4 L1591.0 145.7 L1592.0 145.1 L1592.2 145.0 L1593.0 144.6 L1594.0 144.1 L1595.0 143.6 L1596.0 143.2 L1597.0 142.8 L1597.5 142.7 L1598.0 142.6 L1599.0 142.3 L1600.0 142.1 L1601.0 141.9 L1602.0 141.8 L1603.0 141.7 L1604.0 141.6 L1604.2 141.6 L1605.0 141.6 L1606.0 141.6 L1607.0 141.6 L1608.0 141.6 L1609.0 141.6 L1610.0 141.6 L1611.0 141.6 L1612.0 141.6 L1613.0 141.6 L1613.1 141.6 L1614.0 141.6 L1615.0 141.8 L1616.0 142.0 L1617.0 142.3 L1618.0 142.6 L1619.0 143.0 L1620.0 143.4 L1621.0 143.8 L1622.0 144.1 L1623.0 144.5 L1623.8 144.7 L1624.0 144.8 L1625.0 145.0 L1626.0 145.3 L1627.0 145.5 L1628.0 145.8 L1629.0 146.0 L1630.0 146.2 L1631.0 146.5 L1632.0 146.7 L1633.0 147.0 L1634.0 147.2 L1634.4 147.3 L1635.0 147.4 L1636.0 147.7 L1637.0 148.0 L1638.0 148.2 L1639.0 148.5 L1640.0 148.7 L1641.0 149.0 L1642.0 149.2 L1643.0 149.5 L1644.0 149.7 L1645.0 150.0 L1645.1 150.0 L1646.0 150.2 L1647.0 150.5 L1648.0 150.7 L1649.0 150.9 L1650.0 151.2 L1651.0 151.4 L1652.0 151.6 L1653.0 151.9 L1654.0 152.2 L1655.0 152.5 L1655.8 152.7 L1656.0 152.8 L1657.0 153.1 L1658.0 153.5 L1659.0 153.9 L1660.0 154.3 L1661.0 154.8 L1662.0 155.2 L1663.0 155.7 L1664.0 156.1 L1665.0 156.5 L1666.0 156.9 L1666.4 157.1 L1667.0 157.3 L1668.0 157.7 L1669.0 158.0 L1670.0 158.3 L1671.0 158.7 L1672.0 159.0 L1673.0 159.3 L1674.0 159.6 L1675.0 160.0 L1676.0 160.3 L1677.0 160.7 L1677.1 160.7 L1678.0 161.0 L1679.0 161.4 L1680.0 161.9 L1681.0 162.3 L1682.0 162.7 L1683.0 163.1 L1684.0 163.5 L1685.0 163.9 L1686.0 164.2 L1687.0 164.5 L1688.0 164.9 L1689.0 165.2 L1690.0 165.6 L1691.0 165.9 L1692.0 166.1 L1693.0 166.3 L1694.0 166.5 L1694.9 166.5 L1695.0 166.5 L1696.0 166.4 L1697.0 166.2 L1698.0 165.9 L1699.0 165.6 L1700.0 165.5 L1700.2 165.5 L1701.0 165.6 L1702.0 166.0 L1703.0 166.5 L1704.0 166.8 L1704.6 166.9 L1705.0 166.9 L1706.0 166.6 L1707.0 166.1 L1708.0 165.4 L1709.0 164.6 L1710.0 163.9 L1710.9 163.3 L1711.0 163.2 L1712.0 162.6 L1713.0 162.1 L1714.0 161.5 L1715.0 160.8 L1716.0 160.2 L1717.0 159.6 L1718.0 158.9 L1719.0 158.2 L1720.0 157.5 L1721.0 156.7 L1722.0 155.9 L1723.0 155.1 L1724.0 154.3 L1725.0 153.6 L1725.1 153.5 L1726.0 152.8 L1727.0 152.1 L1728.0 151.3 L1729.0 150.6 L1730.0 149.8 L1731.0 149.1 L1732.0 148.3 L1732.2 148.2 L1733.0 147.6 L1734.0 146.9 L1735.0 146.1 L1736.0 145.4 L1737.0 144.7 L1738.0 144.0 L1739.0 143.3 L1740.0 142.7 L1741.0 142.1 L1741.1 142.0 L1742.0 141.5 L1743.0 141.0 L1744.0 140.4 L1745.0 140.0 L1746.0 139.5 L1747.0 139.0 L1748.0 138.5 L1749.0 138.1 L1750.0 137.6 L1751.0 137.1 L1752.0 136.6 L1753.0 136.2 L1754.0 135.7 L1755.0 135.2 L1756.0 134.8 L1757.0 134.3 L1758.0 133.9 L1759.0 133.4 L1760.0 133.0 L1761.0 132.6 L1762.0 132.1 L1763.0 131.7 L1764.0 131.2 L1765.0 130.8 L1766.0 130.4 L1767.0 130.0 L1768.0 129.6 L1769.0 129.2 L1770.0 128.8 L1771.0 128.5 L1772.0 128.2 L1773.0 127.9 L1774.0 127.6 L1775.0 127.4 L1776.0 127.1 L1777.0 126.9 L1778.0 126.6 L1779.0 126.4 L1780.0 126.2 L1781.0 125.9 L1782.0 125.7 L1783.0 125.5 L1784.0 125.3 L1785.0 125.0 L1786.0 124.8 L1787.0 124.6 L1788.0 124.4 L1789.0 124.2 L1790.0 124.0 L1791.0 123.9 L1792.0 123.7 L1793.0 123.5 L1794.0 123.3 L1795.0 123.2 L1796.0 123.0 L1797.0 122.8 L1798.0 122.7 L1799.0 122.5 L1800.0 122.4 L1801.0 122.2 L1802.0 122.1 L1803.0 122.0 L1804.0 121.9 L1805.0 121.8 L1806.0 121.8 L1807.0 121.7 L1808.0 121.7 L1809.0 121.6 L1810.0 121.6 L1811.0 121.5 L1812.0 121.5 L1813.0 121.4 L1814.0 121.4 L1815.0 121.3 L1816.0 121.2 L1817.0 121.1 L1818.0 121.0 L1819.0 121.0 L1820.0 120.9 L1821.0 120.8 L1822.0 120.7 L1823.0 120.6 L1824.0 120.5 L1825.0 120.4 L1826.0 120.4 L1827.0 120.4 L1828.0 120.3 L1829.0 120.3 L1830.0 120.3 L1831.0 120.3 L1832.0 120.2 L1833.0 120.2 L1834.0 120.2 L1835.0 120.2 L1836.0 120.2 L1837.0 120.2 L1838.0 120.2 L1839.0 120.3 L1840.0 120.4 L1841.0 120.5 L1842.0 120.6 L1843.0 120.7 L1844.0 120.8 L1845.0 120.9 L1846.0 121.0 L1847.0 121.1 L1848.0 121.1 L1849.0 121.1 L1850.0 121.0 L1851.0 120.9 L1852.0 120.8 L1853.0 120.7 L1854.0 120.5 L1855.0 120.3 L1856.0 120.2 L1857.0 120.0 L1858.0 119.8 L1859.0 119.7 L1860.0 119.6 L1861.0 119.4 L1862.0 119.2 L1863.0 119.0 L1864.0 118.8 L1865.0 118.7 L1866.0 118.5 L1867.0 118.3 L1868.0 118.2 L1869.0 118.1 L1870.0 118.0 L1871.0 117.9 L1872.0 117.9 L1873.0 117.8 L1874.0 117.8 L1875.0 117.8 L1876.0 117.7 L1877.0 117.7 L1878.0 117.6 L1879.0 117.6 L1880.0 117.6 L1881.0 117.5 L1882.0 117.4 L1883.0 117.4 L1884.0 117.3 L1885.0 117.2 L1886.0 117.1 L1887.0 117.0 L1888.0 116.9 L1889.0 116.8 L1890.0 116.6 L1891.0 116.5 L1892.0 116.4 L1893.0 116.3 L1894.0 116.1 L1895.0 116.0 L1896.0 115.8 L1897.0 115.6 L1898.0 115.4 L1899.0 115.3 L1900.0 115.1 L1901.0 115.0 L1902.0 114.8 L1903.0 114.7 L1904.0 114.6 L1905.0 114.5 L1906.0 114.4 L1907.0 114.3 L1908.0 114.2 L1909.0 114.1 L1910.0 114.0 L1911.0 113.9 L1912.0 113.9 L1913.0 113.8 L1914.0 113.8 L1915.0 113.8 L1916.0 113.8 L1917.0 113.7 L1918.0 113.7 L1919.0 113.7 L1920.0 113.7 L1921.0 113.7 L1922.0 113.7 L1923.0 113.6 L1924.0 113.6 L1925.0 113.6 L1926.0 113.6 L1927.0 113.5 L1928.0 113.5 L1929.0 113.5 L1930.0 113.4 L1931.0 113.4 L1932.0 113.3 L1933.0 113.3 L1934.0 113.2 L1935.0 113.2 L1936.0 113.1 L1937.0 113.0 L1938.0 113.0 L1939.0 112.9 L1940.0 112.8 L1941.0 112.8 L1942.0 112.7 L1943.0 112.6 L1944.0 112.6 L1945.0 112.5 L1946.0 112.5 L1947.0 112.5 L1948.0 112.5 L1949.0 112.5 L1950.0 112.5 L1951.0 112.5 L1952.0 112.5 L1953.0 112.5 L1954.0 112.5 L1955.0 112.5 L1956.0 112.5 L1957.0 112.5 L1958.0 112.5" fill="none" stroke="#0a6414" stroke-width="3.1" stroke-linejoin="round" stroke-linecap="round"/>
<path d="M1181.9 101.0 L1182.9 111.5 L1183.4 115.5 L1183.9 118.9 L1184.9 125.2 L1185.9 129.3 L1186.4 129.9 L1186.9 129.9 L1187.9 129.9 L1188.3 129.9 L1188.9 129.7 L1189.9 128.7 L1190.9 127.1 L1191.9 125.2 L1192.9 123.6 L1193.9 122.4 L1194.0 122.3 L1194.9 121.7 L1195.9 121.2 L1196.9 120.7 L1197.9 120.3 L1198.9 119.9 L1199.9 119.4 L1200.1 119.3 L1200.9 118.9 L1201.9 118.4 L1202.9 117.8 L1203.9 117.0 L1203.9 117.0 L1204.9 115.3 L1205.9 112.9 L1206.9 110.8 L1207.7 110.1 L1207.9 110.1 L1208.9 110.5 L1209.9 111.4 L1210.9 112.4 L1211.6 113.2 L1211.9 113.6 L1212.9 115.3 L1213.9 117.3 L1214.9 119.3 L1215.9 120.6 L1216.1 120.8 L1216.9 121.4 L1217.9 122.0 L1218.9 122.3 L1219.2 122.3 L1219.9 121.4 L1220.9 118.3 L1221.9 114.7 L1222.2 113.9 L1222.9 112.0 L1223.9 109.1 L1224.9 107.3 L1225.3 107.1 L1225.9 107.2 L1226.9 107.7 L1227.9 108.4 L1228.3 108.6 L1228.9 109.0 L1229.9 109.6 L1230.9 110.3 L1231.9 111.0 L1232.9 111.6 L1233.9 112.2 L1234.4 112.4 L1234.9 112.6 L1235.9 113.0 L1236.9 113.5 L1237.9 113.8 L1238.9 114.1 L1239.9 114.3 L1240.5 114.3 L1240.9 114.3 L1241.9 114.0 L1242.9 113.5 L1243.9 112.9 L1244.8 112.4 L1244.9 112.3 L1245.9 111.7 L1246.9 111.0 L1247.9 110.3 L1248.9 109.6 L1249.9 109.1 L1250.9 108.8 L1251.2 108.8 L1251.9 108.8 L1252.9 109.0 L1253.9 109.3 L1254.9 109.5 L1255.9 109.6 L1256.0 109.6 L1256.9 109.6 L1257.9 109.6 L1258.9 109.6 L1259.9 109.6 L1260.9 109.6 L1261.9 109.6 L1262.9 109.6 L1263.9 109.6 L1264.9 109.6 L1265.9 109.6 L1266.9 109.6 L1267.9 109.6 L1268.9 109.6 L1269.9 109.6 L1270.9 109.6 L1271.9 109.6 L1272.9 109.6 L1273.9 109.6 L1274.9 109.6 L1275.9 109.6 L1276.9 109.6 L1277.9 109.6 L1278.9 109.6 L1279.9 109.6 L1280.9 109.6 L1281.9 109.6 L1282.9 109.6 L1283.9 109.6 L1284.8 109.6 L1284.9 109.6 L1285.9 109.1 L1286.9 108.4 L1287.9 108.0 L1288.0 108.0 L1288.9 108.1 L1289.9 108.4 L1290.9 108.9 L1291.9 109.4 L1292.9 109.9 L1293.9 110.3 L1294.9 110.7 L1295.9 110.8 L1296.0 110.8 L1296.9 110.8 L1297.9 110.7 L1298.9 110.6 L1299.9 110.5 L1300.8 110.4 L1300.9 110.4 L1301.9 110.2 L1302.9 109.9 L1303.9 109.5 L1304.9 109.2 L1305.9 108.9 L1306.9 108.8 L1307.2 108.8 L1307.9 108.9 L1308.9 109.0 L1309.9 109.3 L1310.9 109.5 L1311.9 109.6 L1312.0 109.6 L1312.9 109.6 L1313.9 109.6 L1314.9 109.6 L1315.9 109.6 L1316.9 109.6 L1317.9 109.6 L1318.9 109.6 L1319.9 109.6 L1320.9 109.6 L1321.9 109.6 L1322.9 109.6 L1323.9 109.6 L1324.9 109.6 L1325.9 109.6 L1326.9 109.6 L1327.9 109.6 L1328.9 109.6 L1329.9 109.6 L1330.9 109.6 L1331.9 109.6 L1332.9 109.6 L1333.9 109.6 L1334.9 109.6 L1335.9 109.6 L1336.9 109.6 L1337.9 109.6 L1338.9 109.6 L1339.9 109.6 L1340.9 109.6 L1341.9 109.6 L1342.9 109.6 L1343.9 109.6 L1344.9 109.6 L1345.9 109.6 L1346.9 109.6 L1347.9 109.6 L1348.9 109.6 L1349.9 109.6 L1350.9 109.6 L1351.9 109.6 L1352.9 109.6 L1353.9 109.6 L1354.9 109.6 L1355.9 109.6 L1356.9 109.6 L1357.9 109.6 L1358.9 109.6 L1359.9 109.6 L1360.9 109.6 L1361.9 109.6 L1362.9 109.6 L1363.9 109.6 L1364.9 109.6 L1365.9 109.6 L1366.9 109.6 L1367.9 109.6 L1368.9 109.6 L1369.9 109.6 L1370.9 109.6 L1371.2 109.6 L1371.9 109.4 L1372.9 108.9 L1373.9 108.5 L1374.4 108.4 L1374.9 108.5 L1375.9 109.0 L1377.0 109.7 L1378.0 110.4 L1379.0 110.8 L1379.2 110.8 L1380.0 110.7 L1381.0 110.6 L1382.0 110.3 L1383.0 110.1 L1384.0 110.0 L1384.0 110.0 L1385.0 110.2 L1386.0 110.6 L1387.0 111.2 L1388.0 111.7 L1388.8 112.0 L1389.0 112.0 L1390.0 112.2 L1391.0 112.4 L1392.0 112.6 L1393.0 112.7 L1394.0 112.8 L1395.0 112.9 L1395.6 112.9 L1396.0 112.9 L1397.0 112.7 L1398.0 112.4 L1399.0 112.0 L1399.3 111.9 L1400.0 111.6 L1401.0 111.0 L1402.0 110.4 L1403.0 110.1 L1403.0 110.1 L1404.0 110.4 L1405.0 111.3 L1406.0 112.4 L1407.0 113.4 L1407.5 113.8 L1408.0 114.0 L1409.0 114.6 L1410.0 115.1 L1411.0 115.5 L1412.0 115.9 L1413.0 116.3 L1414.0 116.4 L1414.8 116.5 L1415.0 116.5 L1416.0 116.4 L1417.0 116.3 L1418.0 116.1 L1418.5 116.1 L1419.0 116.1 L1420.0 116.3 L1421.0 116.7 L1422.0 117.2 L1423.0 117.7 L1424.0 118.3 L1425.0 118.9 L1425.8 119.3 L1426.0 119.4 L1427.0 119.8 L1428.0 120.3 L1429.0 120.8 L1430.0 121.3 L1431.0 121.8 L1432.0 122.3 L1433.0 122.8 L1434.0 123.3 L1435.0 123.8 L1435.0 123.8 L1436.0 124.3 L1437.0 124.7 L1438.0 125.2 L1439.0 125.7 L1440.0 126.2 L1441.0 126.7 L1442.0 127.3 L1442.3 127.5 L1443.0 127.9 L1444.0 128.6 L1445.0 129.4 L1446.0 130.2 L1447.0 131.1 L1448.0 132.0 L1449.0 132.9 L1449.4 133.3 L1450.0 133.8 L1451.0 134.8 L1452.0 135.8 L1453.0 136.8 L1454.0 137.8 L1455.0 138.9 L1456.0 140.1 L1457.0 141.2 L1457.6 142.0 L1458.0 142.5 L1459.0 143.7 L1460.0 145.0 L1461.0 146.4 L1462.0 147.9 L1463.0 149.4 L1464.0 150.9 L1464.2 151.3 L1465.0 152.6 L1466.0 154.2 L1467.0 156.0 L1468.0 157.8 L1469.0 159.8 L1470.0 161.9 L1470.5 163.0 L1471.0 164.1 L1472.0 166.7 L1473.0 169.4 L1473.5 170.9 L1474.0 172.2 L1475.0 175.1 L1476.0 178.1 L1477.0 181.1 L1478.0 184.2 L1479.0 187.3 L1479.6 189.2 L1480.0 190.4 L1481.0 193.6 L1482.0 196.8 L1483.0 200.1 L1484.0 203.4 L1485.0 206.6 L1485.7 209.0 L1486.0 209.9 L1487.0 213.0 L1488.0 216.0 L1489.0 219.2 L1490.0 222.6 L1490.6 225.0 L1491.0 226.6 L1492.0 231.3 L1493.0 236.6 L1494.0 242.0 L1495.0 247.3 L1495.1 247.9 L1496.0 252.3 L1497.0 257.2 L1498.0 262.1 L1499.0 267.1 L1500.0 272.1 L1500.7 275.8 L1501.0 277.3 L1502.0 282.6 L1503.0 288.0 L1504.0 293.5 L1505.0 299.0 L1506.0 304.7 L1506.3 306.5 L1507.0 310.4 L1508.0 316.1 L1509.0 321.9 L1510.0 327.9 L1511.0 334.1 L1511.9 340.0 L1512.0 340.6 L1513.0 347.2 L1514.0 354.0 L1515.0 361.4 L1516.0 369.7 L1516.1 370.7 L1517.0 379.7 L1518.0 391.4 L1518.8 401.4 L1519.0 403.7 L1520.0 416.5 L1520.6 425.0 L1521.0 430.6 L1522.0 446.0 L1522.4 453.0 L1523.0 464.7 L1524.0 487.1 L1524.8 502.5 L1525.0 505.4 L1526.0 519.2 L1527.0 531.2 L1528.0 541.9 L1529.0 551.9 L1529.0 552.0 L1530.0 561.3 L1531.0 569.9 L1532.0 578.0 L1533.0 586.0 L1533.7 591.6 L1534.0 593.9 L1535.0 601.9 L1536.0 609.6 L1537.0 617.3 L1538.0 624.7 L1538.9 631.2 L1539.0 631.8 L1540.0 638.9 L1541.0 645.8 L1542.0 652.2 L1542.9 657.6 L1543.0 658.1 L1544.0 664.5 L1544.9 667.5 L1545.0 667.4 L1546.0 659.6 L1546.2 657.6 L1547.0 649.6 L1548.0 637.8 L1549.0 624.7 L1549.5 618.0 L1550.0 611.2 L1551.0 596.3 L1552.0 580.8 L1552.8 568.5 L1553.0 565.6 L1554.0 551.1 L1555.0 536.5 L1556.0 520.7 L1556.1 519.0 L1557.0 502.4 L1558.0 482.5 L1558.7 469.5 L1559.0 464.3 L1560.0 447.3 L1561.0 432.5 L1561.2 430.0 L1562.0 422.2 L1562.7 415.4 L1563.0 411.8 L1564.0 397.3 L1565.0 381.3 L1565.5 373.5 L1566.0 365.9 L1567.0 350.4 L1568.0 334.8 L1569.0 319.3 L1569.1 317.7 L1570.0 303.7 L1571.0 288.2 L1572.0 272.7 L1572.7 261.9 L1573.0 257.2 L1574.0 241.1 L1574.8 230.0 L1575.0 227.7 L1576.0 217.4 L1577.0 209.0 L1577.0 209.0 L1578.0 202.0 L1579.0 195.9 L1580.0 190.7 L1580.0 190.7 L1581.0 186.0 L1582.0 181.6 L1583.0 177.6 L1584.0 174.2 L1584.6 172.4 L1585.0 171.3 L1586.0 168.8 L1587.0 166.5 L1588.0 164.5 L1589.0 162.7 L1589.5 161.8 L1590.0 161.0 L1591.0 159.4 L1592.0 157.9 L1593.0 156.6 L1593.8 155.7 L1594.0 155.5 L1595.0 154.4 L1596.0 153.4 L1597.0 152.5 L1598.0 151.8 L1598.0 151.8 L1599.0 151.2 L1600.0 150.7 L1601.0 150.2 L1602.0 149.7 L1603.0 149.3 L1604.0 148.9 L1605.0 148.5 L1606.0 148.2 L1606.0 148.2 L1607.0 147.9 L1608.0 147.5 L1609.0 147.1 L1610.0 146.8 L1611.0 146.5 L1612.0 146.2 L1613.0 145.9 L1614.0 145.7 L1615.0 145.5 L1616.0 145.4 L1616.7 145.4 L1617.0 145.4 L1618.0 145.4 L1619.0 145.4 L1620.0 145.4 L1621.0 145.4 L1622.0 145.4 L1623.0 145.3 L1624.0 145.3 L1625.0 145.3 L1626.0 145.3 L1627.0 145.3 L1628.0 145.3 L1629.0 145.3 L1629.1 145.3 L1630.0 145.3 L1631.0 145.3 L1632.0 145.2 L1633.0 145.2 L1634.0 145.2 L1635.0 145.1 L1636.0 145.1 L1637.0 145.0 L1638.0 145.0 L1639.0 144.9 L1640.0 144.9 L1641.0 144.8 L1642.0 144.8 L1643.0 144.7 L1643.3 144.7 L1644.0 144.7 L1645.0 144.6 L1646.0 144.6 L1647.0 144.5 L1648.0 144.4 L1649.0 144.4 L1650.0 144.3 L1651.0 144.2 L1652.0 144.2 L1653.0 144.1 L1654.0 144.1 L1655.0 144.0 L1656.0 144.0 L1657.0 144.0 L1657.5 144.0 L1658.0 144.0 L1659.0 144.0 L1660.0 144.1 L1661.0 144.2 L1662.0 144.3 L1663.0 144.4 L1664.0 144.5 L1665.0 144.6 L1666.0 144.7 L1667.0 144.9 L1668.0 145.0 L1669.0 145.2 L1670.0 145.3 L1671.0 145.4 L1671.8 145.5 L1672.0 145.5 L1673.0 145.6 L1674.0 145.8 L1675.0 145.9 L1676.0 146.0 L1677.0 146.2 L1678.0 146.3 L1679.0 146.5 L1680.0 146.6 L1681.0 146.7 L1682.0 146.8 L1683.0 146.9 L1684.0 146.9 L1685.0 147.0 L1686.0 147.0 L1686.0 147.0 L1687.0 147.0 L1688.0 147.0 L1689.0 146.9 L1690.0 146.8 L1691.0 146.8 L1692.0 146.7 L1693.0 146.6 L1694.0 146.4 L1695.0 146.3 L1696.0 146.2 L1697.0 146.0 L1698.0 145.9 L1699.0 145.7 L1700.0 145.5 L1700.2 145.5 L1701.0 145.3 L1702.0 145.0 L1703.0 144.7 L1704.0 144.3 L1705.0 143.8 L1706.0 143.4 L1707.0 143.0 L1707.3 142.9 L1708.0 142.6 L1709.0 142.2 L1710.0 141.8 L1711.0 141.3 L1712.0 140.9 L1713.0 140.5 L1714.0 140.0 L1715.0 139.6 L1716.0 139.2 L1717.0 138.8 L1718.0 138.4 L1718.0 138.4 L1719.0 138.0 L1720.0 137.7 L1721.0 137.3 L1722.0 137.0 L1723.0 136.7 L1724.0 136.4 L1725.0 136.1 L1726.0 135.7 L1727.0 135.4 L1728.0 135.1 L1728.6 134.9 L1729.0 134.7 L1730.0 134.4 L1731.0 134.0 L1732.0 133.7 L1733.0 133.3 L1734.0 132.9 L1735.0 132.5 L1736.0 132.2 L1737.0 131.8 L1738.0 131.4 L1739.0 131.1 L1740.0 130.7 L1741.0 130.4 L1741.1 130.4 L1742.0 130.1 L1743.0 129.8 L1744.0 129.5 L1745.0 129.2 L1746.0 129.0 L1747.0 128.7 L1748.0 128.4 L1749.0 128.1 L1750.0 127.9 L1751.0 127.6 L1752.0 127.3 L1753.0 127.0 L1753.5 126.9 L1754.0 126.7 L1755.0 126.4 L1756.0 126.1 L1757.0 125.8 L1758.0 125.5 L1759.0 125.2 L1760.0 124.9 L1761.0 124.6 L1762.0 124.4 L1762.0 124.4 L1763.0 124.1 L1764.0 123.9 L1765.1 123.7 L1766.1 123.5 L1767.1 123.2 L1768.1 123.0 L1769.1 122.8 L1770.1 122.6 L1771.0 122.4 L1771.1 122.4 L1772.1 122.2 L1773.1 122.0 L1774.1 121.8 L1775.1 121.5 L1776.1 121.3 L1777.1 121.1 L1778.1 120.9 L1779.1 120.7 L1780.1 120.5 L1781.1 120.4 L1782.0 120.2 L1782.1 120.2 L1783.1 120.0 L1784.1 119.8 L1785.1 119.7 L1786.1 119.5 L1787.1 119.3 L1788.1 119.2 L1789.1 119.0 L1790.1 118.9 L1791.1 118.8 L1792.1 118.7 L1793.0 118.6 L1793.1 118.6 L1794.1 118.5 L1795.1 118.4 L1796.1 118.4 L1797.1 118.3 L1798.1 118.3 L1799.1 118.2 L1800.1 118.1 L1801.1 118.1 L1802.1 118.1 L1803.1 118.0 L1804.0 118.0 L1804.1 118.0 L1805.1 118.0 L1806.1 118.0 L1807.1 117.9 L1808.1 117.9 L1809.1 117.9 L1810.1 117.9 L1811.1 117.9 L1812.1 117.9 L1813.1 117.8 L1814.1 117.8 L1815.0 117.8 L1815.1 117.8 L1816.1 117.8 L1817.1 117.8 L1818.1 117.7 L1819.1 117.7 L1820.1 117.7 L1821.1 117.7 L1822.1 117.6 L1823.1 117.6 L1824.1 117.6 L1825.1 117.5 L1826.0 117.5 L1826.1 117.5 L1827.1 117.5 L1828.1 117.4 L1829.1 117.3 L1830.1 117.3 L1831.1 117.2 L1832.1 117.1 L1833.1 117.0 L1834.1 117.0 L1835.1 116.9 L1836.1 116.9 L1837.0 116.9 L1837.1 116.9 L1838.1 116.9 L1839.1 117.0 L1840.1 117.1 L1841.1 117.2 L1842.1 117.3 L1843.1 117.4 L1844.1 117.5 L1845.1 117.6 L1846.1 117.7 L1847.1 117.8 L1848.0 117.8 L1848.1 117.8 L1849.1 117.8 L1850.1 117.7 L1851.1 117.6 L1852.1 117.5 L1853.1 117.3 L1854.1 117.2 L1855.1 117.0 L1856.1 116.8 L1857.1 116.7 L1858.1 116.5 L1859.0 116.4 L1859.1 116.4 L1860.1 116.3 L1861.1 116.2 L1862.1 116.1 L1863.1 116.0 L1864.1 115.9 L1865.1 115.8 L1866.1 115.7 L1867.1 115.6 L1868.1 115.5 L1869.1 115.4 L1870.0 115.3 L1870.1 115.3 L1871.1 115.2 L1872.1 115.1 L1873.1 115.0 L1874.1 114.9 L1875.1 114.8 L1876.1 114.7 L1877.1 114.6 L1878.1 114.5 L1879.1 114.4 L1880.1 114.3 L1881.0 114.2 L1881.1 114.2 L1882.1 114.0 L1883.1 113.8 L1884.1 113.6 L1885.1 113.4 L1886.1 113.1 L1887.1 112.9 L1888.1 112.7 L1889.1 112.4 L1890.1 112.3 L1891.1 112.1 L1892.0 112.0 L1892.1 112.0 L1893.1 111.9 L1894.1 111.8 L1895.1 111.8 L1896.1 111.7 L1897.1 111.7 L1898.1 111.7 L1899.1 111.6 L1900.1 111.6 L1901.1 111.5 L1902.1 111.5 L1903.0 111.4 L1903.1 111.4 L1904.1 111.3 L1905.1 111.2 L1906.1 111.1 L1907.1 111.0 L1908.1 110.8 L1909.1 110.7 L1910.1 110.6 L1911.1 110.5 L1912.1 110.4 L1913.1 110.3 L1914.0 110.3 L1914.1 110.3 L1915.1 110.3 L1916.1 110.2 L1917.1 110.2 L1918.1 110.2 L1919.1 110.2 L1920.1 110.2 L1921.1 110.2 L1922.1 110.2 L1923.1 110.1 L1924.1 110.1 L1925.0 110.1 L1925.1 110.1 L1926.1 110.1 L1927.1 110.0 L1928.1 109.9 L1929.1 109.8 L1930.1 109.7 L1931.1 109.7 L1932.1 109.6 L1933.1 109.5 L1934.1 109.4 L1935.1 109.4 L1936.0 109.4 L1936.1 109.4 L1937.1 109.4 L1938.1 109.4 L1939.1 109.4 L1940.1 109.4 L1941.1 109.4 L1942.1 109.4 L1943.1 109.4 L1944.1 109.4 L1945.1 109.4 L1946.1 109.4 L1947.0 109.4 L1947.1 109.4 L1948.1 109.4 L1949.1 109.4 L1950.1 109.4 L1951.1 109.4 L1952.1 109.4 L1953.1 109.4 L1954.1 109.4 L1955.1 109.4 L1956.1 109.4 L1957.1 109.4 L1958.1 109.4 L1959.1 109.4" fill="none" stroke="#00f6f6" stroke-width="3.1" stroke-linejoin="round" stroke-linecap="round"/>
<g stroke="#000" stroke-width="2.5" fill="none" stroke-linecap="butt">
<rect x="1154.0" y="15.0" width="821.3" height="662.4"/>
<line x1="1154.0" y1="677.4" x2="1154.0" y2="690.1"/>
<line x1="1359.3" y1="677.4" x2="1359.3" y2="690.1"/>
<line x1="1564.7" y1="677.4" x2="1564.7" y2="690.1"/>
<line x1="1770.0" y1="677.4" x2="1770.0" y2="690.1"/>
<line x1="1975.3" y1="677.4" x2="1975.3" y2="690.1"/>
<line x1="1140.5" y1="15.0" x2="1154.0" y2="15.0"/>
<line x1="1140.5" y1="109.6" x2="1154.0" y2="109.6"/>
<line x1="1140.5" y1="204.3" x2="1154.0" y2="204.3"/>
<line x1="1140.5" y1="298.9" x2="1154.0" y2="298.9"/>
<line x1="1140.5" y1="393.5" x2="1154.0" y2="393.5"/>
<line x1="1140.5" y1="488.1" x2="1154.0" y2="488.1"/>
<line x1="1140.5" y1="582.8" x2="1154.0" y2="582.8"/>
<line x1="1140.5" y1="677.4" x2="1154.0" y2="677.4"/>
</g>
<text class="tk" x="1154.0" y="721" text-anchor="middle">0</text>
<text class="tk" x="1359.3" y="721" text-anchor="middle">200</text>
<text class="tk" x="1564.7" y="721" text-anchor="middle">400</text>
<text class="tk" x="1770.0" y="721" text-anchor="middle">600</text>
<text class="tk" x="1975.3" y="721" text-anchor="middle">800</text>
<text class="tk" x="1132" y="23.8" text-anchor="end">2</text>
<text class="tk" x="1132" y="118.4" text-anchor="end">0</text>
<text class="tk" x="1132" y="213.1" text-anchor="end">-2</text>
<text class="tk" x="1132" y="307.7" text-anchor="end">-4</text>
<text class="tk" x="1132" y="402.3" text-anchor="end">-6</text>
<text class="tk" x="1132" y="496.9" text-anchor="end">-8</text>
<text class="tk" x="1132" y="591.6" text-anchor="end">-10</text>
<text class="tk" x="1132" y="686.2" text-anchor="end">-12</text>
<text class="pl" x="1022.9" y="29.1">(b)</text>
<text class="ax" x="1564.4" y="775" text-anchor="middle">Temperature(°C)</text>
<text class="ax" transform="translate(1056.3,421.7) rotate(-90)">DTG(%/min)</text>
<line x1="1166.9" y1="431.5" x2="1222.8" y2="431.5" stroke="#00f6f6" stroke-width="3.5" stroke-linecap="round"/>
<text class="lg" x="1237.9" y="441.4">E<tspan class="sub" dy="7.3">1</tspan></text>
<line x1="1166.9" y1="472.6" x2="1222.8" y2="472.6" stroke="#0a6414" stroke-width="3.5" stroke-linecap="round"/>
<text class="lg" x="1237.9" y="482.5">E<tspan class="sub" dy="7.3">2</tspan></text>
<line x1="1166.9" y1="513.8" x2="1222.8" y2="513.8" stroke="#e8aa1e" stroke-width="3.5" stroke-linecap="round"/>
<text class="lg" x="1237.9" y="523.7">E<tspan class="sub" dy="7.3">3</tspan></text>
<line x1="1166.9" y1="555.0" x2="1222.8" y2="555.0" stroke="#ff00ff" stroke-width="3.5" stroke-linecap="round"/>
<text class="lg" x="1237.9" y="564.9">E<tspan class="sub" dy="7.3">4</tspan></text>
<line x1="1166.9" y1="596.1" x2="1222.8" y2="596.1" stroke="#0000ff" stroke-width="3.5" stroke-linecap="round"/>
<text class="lg" x="1237.9" y="606.0">E<tspan class="sub" dy="7.3">5</tspan></text>
<line x1="1166.9" y1="637.2" x2="1222.8" y2="637.2" stroke="#ff0000" stroke-width="3.5" stroke-linecap="round"/>
<text class="lg" x="1237.9" y="647.1">E<tspan class="sub" dy="7.3">6</tspan></text>
</g>
</svg></body></html>
